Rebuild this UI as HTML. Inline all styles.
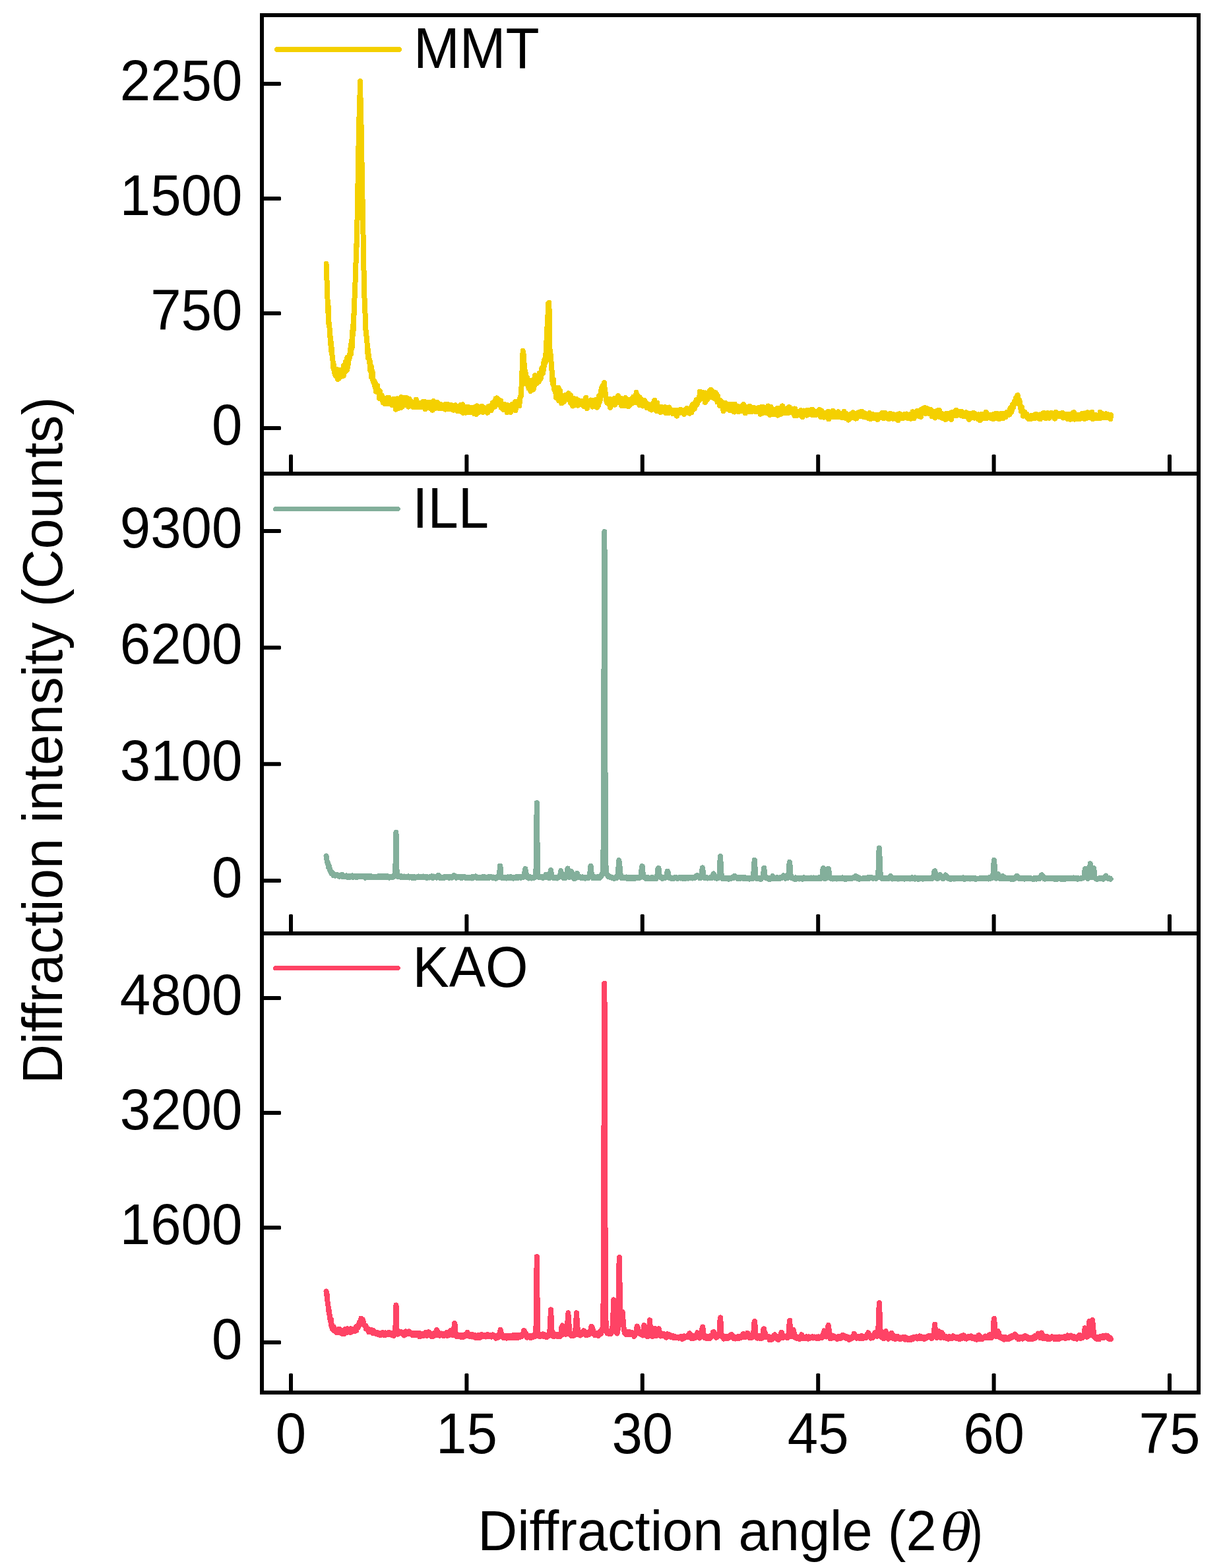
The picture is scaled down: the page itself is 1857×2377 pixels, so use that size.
<!DOCTYPE html>
<html lang="en">
<head>
<meta charset="utf-8">
<title>XRD patterns: MMT, ILL, KAO</title>
<style>
html,body{margin:0;padding:0;background:#fff;}
body{width:1857px;height:2377px;overflow:hidden;}
svg{display:block;}
text{font-family:"Liberation Sans",sans-serif;font-size:84px;fill:#000;}
.th{font-family:"Liberation Serif",serif;font-style:italic;}
.ax{stroke:#000;stroke-width:6;fill:none;stroke-linecap:butt;}
.tr{fill:#000;stroke:none;}
.d{fill:none;stroke-width:8;stroke-linejoin:round;stroke-linecap:round;}
</style>
</head>
<body>
<svg width="1857" height="2377" viewBox="0 0 1857 2377">
<rect x="0" y="0" width="1857" height="2377" fill="#fff"/>
<g id="curves" shape-rendering="crispEdges">
<polyline class="d" stroke="#F4D000" points="494.5,400 494.85,410.5 495.2,422.1 495.55,425.6 495.9,435.5 496.25,442 496.6,456.9 496.95,460.4 497.3,473.3 497.65,463.9 498,489.6 498.35,483.4 498.7,492.4 499.05,491.6 499.4,494.3 499.75,503.6 500.1,510.2 500.45,508.8 500.8,513.6 501.15,522.5 501.5,517.9 501.85,518.5 502.2,532.6 502.55,531 502.9,527.6 503.25,536 503.6,540.6 503.95,539.8 504.3,541.2 504.65,550.8 505,556.5 505.35,552.6 505.7,551.8 506.05,558.6 506.4,561.6 506.75,558.5 507.1,563.7 507.45,566.6 507.8,561.7 508.15,559.7 508.5,565.5 508.85,565.8 509.2,570.2 509.55,560.5 509.9,563.9 510.25,563.6 510.6,560.1 510.95,568.5 511.3,570.6 511.65,565.5 512,575 512.35,572.9 512.7,572.4 513.05,571.7 513.4,573.8 513.75,563.8 514.1,571.9 514.45,571.6 514.8,561.2 515.15,570.1 515.5,567.2 515.85,571.5 516.2,565.8 516.55,567.2 516.9,568.4 517.25,562.6 517.6,568.6 517.95,565.1 518.3,567.3 518.65,562.4 519,569.1 519.35,566.5 519.7,562.6 520.05,565.7 520.4,567.9 520.75,569.7 521.1,554 521.45,564.5 521.8,562 522.15,558.8 522.5,554 522.85,563.8 523.2,551.6 523.55,559.4 523.9,562.2 524.25,548 524.6,553.2 524.95,547.7 525.3,554.2 525.65,559.5 526,561.1 526.35,542.2 526.7,547.2 527.05,552.5 527.4,556 527.75,549.6 528.1,543 528.45,546.9 528.8,544.1 529.15,541.9 529.5,538 529.85,542.4 530.2,540.8 530.55,537.5 530.9,535.6 531.25,528.9 531.6,530.8 531.95,536.6 532.3,526.3 532.65,516.5 533,528.5 533.35,521.2 533.7,526.4 534.05,510.8 534.4,503.5 534.75,493.5 535.1,505.3 535.45,507.3 535.8,481.2 536.15,476.6 536.5,478.8 536.85,462.6 537.2,459.2 537.55,451.6 537.9,446.1 538.25,441.5 538.6,423 538.95,418.6 539.3,398.8 539.65,397.5 540,371.4 540.35,369.6 540.7,374.1 541.05,348.3 541.4,340.2 541.75,319.6 542.1,306.3 542.45,281.4 542.8,266.4 543.15,241.1 543.5,220.8 543.85,206.1 544.2,194.1 544.55,175.1 544.9,166.1 545.25,154.3 545.6,140.1 545.95,125.1 546,123 546.3,137.7 546.65,155.6 547,177.9 547.35,190.5 547.7,190.3 548.05,198.9 548.4,242.5 548.75,252.6 549.1,285.1 549.45,309.8 549.8,304.2 550.15,334.7 550.5,355.2 550.85,375.9 551.2,395.1 551.55,411.5 551.9,430.4 552.25,438 552.6,456.2 552.95,459.7 553.3,472.7 553.65,476.2 554,490.3 554.35,498.7 554.7,502 555.05,506.2 555.4,509.1 555.75,510.3 556.1,516.1 556.45,518.5 556.8,527.5 557.15,529.7 557.5,536.8 557.85,529.6 558.2,542.9 558.55,536.5 558.9,538.7 559.25,543.3 559.6,543.5 559.95,549.6 560.3,547.4 560.65,547.1 561,550.1 561.35,562.2 561.7,558.2 562.05,554.2 562.4,560.9 562.75,555.3 563.1,571.6 563.45,558.2 563.8,568.4 564.15,570 564.5,562.7 564.85,571.6 565.2,575.9 565.55,575 565.9,575.4 566.25,579.6 566.6,577.7 566.95,579.7 567.3,579.2 567.65,583.6 568,578.7 568.35,586.4 568.7,582.2 569.05,580.8 569.4,587.3 569.75,593.2 570.1,591.3 570.45,586.6 570.8,592.1 571.15,588.7 571.5,590.8 571.85,592.4 572.2,584.6 572.55,594.6 572.9,591.1 573.25,592.9 573.6,590.7 573.95,591.1 574.3,593.7 574.65,600.4 575,603.8 575.35,598.5 575.7,602.8 576.05,598.7 576.4,593.7 576.75,601.2 577.1,602.7 577.45,600.3 577.8,603.3 578.15,604.7 578.5,600.5 578.85,599 579.2,603.3 579.55,603.5 579.9,603.2 580.25,607.6 580.6,610.2 580.95,603.5 581.3,607.2 581.65,608.1 582,607.6 582.35,608.8 582.7,604.4 583.05,608.1 583.4,612.3 583.75,608.6 584.1,604.3 584.45,608.3 584.8,610.5 585.15,607.9 585.5,605.2 585.85,611.9 586.2,603.3 586.55,609 586.9,607.5 587.25,604 587.6,611.7 587.95,609.1 588.3,604.6 588.65,610.2 589,607.2 589.35,602.9 589.7,606.8 590.05,609.8 590.4,611 590.75,609.6 591.1,609.2 591.45,610.5 591.8,608.5 592.15,612.7 592.5,609.6 592.85,610.1 593.2,610.9 593.55,606.1 593.9,607.1 594.25,614 594.6,610.4 594.95,608.5 595.3,610.4 595.65,608 596,610.3 596.35,607.5 596.7,610.3 597.05,604.7 597.4,613.6 597.75,608 598.1,604.8 598.45,608.9 598.8,608.5 599.15,610.1 599.5,606.2 599.85,610.9 600.2,620.7 600.55,605.9 600.9,610.8 601.25,608.9 601.6,610.4 601.95,604.4 602.3,606.4 602.65,611.3 603,609.8 603.35,614.9 603.7,607.9 604.05,610.6 604.4,618.8 604.75,607.8 605.1,607.4 605.45,610 605.8,610 606.15,612.7 606.5,610.6 606.85,608 607.2,610.9 607.55,618.2 607.9,614.1 608.25,602 608.6,609.9 608.95,607.8 609.3,612.3 609.65,609.9 610,616.3 610.35,613.3 610.7,613.2 611.05,611.1 611.4,610.5 611.75,611.6 612.1,614.5 612.45,612.3 612.8,609.6 613.15,614.5 613.5,611.3 613.85,610.5 614.2,608.4 614.55,609.1 614.9,609 615.25,602.6 615.6,613.9 615.95,612.6 616.3,610.3 616.65,614.1 617,612.3 617.35,612.1 617.7,603.7 618.05,610.4 618.4,612.7 618.75,616 619.1,616.7 619.45,615.5 619.8,607.9 620.15,604.8 620.5,613.1 620.85,611.5 621.2,614.3 621.55,611.1 621.9,612.2 622.25,607.1 622.6,612.9 622.95,610.3 623.3,612.7 623.65,613.1 624,611.4 624.35,612.7 624.7,611.8 625.05,614.1 625.4,613.4 625.75,610.3 626.1,610.3 626.45,617.1 626.8,611.8 627.15,615 627.5,613.3 627.85,610.5 628.2,610 628.55,612.6 628.9,613 629.25,614.1 629.6,608.7 629.95,610.7 630.3,612.1 630.65,617.1 631,605.6 631.35,613.8 631.7,611 632.05,613.9 632.4,611.2 632.75,613.7 633.1,617.3 633.45,613.8 633.8,614.1 634.15,613.9 634.5,610.7 634.85,614.5 635.2,612.3 635.55,610.6 635.9,612.9 636.25,612.4 636.6,615.3 636.95,613 637.3,611.6 637.65,617.4 638,616.1 638.35,616.9 638.7,615.1 639.05,613 639.4,612.2 639.75,612.6 640.1,616.2 640.45,613.8 640.8,609.3 641.15,613.5 641.5,609.6 641.85,614.1 642.2,610.3 642.55,610.1 642.9,614.1 643.25,613.6 643.6,609.1 643.95,616 644.3,620.1 644.65,609.7 645,619.2 645.35,612.1 645.7,612.7 646.05,613.6 646.4,610 646.75,617.9 647.1,615.6 647.45,612.1 647.8,613.5 648.15,610 648.5,613.3 648.85,617 649.2,609.5 649.55,613.2 649.9,614.9 650.25,617.5 650.6,618.3 650.95,613.3 651.3,612.5 651.65,615.9 652,613.6 652.35,613.8 652.7,617.8 653.05,619.5 653.4,615.5 653.75,614.3 654.1,616.5 654.45,609.6 654.8,614.9 655.15,612 655.5,621.7 655.85,617 656.2,615.4 656.55,614.5 656.9,608 657.25,617.1 657.6,619.7 657.95,613.2 658.3,617.1 658.65,617.3 659,611 659.35,617.9 659.7,619.1 660.05,616 660.4,615.2 660.75,617.7 661.1,611.2 661.45,615.8 661.8,618.5 662.15,612.1 662.5,618.4 662.85,614.5 663.2,609.9 663.55,615.4 663.9,613.1 664.25,616.7 664.6,612.6 664.95,618.8 665.3,613.8 665.65,616.9 666,614.3 666.35,615.1 666.7,619.3 667.05,616.6 667.4,615 667.75,612.6 668.1,619.3 668.45,618.2 668.8,615.3 669.15,616.9 669.5,613.4 669.85,613.5 670.2,614.1 670.55,617.3 670.9,617.2 671.25,614.4 671.6,618.5 671.95,618.7 672.3,617 672.65,619.4 673,615.8 673.35,616.3 673.7,617.9 674.05,616.5 674.4,618.8 674.75,613.2 675.1,620.6 675.45,614.6 675.8,616.3 676.15,613 676.5,618.4 676.85,620.3 677.2,619.8 677.55,619.1 677.9,612.6 678.25,614.8 678.6,615.7 678.95,614.4 679.3,620 679.65,617.5 680,616.9 680.35,618.4 680.7,614.5 681.05,614.7 681.4,614.8 681.75,618.6 682.1,618.2 682.45,618.9 682.8,620.3 683.15,613.8 683.5,616 683.85,618 684.2,614 684.55,616.2 684.9,620.4 685.25,620.7 685.6,620.7 685.95,618 686.3,617.4 686.65,620.9 687,617 687.35,619 687.7,621.7 688.05,617.2 688.4,616.6 688.75,618.3 689.1,619.9 689.45,619.7 689.8,618.8 690.15,620 690.5,614.3 690.85,616.3 691.2,619.1 691.55,616.2 691.9,615.2 692.25,615.6 692.6,616.4 692.95,618.4 693.3,616.2 693.65,619.6 694,623.5 694.35,618.7 694.7,622.5 695.05,620 695.4,616.3 695.75,618.6 696.1,616.8 696.45,621.4 696.8,616.4 697.15,623 697.5,621.1 697.85,614.3 698.2,621.7 698.55,623.8 698.9,617.7 699.25,622.4 699.6,615.2 699.95,620.6 700.3,615.7 700.65,621.3 701,615.4 701.35,613.3 701.7,621.1 702.05,626.1 702.4,618.6 702.75,622.4 703.1,620.5 703.45,619.5 703.8,621.9 704.15,624.6 704.5,617.2 704.85,621.9 705.2,621.3 705.55,616.8 705.9,624.7 706.25,625.6 706.6,618.1 706.95,625.1 707.3,620.8 707.65,620.3 708,624.6 708.35,621.3 708.7,621.6 709.05,624.7 709.4,624.2 709.75,623.2 710.1,617.4 710.45,617 710.8,623.9 711.15,618.7 711.5,621.5 711.85,618.4 712.2,620.7 712.55,617.9 712.9,625.3 713.25,618.7 713.6,621 713.95,620.8 714.3,624.4 714.65,617.8 715,621.3 715.35,620.9 715.7,622.8 716.05,622.7 716.4,620.4 716.75,622.2 717.1,620.7 717.45,622.8 717.8,621.4 718.15,620.1 718.5,621.7 718.85,622.7 719.2,627.5 719.55,620.6 719.9,622.7 720.25,625.6 720.6,616.8 720.95,617.6 721.3,619 721.65,621.6 722,628 722.35,622.8 722.7,624.8 723.05,621.1 723.4,615.4 723.75,615.8 724.1,624.1 724.45,622 724.8,618.2 725.15,624.2 725.5,617.4 725.85,624.2 726.2,624.9 726.55,619.2 726.9,618.3 727.25,623.2 727.6,618.2 727.95,623.2 728.3,617.9 728.65,622.9 729,621.1 729.35,619.7 729.7,618.4 730.05,621.3 730.4,615.8 730.75,619.9 731.1,619.5 731.45,622.2 731.8,617.2 732.15,624.8 732.5,619.5 732.85,617.3 733.2,623.8 733.55,624.5 733.9,619.6 734.25,617.8 734.6,620.1 734.95,618.2 735.3,619.1 735.65,623.9 736,620.8 736.35,620.1 736.7,620.6 737.05,619.5 737.4,621.8 737.75,621.8 738.1,618.5 738.45,619.7 738.8,625.7 739.15,620.4 739.5,618.8 739.85,624.6 740.2,619.2 740.55,616.3 740.9,620.9 741.25,616.7 741.6,617.6 741.95,619.5 742.3,618 742.65,616 743,616.3 743.35,615.9 743.7,620.3 744.05,614.9 744.4,615 744.75,621.9 745.1,614.5 745.45,619.8 745.8,619.1 746.15,614.7 746.5,610.8 746.85,615.8 747.2,616.2 747.55,616.7 747.9,613.9 748.25,616.8 748.6,617.1 748.95,609.7 749.3,616.5 749.65,612.4 750,609.8 750.35,610.2 750.7,616.3 751.05,613.2 751.4,604.5 751.75,609.7 752.1,608.7 752.45,608.1 752.8,606.7 753.15,603.4 753.5,610.1 753.85,604.1 754.2,606.1 754.55,605.8 754.9,605.7 755.25,610.6 755.6,609.8 755.95,606.9 756.3,606.5 756.65,608.3 757,612.9 757.35,610.7 757.7,611.4 758.05,610.1 758.4,610.8 758.75,612.8 759.1,607.3 759.45,617.8 759.8,611.4 760.15,612.6 760.5,618.5 760.85,615.9 761.2,615.9 761.55,614.7 761.9,612.6 762.25,617.6 762.6,620.4 762.95,614.8 763.3,621.1 763.65,614.4 764,615.6 764.35,619.1 764.7,617.8 765.05,619.8 765.4,616 765.75,615.4 766.1,613.2 766.45,615.1 766.8,615.6 767.15,614.8 767.5,619.5 767.85,617 768.2,613.6 768.55,625.5 768.9,616.9 769.25,615.9 769.6,622.5 769.95,622.4 770.3,616.5 770.65,615.7 771,617.1 771.35,622.7 771.7,619.1 772.05,617.9 772.4,619.8 772.75,622.9 773.1,616 773.45,618.5 773.8,615.8 774.15,625 774.5,624 774.85,621.6 775.2,618.6 775.55,620.6 775.9,613.2 776.25,619.4 776.6,615 776.95,614.9 777.3,616.5 777.65,617.3 778,619.7 778.35,619.9 778.7,618.6 779.05,615.3 779.4,619.5 779.75,617.3 780.1,620.6 780.45,614.6 780.8,609.2 781.15,615.1 781.5,622 781.85,617.1 782.2,614.9 782.55,617.6 782.9,616.2 783.25,615.7 783.6,612.6 783.95,613.8 784.3,613.5 784.65,610.4 785,608.4 785.35,611.5 785.7,613.3 786.05,611.8 786.4,610.7 786.75,610.1 787.1,615.3 787.45,606.7 787.8,607.8 788.15,609.5 788.5,601.9 788.85,601.2 789.2,602 789.55,601.1 789.9,593.1 790.25,590.1 790.6,584.3 790.95,570.1 791.3,570.7 791.65,556.9 792,546 792.35,540.8 792.6,532 792.7,532.8 793.05,536 793.4,536.1 793.75,546.8 794.1,538.2 794.45,549.5 794.8,553.8 795.15,561 795.5,561.5 795.85,561.5 796.2,564 796.55,566.6 796.9,573.7 797.25,566.8 797.6,572.8 797.95,571.1 798.3,573.4 798.65,572.2 799,583.1 799.35,572.4 799.7,577.1 800.05,578.5 800.4,581.6 800.75,582.8 801.1,584.6 801.45,588.6 801.8,579.6 802.15,585.9 802.5,581.5 802.85,587.6 803.2,582.6 803.55,583.9 803.9,587.7 804.25,592.9 804.6,589.2 804.95,587.6 805.3,591.3 805.65,581.7 806,576.6 806.35,582.5 806.7,582.5 807.05,587.8 807.4,590.6 807.75,576.2 808.1,590.6 808.45,586.3 808.8,582.7 809.15,580 809.5,587.7 809.85,577.4 810.2,574.4 810.55,576.2 810.9,569.2 811.25,576.1 811.6,574 811.95,576.2 812.3,576.8 812.65,571.3 813,581.5 813.35,572.4 813.7,580.6 814.05,570.9 814.4,579.3 814.75,574.9 815.1,578.9 815.45,576.3 815.8,569.4 816.15,573.1 816.5,577.2 816.85,578.8 817.2,569.5 817.55,566.1 817.9,570.6 818.25,572.7 818.6,570.1 818.95,568.3 819.3,574.3 819.65,573.7 820,571.7 820.35,563.4 820.7,566.7 821.05,564.5 821.4,557.9 821.75,567.1 822.1,562.4 822.45,558.6 822.8,566.1 823.15,562 823.5,561.2 823.85,561.4 824.2,557.8 824.55,547 824.9,549.7 825.25,555 825.6,544.6 825.95,546.5 826.3,546.3 826.65,549.6 827,547 827.35,540.5 827.7,529.4 828.05,529.8 828.4,520.2 828.75,507.2 829.1,508.8 829.45,498 829.8,484.6 830.15,491.5 830.5,476.9 830.85,476.8 831.2,460.3 831.55,465.1 831.9,461.5 832.25,459.4 832.3,458.8 832.6,472.6 832.95,489.3 833.3,521.8 833.65,534.1 834,535.7 834.35,544.2 834.7,536.9 835.05,546.6 835.4,545.6 835.75,552.1 836.1,558.6 836.45,560.9 836.8,562.5 837.15,568.6 837.5,578.5 837.85,579.6 838.2,582 838.55,575 838.9,574.7 839.25,583.7 839.6,585.8 839.95,585.8 840.3,590.4 840.65,589.5 841,586.8 841.35,588.9 841.7,593.7 842.05,594.3 842.4,594.2 842.75,602.9 843.1,594.4 843.45,596.2 843.8,592.7 844.15,595.3 844.5,598.7 844.85,599.2 845.2,597.1 845.55,599.3 845.9,598.5 846.25,592.2 846.6,587.8 846.95,607.2 847.3,602.5 847.65,599.9 848,594.6 848.35,596.5 848.7,605.6 849.05,592.2 849.4,600.7 849.75,605 850.1,603 850.45,605.3 850.8,602.8 851.15,611.3 851.5,600.6 851.85,599.9 852.2,605.5 852.55,609.2 852.9,604.4 853.25,607.8 853.6,602.7 853.95,600.5 854.3,608.7 854.65,609.2 855,609 855.35,602.5 855.7,600.1 856.05,600 856.4,602.9 856.75,605.5 857.1,605.1 857.45,598.7 857.8,603.9 858.15,603.3 858.5,603.4 858.85,602.9 859.2,602.3 859.55,604.8 859.9,603.2 860.25,603.4 860.6,600.4 860.95,604.1 861.3,602.6 861.65,596.3 862,604.9 862.35,602.7 862.7,606.7 863.05,603.3 863.4,603.7 863.75,604.9 864.1,604.3 864.45,603.1 864.8,599 865.15,610.8 865.5,600 865.85,604.2 866.2,607.5 866.55,606.8 866.9,607.6 867.25,608.4 867.6,610.1 867.95,607.2 868.3,615.6 868.65,603.5 869,607.5 869.35,605.9 869.7,605.5 870.05,608.2 870.4,612 870.75,605.5 871.1,605.7 871.45,610.3 871.8,609.9 872.15,614.4 872.5,611.7 872.85,609.4 873.2,607.8 873.55,609.6 873.9,608.5 874.25,605 874.6,609.3 874.95,608.8 875.3,608.7 875.65,608.2 876,614.7 876.35,611.8 876.7,612.6 877.05,608 877.4,606.9 877.75,609.2 878.1,610.9 878.45,609.2 878.8,609.8 879.15,613.3 879.5,611.4 879.85,607.7 880.2,609.4 880.55,608.9 880.9,611.4 881.25,607.5 881.6,610.6 881.95,613.2 882.3,611.4 882.65,608.7 883,609.6 883.35,611.9 883.7,613.1 884.05,614.2 884.4,611.4 884.75,608.1 885.1,616.2 885.45,612.9 885.8,613.2 886.15,612.9 886.5,609 886.85,611.1 887.2,612.8 887.55,615 887.9,612.2 888.25,602.9 888.6,611.3 888.95,613 889.3,615.8 889.65,614.1 890,619.3 890.35,616.2 890.7,615.9 891.05,614.8 891.4,607.9 891.75,614.5 892.1,613.8 892.45,610.5 892.8,613.7 893.15,613.2 893.5,610.6 893.85,611.6 894.2,611.2 894.55,612.7 894.9,610.8 895.25,613.6 895.6,606.4 895.95,611.2 896.3,607.1 896.65,610.6 897,613.5 897.35,612.1 897.7,611.7 898.05,612.2 898.4,616.6 898.75,608.8 899.1,614.6 899.45,607.6 899.8,610.6 900.15,612.5 900.5,609.5 900.85,612.6 901.2,614.1 901.55,608.5 901.9,611.8 902.25,610.9 902.6,606.3 902.95,611.5 903.3,609.7 903.65,615.9 904,609.4 904.35,617 904.7,610.4 905.05,617.7 905.4,613.6 905.75,613.3 906.1,613.8 906.45,613.6 906.8,614.6 907.15,615.1 907.5,608.3 907.85,605 908.2,600.1 908.55,606.6 908.9,609.7 909.25,608 909.6,606.7 909.95,604 910.3,600.9 910.65,600 911,600.1 911.35,590.6 911.7,597.2 912.05,587.9 912.4,591.5 912.75,588.6 913.1,588.4 913.45,584.7 913.8,584 914.15,587.2 914.5,583.7 914.85,596.9 915,585.9 915.2,585.3 915.55,586.1 915.9,584.7 916.25,580 916.6,589.2 916.95,593.7 917.3,589.8 917.65,597.5 918,595.9 918.35,601.5 918.7,604.4 919.05,606.4 919.4,607.9 919.75,605 920.1,610.3 920.45,606.5 920.8,609.3 921.15,610.7 921.5,607.9 921.85,605.2 922.2,611.3 922.55,606.4 922.9,607.4 923.25,607.1 923.6,613.3 923.95,610.6 924.3,604.8 924.65,613.9 925,618.1 925.35,617.6 925.7,611 926.05,613.2 926.4,614.1 926.75,614.9 927.1,612.1 927.45,608.5 927.8,613.6 928.15,612.9 928.5,606.8 928.85,609.4 929.2,611 929.55,609.9 929.9,611.2 930.25,611.7 930.6,610.6 930.95,608.3 931.3,604.2 931.65,610 932,612.1 932.35,613.6 932.7,607 933.05,606.7 933.4,611.1 933.75,610.8 934.1,607 934.45,607.9 934.8,603.4 935.15,607.8 935.5,603.5 935.85,605.7 936.2,606 936.55,605 936.9,600 937.25,604.1 937.6,607.9 937.95,606.8 938.3,605.9 938.65,608.6 939,609.5 939.35,610.2 939.7,605.2 940.05,607.9 940.4,606.9 940.75,605.3 941.1,603.6 941.45,608 941.8,605.8 942.15,615.2 942.5,608.4 942.85,608.2 943.2,607.8 943.55,614.8 943.9,606.4 944.25,608.9 944.6,607.2 944.95,609.3 945.3,609.7 945.65,613.3 946,605.9 946.35,610.2 946.7,615.3 947.05,609 947.4,610.2 947.75,608.2 948.1,603.2 948.45,610.8 948.8,614.8 949.15,610 949.5,606.1 949.85,612.5 950.2,612.1 950.55,614.9 950.9,614.8 951.25,611.5 951.6,613.6 951.95,607.3 952.3,615.9 952.65,613.4 953,616 953.35,615.7 953.7,611.6 954.05,611.7 954.4,609.4 954.75,605.6 955.1,611.1 955.45,611.7 955.8,607.7 956.15,612.8 956.5,610.8 956.85,611.6 957.2,607.7 957.55,604.4 957.9,611.9 958.25,611.1 958.6,608.7 958.95,607.5 959.3,607.7 959.65,607.9 960,606.5 960.35,601.6 960.7,610 961.05,602.7 961.4,606.1 961.75,605.9 962.1,607.5 962.45,601.3 962.8,610 963.15,608 963.5,608.1 963.85,609.5 964.2,602.7 964.55,594.9 964.9,605.8 965.25,609 965.6,608.7 965.95,603.5 966.3,605.2 966.65,606.6 967,600.2 967.35,604 967.7,604.3 968.05,611.5 968.4,604.7 968.75,611.9 969.1,607.2 969.45,602.2 969.8,614.5 970.15,604.8 970.5,609.9 970.85,613.5 971.2,606.8 971.55,604.9 971.9,612.1 972.25,609.3 972.6,605.6 972.95,606.2 973.3,608.6 973.65,612.8 974,609.3 974.35,612.3 974.7,615.5 975.05,614.6 975.4,615.3 975.75,614.9 976.1,606.7 976.45,615.3 976.8,612.9 977.15,611.8 977.5,609.2 977.85,608 978.2,609.6 978.55,613 978.9,609.9 979.25,611.1 979.6,611.9 979.95,615.8 980.3,613.3 980.65,614 981,618.4 981.35,613.9 981.7,616.7 982.05,612.3 982.4,616.4 982.75,616.1 983.1,616.5 983.45,614.9 983.8,613.6 984.15,615.8 984.5,615.6 984.85,619.9 985.2,619.8 985.55,614.3 985.9,619.5 986.25,616.7 986.6,619.5 986.95,617.2 987.3,614.8 987.65,621.6 988,619.8 988.35,614.7 988.7,612.2 989.05,615.2 989.4,612.8 989.75,614.4 990.1,616.5 990.45,618.3 990.8,612.3 991.15,616.6 991.5,615.3 991.85,609.8 992.2,606.8 992.55,615.1 992.9,615.3 993.25,621 993.6,619.2 993.95,617.9 994.3,620.9 994.65,614 995,617.9 995.35,617.2 995.7,623.2 996.05,620.5 996.4,611 996.75,622.7 997.1,616.8 997.45,621.3 997.8,618.1 998.15,620 998.5,621.1 998.85,620 999.2,617.1 999.55,623.3 999.9,620.7 1000.25,619.7 1000.6,621.6 1000.95,618.5 1001.3,624.8 1001.65,620.6 1002,621 1002.35,621 1002.7,617.8 1003.05,617.2 1003.4,620.8 1003.75,621.2 1004.1,623.9 1004.45,621.6 1004.8,617.7 1005.15,621.9 1005.5,622.8 1005.85,623.3 1006.2,621.6 1006.55,617.7 1006.9,623.8 1007.25,619.1 1007.6,622.4 1007.95,617 1008.3,623.1 1008.65,619.2 1009,624 1009.35,625.8 1009.7,624.3 1010.05,618.5 1010.4,619.1 1010.75,619.3 1011.1,623.3 1011.45,622.5 1011.8,622.1 1012.15,622.6 1012.5,623.3 1012.85,623.6 1013.2,626.2 1013.55,621.9 1013.9,622.6 1014.25,617.5 1014.6,618.9 1014.95,620.6 1015.3,619.4 1015.65,623 1016,625.1 1016.35,621.5 1016.7,621.4 1017.05,621.4 1017.4,623.1 1017.75,621.4 1018.1,623.9 1018.45,623.7 1018.8,623.8 1019.15,624.9 1019.5,623.2 1019.85,623.5 1020.2,627.5 1020.55,623.2 1020.9,625.3 1021.25,623.5 1021.6,622.4 1021.95,622.4 1022.3,621.6 1022.65,623.7 1023,622.3 1023.35,622.8 1023.7,626.8 1024.05,623.6 1024.4,626.7 1024.75,624.7 1025.1,626.2 1025.45,622.7 1025.8,624.6 1026.15,630.6 1026.5,626.3 1026.85,626.8 1027.2,625 1027.55,626.6 1027.9,621.8 1028.25,622.6 1028.6,625.8 1028.95,626.7 1029.3,623.9 1029.65,624.5 1030,624.1 1030.35,624.5 1030.7,622.1 1031.05,621.5 1031.4,624.6 1031.75,620.6 1032.1,622.4 1032.45,623.1 1032.8,622.1 1033.15,625.2 1033.5,623.5 1033.85,624.3 1034.2,622 1034.55,622.6 1034.9,625.6 1035.25,625.2 1035.6,623.2 1035.95,625.1 1036.3,624.6 1036.65,624.5 1037,627.9 1037.35,623.1 1037.7,625 1038.05,625 1038.4,623.3 1038.75,621.1 1039.1,625.5 1039.45,624.4 1039.8,623.8 1040.15,623.7 1040.5,623.7 1040.85,621.4 1041.2,624.3 1041.55,619.1 1041.9,623.4 1042.25,619.8 1042.6,622.5 1042.95,625.1 1043.3,622.6 1043.65,622.1 1044,624.4 1044.35,622.5 1044.7,622.1 1045.05,622.1 1045.4,626.7 1045.75,624.6 1046.1,624.1 1046.45,619.9 1046.8,623.9 1047.15,618.7 1047.5,622.7 1047.85,618.1 1048.2,625.5 1048.55,615.7 1048.9,622.8 1049.25,621.3 1049.6,614 1049.95,617.6 1050.3,621.7 1050.65,620.4 1051,612.4 1051.35,615 1051.7,612.8 1052.05,612.7 1052.4,613.3 1052.75,619.8 1053.1,614.3 1053.45,612.7 1053.8,611.7 1054.15,614 1054.5,613.5 1054.85,608.1 1055.2,614.6 1055.55,606.3 1055.9,608.1 1056.25,609.7 1056.6,613 1056.95,606 1057.3,607.4 1057.65,610 1058,607.2 1058.35,608.2 1058.7,607.4 1059.05,604.2 1059.4,604.8 1059.75,605.2 1060.1,601.4 1060.45,606.2 1060.8,593.6 1061.15,597.2 1061.5,605.1 1061.85,601.7 1062.2,598.1 1062.55,601.6 1062.9,603.9 1063.25,598.4 1063.6,602.9 1063.95,599.9 1064.3,599.9 1064.65,600.1 1065,604 1065.35,596.5 1065.7,599.1 1066.05,602.5 1066.4,596.2 1066.75,595 1067.1,602.2 1067.45,600.3 1067.8,599.8 1068.15,600.8 1068.5,597 1068.85,610.1 1069.2,597 1069.55,598.8 1069.9,595.5 1070.25,598.9 1070.6,605.4 1070.95,600.4 1071.3,602.2 1071.65,598.4 1072,606 1072.35,600.3 1072.7,595.4 1073.05,602.1 1073.4,598.1 1073.75,601.2 1074.1,599.5 1074.45,599.8 1074.8,599.2 1075.15,595.5 1075.5,593.4 1075.85,601.7 1076.2,597.7 1076.55,599.1 1076.9,596.3 1077.25,590.8 1077.6,593.3 1077.95,602.3 1078.3,594.7 1078.65,595.9 1079,592 1079.35,595.1 1079.7,595.5 1080.05,595.9 1080.4,596.3 1080.75,594.2 1081.1,594.2 1081.45,596.3 1081.8,597.9 1082.15,596.7 1082.5,603.7 1082.85,598.8 1083.2,599.1 1083.55,596.8 1083.9,602.9 1084.25,596.4 1084.6,594.9 1084.95,597.5 1085.3,603.3 1085.65,597.8 1086,606.3 1086.35,602.4 1086.7,598 1087.05,602.7 1087.4,609.6 1087.75,601.5 1088.1,600.5 1088.45,606.8 1088.8,609.7 1089.15,609.2 1089.5,605.4 1089.85,607.5 1090.2,608.3 1090.55,611.3 1090.9,614.7 1091.25,608.1 1091.6,612.8 1091.95,608.2 1092.3,611.4 1092.65,607.3 1093,608.2 1093.35,612.1 1093.7,608.6 1094.05,614.3 1094.4,610.4 1094.75,612.7 1095.1,612.6 1095.45,612.3 1095.8,614 1096.15,617.1 1096.5,623.2 1096.85,611.5 1097.2,616.1 1097.55,615.1 1097.9,613.3 1098.25,616.7 1098.6,613.6 1098.95,615.8 1099.3,619.6 1099.65,610.7 1100,617 1100.35,617.6 1100.7,613.8 1101.05,617.9 1101.4,617.5 1101.75,615.7 1102.1,620 1102.45,613.2 1102.8,618.6 1103.15,616.3 1103.5,614.2 1103.85,616.6 1104.2,616.2 1104.55,619.5 1104.9,613.3 1105.25,616.9 1105.6,616.2 1105.95,621.8 1106.3,614.6 1106.65,620.5 1107,613 1107.35,618.8 1107.7,617.5 1108.05,619 1108.4,616.2 1108.75,612.9 1109.1,614.1 1109.45,621.8 1109.8,618.9 1110.15,616.1 1110.5,620.9 1110.85,616.6 1111.2,616.7 1111.55,615.5 1111.9,621.9 1112.25,624 1112.6,616.3 1112.95,619.6 1113.3,621.5 1113.65,624.5 1114,612.7 1114.35,619.4 1114.7,620.7 1115.05,615.2 1115.4,620.2 1115.75,619.6 1116.1,621.1 1116.45,617.7 1116.8,620.3 1117.15,617.7 1117.5,620.9 1117.85,619.7 1118.2,618.4 1118.55,615.7 1118.9,623.7 1119.25,622.3 1119.6,621.8 1119.95,617.8 1120.3,618.6 1120.65,623.9 1121,621.6 1121.35,617.4 1121.7,619.8 1122.05,620.1 1122.4,619.2 1122.75,617.4 1123.1,623.1 1123.45,621.4 1123.8,619.4 1124.15,615.9 1124.5,618.5 1124.85,620 1125.2,622.3 1125.55,619.1 1125.9,623 1126.25,620.5 1126.6,618.3 1126.95,613 1127.3,617.3 1127.65,616.5 1128,620 1128.35,621.2 1128.7,624 1129.05,620.4 1129.4,617.5 1129.75,626.5 1130.1,621.4 1130.45,619.9 1130.8,620 1131.15,617.2 1131.5,622.3 1131.85,621.7 1132.2,624.8 1132.55,623.6 1132.9,623 1133.25,624 1133.6,620.1 1133.95,619.7 1134.3,620.7 1134.65,617.7 1135,620.5 1135.35,620 1135.7,622.5 1136.05,620.8 1136.4,616 1136.75,620.9 1137.1,624.5 1137.45,616.2 1137.8,618.9 1138.15,620.9 1138.5,617.5 1138.85,619.5 1139.2,621 1139.55,617.5 1139.9,621.6 1140.25,621.9 1140.6,617.6 1140.95,620.9 1141.3,623.6 1141.65,620.4 1142,622 1142.35,622.5 1142.7,620.3 1143.05,623.4 1143.4,621.9 1143.75,618.4 1144.1,622.2 1144.45,623.1 1144.8,622.9 1145.15,619.3 1145.5,622.1 1145.85,624.4 1146.2,621.5 1146.55,623.9 1146.9,624.2 1147.25,620.8 1147.6,622.6 1147.95,620.2 1148.3,623.6 1148.65,620.7 1149,619.5 1149.35,620.9 1149.7,620.7 1150.05,621.9 1150.4,622.1 1150.75,618 1151.1,619.3 1151.45,621.9 1151.8,622.2 1152.15,621.2 1152.5,627.7 1152.85,623.8 1153.2,620.8 1153.55,622.9 1153.9,624.5 1154.25,622 1154.6,616.7 1154.95,621.4 1155.3,621.3 1155.65,626.6 1156,616.6 1156.35,625.2 1156.7,621 1157.05,623.7 1157.4,620.7 1157.75,621.9 1158.1,624.4 1158.45,621.7 1158.8,624.2 1159.15,621.4 1159.5,620.6 1159.85,621.1 1160.2,620.5 1160.55,621.5 1160.9,625.2 1161.25,618.9 1161.6,617.7 1161.95,621.9 1162.3,626.2 1162.65,624.6 1163,625.3 1163.35,625.2 1163.7,620.3 1164.05,622.4 1164.4,615.5 1164.75,620.7 1165.1,623.7 1165.45,618.4 1165.8,617.2 1166.15,619.1 1166.5,622.9 1166.85,625.3 1167.2,628.9 1167.55,626 1167.9,618.8 1168.25,616.8 1168.6,623 1168.95,625.3 1169.3,618.7 1169.65,621.4 1170,621.6 1170.35,622.9 1170.7,622.4 1171.05,624.1 1171.4,625.5 1171.75,623.1 1172.1,624.8 1172.45,627.9 1172.8,620.5 1173.15,620.5 1173.5,624.4 1173.85,627.7 1174.2,623.5 1174.55,625.8 1174.9,622.3 1175.25,625.3 1175.6,621.5 1175.95,624.7 1176.3,624 1176.65,624 1177,626.4 1177.35,625.6 1177.7,621.5 1178.05,625.2 1178.4,618.8 1178.75,625.4 1179.1,629.7 1179.45,624.3 1179.8,624.2 1180.15,623.1 1180.5,625 1180.85,621.8 1181.2,624.6 1181.55,622.2 1181.9,621.8 1182.25,623.2 1182.6,622.7 1182.95,618.5 1183.3,628 1183.65,623.2 1184,618.6 1184.35,625.5 1184.7,622.7 1185.05,623.3 1185.4,624.5 1185.75,620.5 1186.1,615.4 1186.45,622.4 1186.8,623.3 1187.15,625.1 1187.5,620.7 1187.85,621.9 1188.2,623.6 1188.55,621.8 1188.9,621.9 1189.25,623.2 1189.6,620 1189.95,626.5 1190.3,620.2 1190.65,622.6 1191,621.6 1191.35,620.7 1191.7,623.8 1192.05,624.9 1192.4,626 1192.75,623.8 1193.1,621.2 1193.45,624.5 1193.8,618.7 1194.15,622.4 1194.5,623.4 1194.85,623.4 1195.2,618.9 1195.55,617.9 1195.9,625.7 1196.25,620.1 1196.6,617 1196.95,617.9 1197.3,621 1197.65,623.8 1198,620.7 1198.35,623.6 1198.7,621 1199.05,621.5 1199.4,623.2 1199.75,620.1 1200.1,622.2 1200.45,620.9 1200.8,620.6 1201.15,624.2 1201.5,621 1201.85,623.6 1202.2,621.8 1202.55,623.9 1202.9,623.3 1203.25,627.5 1203.6,625.5 1203.95,625.9 1204.3,629.9 1204.65,619.5 1205,623.6 1205.35,619.8 1205.7,626.1 1206.05,627.1 1206.4,627.6 1206.75,626.7 1207.1,624.1 1207.45,630.2 1207.8,626.8 1208.15,625.5 1208.5,623.5 1208.85,627.1 1209.2,625 1209.55,625.1 1209.9,626.6 1210.25,626.6 1210.6,624.2 1210.95,629 1211.3,623.8 1211.65,623.5 1212,626.8 1212.35,626.4 1212.7,626.2 1213.05,625.1 1213.4,626.2 1213.75,624.8 1214.1,622.2 1214.45,627.8 1214.8,623.7 1215.15,625.5 1215.5,627.7 1215.85,626 1216.2,632.3 1216.55,622.7 1216.9,624.2 1217.25,626.1 1217.6,629 1217.95,625.3 1218.3,622.5 1218.65,628.5 1219,623.7 1219.35,625.3 1219.7,627.8 1220.05,624.2 1220.4,624.7 1220.75,626.9 1221.1,625.2 1221.45,626.4 1221.8,623.5 1222.15,625.4 1222.5,623.1 1222.85,622 1223.2,629.7 1223.55,626.6 1223.9,627.7 1224.25,623.3 1224.6,625.5 1224.95,625 1225.3,622.2 1225.65,626.7 1226,623.8 1226.35,625 1226.7,621.9 1227.05,627.7 1227.4,627.2 1227.75,626.3 1228.1,623.2 1228.45,624.1 1228.8,628.2 1229.15,624.6 1229.5,625.9 1229.85,625.6 1230.2,622.6 1230.55,628.8 1230.9,620.5 1231.25,625.7 1231.6,625 1231.95,621.4 1232.3,625.9 1232.65,626.3 1233,625.2 1233.35,623.1 1233.7,626.1 1234.05,627.7 1234.4,625.6 1234.75,629.1 1235.1,627.1 1235.45,626.9 1235.8,628.4 1236.15,623.6 1236.5,624 1236.85,626.5 1237.2,626.5 1237.55,628.9 1237.9,628.1 1238.25,625.9 1238.6,626 1238.95,624.9 1239.3,624.8 1239.65,624.6 1240,627.9 1240.35,624.7 1240.7,625 1241.05,626.3 1241.4,624.8 1241.75,625.5 1242.1,621 1242.45,627 1242.8,625.5 1243.15,626.7 1243.5,627.1 1243.85,622.1 1244.2,631.9 1244.55,626.8 1244.9,627 1245.25,622.5 1245.6,628.1 1245.95,627.7 1246.3,626 1246.65,627.5 1247,629.9 1247.35,626.3 1247.7,625.1 1248.05,630.2 1248.4,627.8 1248.75,626.9 1249.1,632.6 1249.45,627.8 1249.8,627.1 1250.15,628.1 1250.5,626.7 1250.85,628.1 1251.2,628 1251.55,626.3 1251.9,627.2 1252.25,628.5 1252.6,628.7 1252.95,629.2 1253.3,629.7 1253.65,628.6 1254,629.2 1254.35,627.3 1254.7,627.6 1255.05,630.5 1255.4,623.9 1255.75,629.1 1256.1,635.3 1256.45,624.3 1256.8,631.7 1257.15,624.5 1257.5,629.2 1257.85,632 1258.2,631.7 1258.55,626.5 1258.9,625.6 1259.25,625.4 1259.6,630.1 1259.95,627.7 1260.3,628.6 1260.65,629.2 1261,629.5 1261.35,629.8 1261.7,629 1262.05,625.2 1262.4,631.9 1262.75,622.8 1263.1,631.5 1263.45,627.6 1263.8,628.5 1264.15,627.8 1264.5,628.2 1264.85,628.9 1265.2,628.4 1265.55,626.7 1265.9,630.9 1266.25,627.9 1266.6,632 1266.95,628.9 1267.3,627.7 1267.65,630.2 1268,631.2 1268.35,627.3 1268.7,628.8 1269.05,632.4 1269.4,627.3 1269.75,627.7 1270.1,629.9 1270.45,626.9 1270.8,624.3 1271.15,626.1 1271.5,630.4 1271.85,631.1 1272.2,631 1272.55,630.6 1272.9,627.2 1273.25,631.2 1273.6,632.3 1273.95,628.4 1274.3,631.9 1274.65,629.2 1275,630.4 1275.35,630.8 1275.7,626.9 1276.05,633.2 1276.4,628.3 1276.75,629.9 1277.1,629 1277.45,631 1277.8,631 1278.15,630.1 1278.5,633.1 1278.85,630.7 1279.2,629.2 1279.55,624 1279.9,629.5 1280.25,629.5 1280.6,628.3 1280.95,628.3 1281.3,631.3 1281.65,632.3 1282,634.1 1282.35,632.5 1282.7,628.6 1283.05,630.6 1283.4,627.2 1283.75,631.6 1284.1,630.8 1284.45,628.8 1284.8,629.9 1285.15,629.6 1285.5,628.8 1285.85,632.9 1286.2,636.6 1286.55,631.8 1286.9,632.3 1287.25,630.4 1287.6,629.4 1287.95,634.7 1288.3,629.3 1288.65,630.9 1289,629.8 1289.35,631.3 1289.7,630 1290.05,631.3 1290.4,627.4 1290.75,629.9 1291.1,633 1291.45,627.9 1291.8,628.7 1292.15,633 1292.5,630.9 1292.85,632.3 1293.2,625.4 1293.55,630.4 1293.9,627.4 1294.25,627.2 1294.6,631 1294.95,632.6 1295.3,626.9 1295.65,627.8 1296,628.9 1296.35,629.8 1296.7,627.3 1297.05,634.7 1297.4,631.1 1297.75,628.9 1298.1,628.5 1298.45,634.4 1298.8,634.1 1299.15,628.1 1299.5,629.8 1299.85,631.7 1300.2,626.2 1300.55,627.4 1300.9,631.5 1301.25,626.9 1301.6,627.3 1301.95,625.2 1302.3,626.4 1302.65,629.4 1303,625.9 1303.35,624.7 1303.7,626.1 1304.05,631.4 1304.4,627.7 1304.75,625.9 1305.1,627.4 1305.45,628.3 1305.8,627.7 1306.15,623.6 1306.5,628.5 1306.85,627.5 1307.2,630 1307.55,625.3 1307.9,630.8 1308.25,627.6 1308.6,625.1 1308.95,631.9 1309.3,628.1 1309.65,630.1 1310,629.2 1310.35,632 1310.7,632.2 1311.05,632.4 1311.4,631.7 1311.75,627 1312.1,627.1 1312.45,631.1 1312.8,628.9 1313.15,632 1313.5,631.3 1313.85,628.1 1314.2,628.9 1314.55,628.7 1314.9,629.2 1315.25,630.6 1315.6,632.4 1315.95,633.8 1316.3,629 1316.65,629.8 1317,634.2 1317.35,632.8 1317.7,631.5 1318.05,626.2 1318.4,628.9 1318.75,631.3 1319.1,629.8 1319.45,635.1 1319.8,631.2 1320.15,631.6 1320.5,628.7 1320.85,628.8 1321.2,629.6 1321.55,629.7 1321.9,630.5 1322.25,631.8 1322.6,631.5 1322.95,633.1 1323.3,628.2 1323.65,631.4 1324,631.5 1324.35,634.3 1324.7,630.5 1325.05,631.7 1325.4,629.3 1325.75,631.9 1326.1,631.8 1326.45,629.7 1326.8,630.1 1327.15,630.9 1327.5,632.2 1327.85,628.6 1328.2,632.8 1328.55,630.3 1328.9,634.9 1329.25,634 1329.6,630.2 1329.95,629.7 1330.3,636.1 1330.65,632.3 1331,632.2 1331.35,630.1 1331.7,630.7 1332.05,632.7 1332.4,632.3 1332.75,629.3 1333.1,633.6 1333.45,631.6 1333.8,629 1334.15,633.1 1334.5,630.6 1334.85,632.6 1335.2,629.9 1335.55,631.7 1335.9,627.6 1336.25,631.8 1336.6,627.9 1336.95,631.3 1337.3,625.8 1337.65,630.9 1338,632.5 1338.35,632 1338.7,633.5 1339.05,628.8 1339.4,634.3 1339.75,634.4 1340.1,628.6 1340.45,629.5 1340.8,630 1341.15,631.1 1341.5,631.6 1341.85,626.1 1342.2,632.4 1342.55,630.7 1342.9,629.2 1343.25,633.2 1343.6,630.6 1343.95,633.6 1344.3,632.4 1344.65,630.7 1345,633.7 1345.35,633 1345.7,630.4 1346.05,628.1 1346.4,630.3 1346.75,632.7 1347.1,631 1347.45,635.1 1347.8,632 1348.15,631.9 1348.5,632.3 1348.85,629.7 1349.2,631.3 1349.55,630.2 1349.9,626.8 1350.25,628 1350.6,633.1 1350.95,630.7 1351.3,631.4 1351.65,628.7 1352,630.5 1352.35,633.3 1352.7,631.9 1353.05,630.7 1353.4,634.8 1353.75,631.7 1354.1,631.1 1354.45,634.1 1354.8,628.3 1355.15,633 1355.5,629.6 1355.85,630.3 1356.2,630.5 1356.55,632.2 1356.9,632.1 1357.25,632.6 1357.6,632.4 1357.95,634.8 1358.3,635.3 1358.65,633.4 1359,633.4 1359.35,631.1 1359.7,629.6 1360.05,633 1360.4,631.8 1360.75,633.5 1361.1,628 1361.45,637.1 1361.8,629.1 1362.15,631.7 1362.5,633.6 1362.85,628.7 1363.2,630.4 1363.55,627.4 1363.9,628.5 1364.25,627.5 1364.6,631.6 1364.95,632 1365.3,630.7 1365.65,633.9 1366,634.1 1366.35,631.2 1366.7,630.8 1367.05,630.6 1367.4,630.2 1367.75,633.8 1368.1,631.6 1368.45,630.4 1368.8,630.5 1369.15,632.1 1369.5,630.1 1369.85,631.6 1370.2,630.8 1370.55,633.7 1370.9,633.2 1371.25,627.9 1371.6,630.4 1371.95,632.2 1372.3,629.8 1372.65,632.4 1373,631.3 1373.35,631.8 1373.7,630.4 1374.05,631.2 1374.4,631.6 1374.75,627.4 1375.1,628.5 1375.45,628.3 1375.8,633.9 1376.15,631 1376.5,631.1 1376.85,630.7 1377.2,629.2 1377.55,628.7 1377.9,632 1378.25,629.4 1378.6,633.5 1378.95,630.5 1379.3,630.3 1379.65,629.6 1380,629.9 1380.35,630 1380.7,633.1 1381.05,634.8 1381.4,627.3 1381.75,630.3 1382.1,631.2 1382.45,627.7 1382.8,628.2 1383.15,628.5 1383.5,624.3 1383.85,630.8 1384.2,629.2 1384.55,629.1 1384.9,629.4 1385.25,629.7 1385.6,634.1 1385.95,629.4 1386.3,630.8 1386.65,627.8 1387,629.6 1387.35,628.1 1387.7,628.4 1388.05,626.7 1388.4,626.8 1388.75,629.6 1389.1,630.1 1389.45,629.5 1389.8,626.9 1390.15,629 1390.5,622.7 1390.85,630.3 1391.2,628.1 1391.55,628.7 1391.9,630.6 1392.25,627 1392.6,629.8 1392.95,626.5 1393.3,628.5 1393.65,626.2 1394,627.6 1394.35,630 1394.7,625 1395.05,624.9 1395.4,625.4 1395.75,626.6 1396.1,632.1 1396.45,624.2 1396.8,620.5 1397.15,623.6 1397.5,621.2 1397.85,623.4 1398.2,624.6 1398.55,622.1 1398.9,622.5 1399.25,619.4 1399.6,624.2 1399.95,621.7 1400.3,626 1400.65,625.8 1401,620.8 1401.35,621.9 1401.7,622.7 1402.05,624.3 1402.4,618 1402.75,622 1403.1,627 1403.45,622.3 1403.8,623.2 1404.15,622.9 1404.5,620.1 1404.85,625.5 1405.2,624 1405.55,623.9 1405.9,625.5 1406.25,625.8 1406.6,619.5 1406.95,625.4 1407.3,623 1407.65,625 1408,623 1408.35,622.9 1408.7,627.3 1409.05,625.2 1409.4,624.8 1409.75,624.9 1410.1,626 1410.45,625.9 1410.8,620.7 1411.15,624.3 1411.5,625.9 1411.85,628.4 1412.2,629.9 1412.55,624.9 1412.9,631.5 1413.25,627.4 1413.6,628.4 1413.95,626.1 1414.3,626 1414.65,630.7 1415,627 1415.35,627.3 1415.7,630.2 1416.05,631.6 1416.4,624.4 1416.75,627.4 1417.1,627.9 1417.45,632 1417.8,633.5 1418.15,628 1418.5,629 1418.85,630.1 1419.2,630.8 1419.55,627.6 1419.9,630.3 1420.25,626.9 1420.6,622.6 1420.95,625.5 1421.3,629.1 1421.65,630.4 1422,623.8 1422.35,624.9 1422.7,628.8 1423.05,621.6 1423.4,630.2 1423.75,631.3 1424.1,622.6 1424.45,630.8 1424.8,628.8 1425.15,632.3 1425.5,630 1425.85,628.9 1426.2,629.7 1426.55,631.5 1426.9,630 1427.25,629.7 1427.6,626.6 1427.95,630.8 1428.3,629.9 1428.65,633.8 1429,629.9 1429.35,629.8 1429.7,628.8 1430.05,631.7 1430.4,629.8 1430.75,628.8 1431.1,633.7 1431.45,634 1431.8,629.2 1432.15,627.9 1432.5,632.4 1432.85,628.1 1433.2,635.9 1433.55,629.5 1433.9,631.7 1434.25,626.8 1434.6,629.5 1434.95,631.8 1435.3,630.3 1435.65,628.2 1436,634.6 1436.35,630.8 1436.7,628.6 1437.05,627.7 1437.4,628.3 1437.75,631.8 1438.1,627.1 1438.45,628.8 1438.8,626.8 1439.15,631.3 1439.5,628.1 1439.85,630.3 1440.2,629.6 1440.55,627 1440.9,629.7 1441.25,630.2 1441.6,625.5 1441.95,629.5 1442.3,635.9 1442.65,627.1 1443,629.2 1443.35,624.7 1443.7,628.6 1444.05,626.2 1444.4,629.2 1444.75,627.2 1445.1,624.6 1445.45,629.7 1445.8,626.6 1446.15,624.7 1446.5,627.1 1446.85,624.7 1447.2,627.7 1447.55,626.6 1447.9,625.8 1448.25,628.2 1448.6,623.6 1448.95,628.7 1449.3,621.7 1449.65,630.1 1450,626.7 1450.35,625.5 1450.7,624.4 1451.05,627.3 1451.4,625.6 1451.75,625.4 1452.1,628.2 1452.45,624.7 1452.8,625.1 1453.15,626.6 1453.5,628 1453.85,625 1454.2,625.8 1454.55,625.7 1454.9,627.4 1455.25,629.3 1455.6,623.7 1455.95,625.7 1456.3,626 1456.65,627.6 1457,629.9 1457.35,626.4 1457.7,627.1 1458.05,629.3 1458.4,623.9 1458.75,625.2 1459.1,626 1459.45,627.2 1459.8,627.8 1460.15,626.2 1460.5,631.5 1460.85,626 1461.2,627.3 1461.55,630.3 1461.9,629.7 1462.25,628.1 1462.6,629 1462.95,630.1 1463.3,628.4 1463.65,630 1464,626.6 1464.35,628.9 1464.7,625.3 1465.05,627 1465.4,626.6 1465.75,632 1466.1,628.3 1466.45,630.1 1466.8,627.6 1467.15,629.2 1467.5,629.2 1467.85,628.1 1468.2,631.9 1468.55,626.6 1468.9,631.6 1469.25,636 1469.6,628.7 1469.95,630.7 1470.3,627.4 1470.65,630.8 1471,627.3 1471.35,632.3 1471.7,630.1 1472.05,627.4 1472.4,628.5 1472.75,627.9 1473.1,630.6 1473.45,633 1473.8,630.4 1474.15,628.7 1474.5,629.4 1474.85,631.4 1475.2,626.1 1475.55,632.4 1475.9,632 1476.25,626 1476.6,633.6 1476.95,627.7 1477.3,630.7 1477.65,633.6 1478,627.7 1478.35,627.3 1478.7,628.8 1479.05,628.8 1479.4,630.8 1479.75,630 1480.1,630.1 1480.45,630.1 1480.8,630.7 1481.15,629.3 1481.5,631.8 1481.85,631.1 1482.2,629 1482.55,634.9 1482.9,628.4 1483.25,632.6 1483.6,629.5 1483.95,631.8 1484.3,632.2 1484.65,632.9 1485,634.1 1485.35,629.3 1485.7,637.1 1486.05,632 1486.4,629.4 1486.75,628.3 1487.1,636 1487.45,634.6 1487.8,631.1 1488.15,632.7 1488.5,633.9 1488.85,631.3 1489.2,630.3 1489.55,631.1 1489.9,632.9 1490.25,631.2 1490.6,628.6 1490.95,632.7 1491.3,627.6 1491.65,629.6 1492,633.7 1492.35,631.7 1492.7,631.6 1493.05,631.4 1493.4,633.3 1493.75,631.1 1494.1,627.1 1494.45,631.7 1494.8,624.8 1495.15,626.9 1495.5,634.5 1495.85,633.3 1496.2,630.2 1496.55,631 1496.9,631.3 1497.25,633.2 1497.6,629.5 1497.95,629.3 1498.3,629.8 1498.65,631.4 1499,631.7 1499.35,630.3 1499.7,632.7 1500.05,629 1500.4,631 1500.75,629.7 1501.1,629 1501.45,633.7 1501.8,630.5 1502.15,629 1502.5,631.2 1502.85,629.1 1503.2,632.4 1503.55,632.9 1503.9,633.2 1504.25,628.9 1504.6,630.8 1504.95,634.9 1505.3,630.6 1505.65,633.7 1506,634.2 1506.35,628.1 1506.7,633.5 1507.05,632.5 1507.4,632.8 1507.75,634.5 1508.1,631.9 1508.45,631.1 1508.8,632.2 1509.15,630.1 1509.5,631.9 1509.85,626.6 1510.2,634.5 1510.55,629.7 1510.9,631.9 1511.25,631.4 1511.6,631 1511.95,631 1512.3,630.8 1512.65,627.2 1513,629.5 1513.35,633.2 1513.7,628.5 1514.05,628.4 1514.4,635.1 1514.75,633.1 1515.1,633.9 1515.45,630.5 1515.8,631.1 1516.15,632.1 1516.5,631.7 1516.85,630.3 1517.2,627.3 1517.55,628.9 1517.9,627.2 1518.25,633.7 1518.6,629.5 1518.95,630 1519.3,630.9 1519.65,630.4 1520,631.4 1520.35,628.9 1520.7,627 1521.05,634 1521.4,628.7 1521.75,629.2 1522.1,628.5 1522.45,629 1522.8,630.2 1523.15,631.7 1523.5,627.8 1523.85,630.5 1524.2,628.2 1524.55,632 1524.9,626.4 1525.25,629.1 1525.6,630.2 1525.95,625.3 1526.3,628.3 1526.65,628.1 1527,625.7 1527.35,626.8 1527.7,629.3 1528.05,627.3 1528.4,625.5 1528.75,625.7 1529.1,627 1529.45,628.7 1529.8,627.3 1530.15,626.9 1530.5,628.6 1530.85,620.9 1531.2,620.9 1531.55,618.5 1531.9,625.8 1532.25,617.9 1532.6,623.2 1532.95,624.8 1533.3,618.4 1533.65,619.3 1534,619.3 1534.35,621 1534.7,614 1535.05,618 1535.4,618.1 1535.75,615.6 1536.1,614.7 1536.45,616.9 1536.8,613 1537.15,611.3 1537.5,609.4 1537.85,611.4 1538.2,607.8 1538.55,610 1538.9,607.6 1539.25,610.2 1539.6,603.5 1539.95,605.6 1540.3,605.8 1540.65,605.4 1541,607.1 1541.35,604 1541.7,605.1 1542,608.1 1542.05,604.5 1542.4,599.1 1542.75,598.9 1543.1,606.6 1543.45,604.2 1543.8,607.3 1544.15,606.8 1544.5,612.3 1544.85,612.9 1545.2,606.8 1545.55,611.9 1545.9,611.2 1546.25,609.2 1546.6,615.8 1546.95,614.5 1547.3,617 1547.65,623.4 1548,621 1548.35,621.2 1548.7,618 1549.05,616.8 1549.4,624 1549.75,620.8 1550.1,622.6 1550.45,622.4 1550.8,624.4 1551.15,630.7 1551.5,625.1 1551.85,626 1552.2,627.6 1552.55,628.2 1552.9,625.2 1553.25,624.3 1553.6,627.2 1553.95,628.4 1554.3,627.4 1554.65,627.3 1555,627.8 1555.35,629.3 1555.7,630.2 1556.05,627.4 1556.4,630 1556.75,632.1 1557.1,631.5 1557.45,629.3 1557.8,631.7 1558.15,632.7 1558.5,634.5 1558.85,630.3 1559.2,635 1559.55,633.1 1559.9,634.2 1560.25,635 1560.6,631.9 1560.95,631.9 1561.3,633.1 1561.65,634.6 1562,632.1 1562.35,630.3 1562.7,631.6 1563.05,633.5 1563.4,634.9 1563.75,631.6 1564.1,631.8 1564.45,632 1564.8,631.9 1565.15,630.2 1565.5,631.1 1565.85,632.3 1566.2,632 1566.55,631.7 1566.9,629.5 1567.25,630.3 1567.6,629.9 1567.95,633.3 1568.3,634 1568.65,631.7 1569,634.1 1569.35,630.3 1569.7,630.3 1570.05,628.2 1570.4,631.3 1570.75,629.8 1571.1,630.9 1571.45,631.7 1571.8,630.2 1572.15,628.4 1572.5,630.5 1572.85,630.5 1573.2,630.6 1573.55,631.9 1573.9,630.1 1574.25,630 1574.6,634 1574.95,632.7 1575.3,630.2 1575.65,628.5 1576,629.5 1576.35,631.1 1576.7,632.1 1577.05,635.3 1577.4,629.8 1577.75,630.6 1578.1,629.5 1578.45,630.4 1578.8,629.4 1579.15,628 1579.5,632.3 1579.85,630.4 1580.2,632.8 1580.55,629 1580.9,630.6 1581.25,631.4 1581.6,626.1 1581.95,627.2 1582.3,631.5 1582.65,630.1 1583,626.1 1583.35,628.4 1583.7,627.7 1584.05,628.8 1584.4,633 1584.75,628.6 1585.1,634 1585.45,629.2 1585.8,628.2 1586.15,633 1586.5,631.7 1586.85,632.5 1587.2,633.7 1587.55,631.8 1587.9,632.1 1588.25,625.9 1588.6,627.8 1588.95,630.4 1589.3,629.9 1589.65,631 1590,628.4 1590.35,631.8 1590.7,633.7 1591.05,630.6 1591.4,631.1 1591.75,630.4 1592.1,631.3 1592.45,629.7 1592.8,628.2 1593.15,629.7 1593.5,629.4 1593.85,625.9 1594.2,629.7 1594.55,629.2 1594.9,629.6 1595.25,628 1595.6,630.2 1595.95,630.5 1596.3,627.7 1596.65,629.9 1597,630.9 1597.35,630.9 1597.7,627.4 1598.05,627.2 1598.4,629.5 1598.75,627.2 1599.1,634.7 1599.45,627.8 1599.8,627.8 1600.15,630.9 1600.5,628.6 1600.85,624.7 1601.2,629.3 1601.55,627.6 1601.9,628.6 1602.25,626.3 1602.6,627.8 1602.95,629.4 1603.3,629.6 1603.65,627.5 1604,628.3 1604.35,628.1 1604.7,630.1 1605.05,629.6 1605.4,627.3 1605.75,631.3 1606.1,628.5 1606.45,630.8 1606.8,628.1 1607.15,630.7 1607.5,629.8 1607.85,630.2 1608.2,631.2 1608.55,631.1 1608.9,630.5 1609.25,630.6 1609.6,627.7 1609.95,630.2 1610.3,625.9 1610.65,625.8 1611,629.8 1611.35,630 1611.7,633.5 1612.05,631.9 1612.4,632.8 1612.75,629.9 1613.1,631.5 1613.45,633 1613.8,631.8 1614.15,631.4 1614.5,631 1614.85,628.9 1615.2,629 1615.55,628 1615.9,631.7 1616.25,630.4 1616.6,629.6 1616.95,631.6 1617.3,629.8 1617.65,633 1618,634.8 1618.35,631.9 1618.7,629.6 1619.05,627.9 1619.4,635 1619.75,631.9 1620.1,628.6 1620.45,633.1 1620.8,627.6 1621.15,630.1 1621.5,630.5 1621.85,630.2 1622.2,628.7 1622.55,635.8 1622.9,630.2 1623.25,631.7 1623.6,631 1623.95,627.7 1624.3,629.8 1624.65,631.4 1625,632.8 1625.35,630.3 1625.7,631.7 1626.05,630.3 1626.4,632.2 1626.75,626 1627.1,632.2 1627.45,629.7 1627.8,629.8 1628.15,625.2 1628.5,628.8 1628.85,632.2 1629.2,635.7 1629.55,629.5 1629.9,629.6 1630.25,632 1630.6,631.6 1630.95,629.8 1631.3,630.6 1631.65,630.2 1632,632.2 1632.35,632.6 1632.7,634.6 1633.05,632.8 1633.4,632.3 1633.75,631.3 1634.1,632.9 1634.45,629 1634.8,635.4 1635.15,631.6 1635.5,633.9 1635.85,629.4 1636.2,633.1 1636.55,631.8 1636.9,630.6 1637.25,629.6 1637.6,629.2 1637.95,634.7 1638.3,633.5 1638.65,631.2 1639,631.4 1639.35,629.5 1639.7,627.3 1640.05,627.4 1640.4,629.8 1640.75,630.7 1641.1,628.6 1641.45,632.6 1641.8,632 1642.15,631.3 1642.5,627.4 1642.85,630.6 1643.2,630.9 1643.55,628.4 1643.9,626.5 1644.25,634.9 1644.6,632.3 1644.95,630.2 1645.3,634.3 1645.65,633.3 1646,631.9 1646.35,631.5 1646.7,632.6 1647.05,634 1647.4,631.1 1647.75,630.5 1648.1,632.2 1648.45,625.2 1648.8,631.2 1649.15,630.2 1649.5,631 1649.85,630.6 1650.2,631.7 1650.55,631.2 1650.9,631.1 1651.25,630.7 1651.6,631.9 1651.95,630 1652.3,633 1652.65,627.6 1653,631.4 1653.35,631.9 1653.7,628.4 1654.05,630.1 1654.4,633.7 1654.75,630.7 1655.1,629.2 1655.45,624.9 1655.8,631.7 1656.15,631.2 1656.5,632.2 1656.85,635.2 1657.2,631 1657.55,631.3 1657.9,629.6 1658.25,630.9 1658.6,630.9 1658.95,632.5 1659.3,632.1 1659.65,629.4 1660,630 1660.35,633.8 1660.7,629 1661.05,632.5 1661.4,634.3 1661.75,632.3 1662.1,631.5 1662.45,633.8 1662.8,631.7 1663.15,631 1663.5,630.6 1663.85,633.3 1664.2,632.4 1664.55,634.2 1664.9,630.3 1665.25,630.4 1665.6,630.1 1665.95,631.6 1666.3,629.6 1666.65,632.9 1667,631.7 1667.35,629 1667.7,624.9 1668.05,627.3 1668.4,633.9 1668.75,630.9 1669.1,631.3 1669.45,630.1 1669.8,631.8 1670.15,627.1 1670.5,626.9 1670.85,627.7 1671.2,631.1 1671.55,632.4 1671.9,632 1672.25,630.7 1672.6,628.4 1672.95,632.6 1673.3,630.4 1673.65,631 1674,630.8 1674.35,630 1674.7,629.5 1675.05,629.8 1675.4,628.4 1675.75,631.5 1676.1,630.6 1676.45,633.1 1676.8,627.3 1677.15,633.4 1677.5,630.8 1677.85,630.7 1678.2,629.3 1678.55,629.3 1678.9,627.9 1679.25,632.8 1679.6,630.6 1679.95,632.5 1680.3,632.7 1680.65,630 1681,630.5 1681.35,630.3 1681.7,633.1 1682.05,631.3 1682.4,631.3 1682.75,632.5 1683.1,630.8 1683.45,635.2 1683.8,629.1"/>
<polyline class="d" stroke="#83AF9B" points="494.5,1297.5 494.85,1299.7 495.2,1300.9 495.55,1304.3 495.9,1305.9 496.25,1308.1 496.6,1307 496.95,1310 497.3,1309.8 497.65,1311.8 498,1314.4 498.35,1313.6 498.7,1312.2 499.05,1313.9 499.4,1315 499.75,1318.2 500.1,1317.2 500.45,1317.3 500.8,1320.6 501.15,1320.6 501.5,1321.5 501.85,1321.6 502.2,1323.9 502.55,1322.8 502.9,1321.6 503.25,1322.5 503.6,1323 503.95,1323.8 504.3,1324.8 504.65,1323.9 505,1324.4 505.35,1326.8 505.7,1325.4 506.05,1325.2 506.4,1326 506.75,1325.2 507.1,1326.6 507.45,1327.2 507.8,1326.6 508.15,1327.7 508.5,1326.7 508.85,1327.1 509.2,1326.4 509.55,1326.4 509.9,1325.9 510.25,1327.1 510.6,1326.9 510.95,1327 511.3,1326.3 511.65,1326.3 512,1326.7 512.35,1327.5 512.7,1327.6 513.05,1326.8 513.4,1327.5 513.75,1328.5 514.1,1327.4 514.45,1328.7 514.8,1327.7 515.15,1328.3 515.5,1327.2 515.85,1328.4 516.2,1326.9 516.55,1327.8 516.9,1327.6 517.25,1326.5 517.6,1326.9 517.95,1328.5 518.3,1328.2 518.65,1328.7 519,1327.9 519.35,1326.1 519.7,1328.1 520.05,1327.6 520.4,1327.6 520.75,1327.8 521.1,1327.7 521.45,1327.5 521.8,1329 522.15,1328.4 522.5,1327.9 522.85,1328 523.2,1328.8 523.55,1328.5 523.9,1328.6 524.25,1327.9 524.6,1328.4 524.95,1327.9 525.3,1327.4 525.65,1329.2 526,1328.6 526.35,1328.4 526.7,1328.2 527.05,1329.3 527.4,1330.1 527.75,1329.2 528.1,1329.3 528.45,1328.1 528.8,1329 529.15,1329.1 529.5,1330 529.85,1329 530.2,1328.3 530.55,1328.8 530.9,1328.5 531.25,1329.7 531.6,1329.2 531.95,1329 532.3,1328.8 532.65,1329.1 533,1328.4 533.35,1328 533.7,1327.5 534.05,1329.6 534.4,1329.3 534.75,1329.4 535.1,1328.9 535.45,1329.9 535.8,1328.2 536.15,1329.6 536.5,1328.4 536.85,1328.7 537.2,1328.3 537.55,1329.1 537.9,1328.8 538.25,1329.3 538.6,1328.8 538.95,1328.4 539.3,1329.5 539.65,1329.9 540,1329.6 540.35,1329 540.7,1329.2 541.05,1328 541.4,1328.8 541.75,1329.6 542.1,1329.2 542.45,1328.4 542.8,1329.3 543.15,1328.7 543.5,1329.1 543.85,1327.8 544.2,1328.3 544.55,1328.7 544.9,1328.7 545.25,1329 545.6,1328.6 545.95,1328.5 546.3,1328.9 546.65,1329.2 547,1327.8 547.35,1328.5 547.7,1328.5 548.05,1328.8 548.4,1329.3 548.75,1328 549.1,1329 549.45,1327.7 549.8,1328.5 550.15,1328.7 550.5,1329 550.85,1328.7 551.2,1328.9 551.55,1328.8 551.9,1328.9 552.25,1327.9 552.6,1328.1 552.95,1328.7 553.3,1329.2 553.65,1329.5 554,1330.7 554.35,1329.2 554.7,1328.6 555.05,1329.1 555.4,1329.5 555.75,1329.2 556.1,1328.4 556.45,1328.9 556.8,1328.8 557.15,1328 557.5,1328.1 557.85,1329.5 558.2,1327.6 558.55,1329 558.9,1328.8 559.25,1329.7 559.6,1329.2 559.95,1328.3 560.3,1329.3 560.65,1328.3 561,1329.7 561.35,1329.6 561.7,1328.5 562.05,1328.9 562.4,1328.8 562.75,1328.2 563.1,1329.5 563.45,1329.2 563.8,1329.4 564.15,1329.6 564.5,1329.7 564.85,1329.6 565.2,1328.9 565.55,1329 565.9,1329.3 566.25,1329 566.6,1328.9 566.95,1330.2 567.3,1329.5 567.65,1330.3 568,1329 568.35,1329.4 568.7,1329 569.05,1329 569.4,1329.1 569.75,1329.2 570.1,1329.2 570.45,1330.4 570.8,1329.7 571.15,1328.8 571.5,1328.9 571.85,1329.7 572.2,1329.6 572.55,1329 572.9,1329.9 573.25,1328.6 573.6,1329.1 573.95,1330.3 574.3,1327.8 574.65,1329.1 575,1329.9 575.35,1329.3 575.7,1328.8 576.05,1328.7 576.4,1328 576.75,1328.3 577.1,1329.3 577.45,1329.1 577.8,1329.5 578.15,1329.3 578.5,1329.5 578.85,1328.3 579.2,1329 579.55,1328.9 579.9,1328.9 580.25,1328.6 580.6,1327.9 580.95,1329.5 581.3,1329.5 581.65,1330.4 582,1329.4 582.35,1329.9 582.7,1329.3 583.05,1328.8 583.4,1329.2 583.75,1328.1 584.1,1328.9 584.45,1328.9 584.8,1328.4 585.15,1329.8 585.5,1329.8 585.85,1329.5 586.2,1329.8 586.55,1330.3 586.9,1329.1 587.25,1328.5 587.6,1328.8 587.95,1329.7 588.3,1329.5 588.65,1328.6 589,1330.3 589.35,1329.7 589.7,1330.6 590.05,1330.2 590.4,1329.3 590.75,1329.6 591.1,1329.2 591.45,1329 591.8,1329.4 592.15,1329.8 592.5,1330.2 592.85,1328.8 593.2,1329.7 593.55,1329.4 593.9,1329.2 594.25,1329.9 594.6,1329.1 594.95,1329.9 595.3,1328.9 595.65,1328.4 596,1329.3 596.35,1328.1 596.7,1328.2 597.05,1328.7 597.4,1328.7 597.75,1328.5 598.1,1327.2 598.45,1327 598.8,1326.7 599.15,1322.3 599.5,1308.8 599.85,1287.8 600.2,1266.3 600.4,1262 600.55,1264.4 600.9,1284.9 601.25,1306.8 601.6,1321.9 601.95,1326.7 602.3,1327.1 602.65,1328.1 603,1328.6 603.35,1329.2 603.7,1327.9 604.05,1328.5 604.4,1329.3 604.75,1329.2 605.1,1328.2 605.45,1328.4 605.8,1329.1 606.15,1328.4 606.5,1329.1 606.85,1329.6 607.2,1329.2 607.55,1327.6 607.9,1329.8 608.25,1329.9 608.6,1330 608.95,1329.7 609.3,1328.5 609.65,1330.2 610,1329.6 610.35,1329.8 610.7,1329.2 611.05,1329.3 611.4,1329.4 611.75,1330.4 612.1,1329.8 612.45,1329.2 612.8,1328.7 613.15,1329.7 613.5,1329.4 613.85,1329.5 614.2,1329.9 614.55,1329.8 614.9,1329.5 615.25,1329.6 615.6,1329.4 615.95,1329.8 616.3,1329.9 616.65,1329.6 617,1329.2 617.35,1330.1 617.7,1330.2 618.05,1329 618.4,1329.8 618.75,1329.5 619.1,1328.5 619.45,1329.8 619.8,1330.2 620.15,1329.3 620.5,1329.4 620.85,1330.4 621.2,1329.2 621.55,1329.3 621.9,1329.8 622.25,1330.3 622.6,1330.2 622.95,1329.6 623.3,1329.7 623.65,1329.8 624,1329.6 624.35,1329.3 624.7,1329.2 625.05,1330.2 625.4,1329.7 625.75,1331.4 626.1,1330.2 626.45,1329.5 626.8,1329.9 627.15,1329.9 627.5,1329.9 627.85,1329.9 628.2,1329.9 628.55,1329.5 628.9,1330 629.25,1330.8 629.6,1329.4 629.95,1329.5 630.3,1329.9 630.65,1330.2 631,1330 631.35,1330.2 631.7,1329.5 632.05,1329.3 632.4,1329.8 632.75,1329.8 633.1,1330.4 633.45,1330.4 633.8,1328.7 634.15,1330.2 634.5,1329.3 634.85,1328.6 635.2,1330 635.55,1329.6 635.9,1329.4 636.25,1328.9 636.6,1329 636.95,1329.6 637.3,1328.9 637.65,1329.6 638,1329.8 638.35,1329.7 638.7,1330.1 639.05,1329.8 639.4,1329.2 639.75,1329.2 640.1,1329.7 640.45,1330.1 640.8,1329.7 641.15,1329.3 641.5,1329.6 641.85,1328.6 642.2,1329.1 642.55,1329.4 642.9,1329.6 643.25,1329.5 643.6,1329.5 643.95,1329.1 644.3,1329.4 644.65,1329.8 645,1328.6 645.35,1329.1 645.7,1329.5 646.05,1330.6 646.4,1330.3 646.75,1330.8 647.1,1330.7 647.45,1329.8 647.8,1329.9 648.15,1329.3 648.5,1330.5 648.85,1330.3 649.2,1330.1 649.55,1330.2 649.9,1330 650.25,1329.8 650.6,1329.7 650.95,1330.4 651.3,1329.2 651.65,1329 652,1329.6 652.35,1330.2 652.7,1329.7 653.05,1329.4 653.4,1329.9 653.75,1329.4 654.1,1328.4 654.45,1328.9 654.8,1328.4 655.15,1329.5 655.5,1329.5 655.85,1330.1 656.2,1331.2 656.55,1329.6 656.9,1330 657.25,1329.8 657.6,1328.5 657.95,1329.5 658.3,1329.6 658.65,1330.1 659,1329.4 659.35,1329.2 659.7,1330.3 660.05,1330 660.4,1329.5 660.75,1329.5 661.1,1329.7 661.45,1330.2 661.8,1330.5 662.15,1328.7 662.5,1329.8 662.85,1329.1 663.2,1329 663.55,1328.9 663.9,1327.3 664.25,1328.2 664.6,1326.7 664.95,1327.4 665.3,1327.6 665.65,1329.7 666,1330 666.35,1329.8 666.7,1330 667.05,1329.5 667.4,1330.9 667.75,1330.7 668.1,1330.5 668.45,1330 668.8,1330.1 669.15,1330.2 669.5,1331 669.85,1329.7 670.2,1330.3 670.55,1331.3 670.9,1330.8 671.25,1331.3 671.6,1330.4 671.95,1330.3 672.3,1330.7 672.65,1330.3 673,1330.1 673.35,1329.7 673.7,1329.1 674.05,1330.9 674.4,1329.8 674.75,1329.7 675.1,1330.4 675.45,1329.4 675.8,1328.9 676.15,1329.4 676.5,1329.5 676.85,1329.6 677.2,1329.6 677.55,1329.8 677.9,1329.5 678.25,1329.9 678.6,1329.6 678.95,1329.3 679.3,1329.9 679.65,1329.8 680,1330.6 680.35,1329.8 680.7,1329.2 681.05,1329.8 681.4,1329.4 681.75,1330.6 682.1,1328.9 682.45,1329.4 682.8,1329.4 683.15,1329.8 683.5,1329.8 683.85,1329.1 684.2,1328.7 684.55,1329.9 684.9,1330.6 685.25,1330.5 685.6,1329.5 685.95,1330 686.3,1329 686.65,1328.4 687,1329.6 687.35,1328.8 687.7,1327.8 688.05,1327.2 688.4,1327.8 688.75,1327.6 689.1,1327.6 689.45,1328.6 689.8,1328.8 690.15,1328.9 690.5,1329.1 690.85,1330 691.2,1329.3 691.55,1329.1 691.9,1330.6 692.25,1330.2 692.6,1330 692.95,1329.9 693.3,1329.9 693.65,1329.2 694,1329.9 694.35,1330.1 694.7,1329.9 695.05,1330.3 695.4,1329.6 695.75,1330 696.1,1329 696.45,1329.9 696.8,1329.7 697.15,1329.2 697.5,1329.7 697.85,1329.9 698.2,1329.7 698.55,1330.6 698.9,1329.5 699.25,1330.4 699.6,1330.3 699.95,1329.5 700.3,1330.7 700.65,1329.2 701,1330.2 701.35,1329.9 701.7,1330.3 702.05,1329.2 702.4,1329.5 702.75,1329.7 703.1,1330.1 703.45,1330.3 703.8,1330.3 704.15,1330.1 704.5,1329.8 704.85,1329.5 705.2,1330.1 705.55,1330.7 705.9,1330.8 706.25,1330.1 706.6,1330.9 706.95,1329.6 707.3,1330.8 707.65,1329.9 708,1330.6 708.35,1329.9 708.7,1329.8 709.05,1330.1 709.4,1331.2 709.75,1330.1 710.1,1330.8 710.45,1330.5 710.8,1330.7 711.15,1330.9 711.5,1331 711.85,1330 712.2,1330.8 712.55,1330.9 712.9,1330.2 713.25,1330.7 713.6,1330.1 713.95,1331.1 714.3,1330.4 714.65,1330.6 715,1331.2 715.35,1331.4 715.7,1330.4 716.05,1330.2 716.4,1331 716.75,1328.9 717.1,1330.9 717.45,1330.7 717.8,1329.5 718.15,1330.6 718.5,1330 718.85,1330.1 719.2,1328.8 719.55,1329.7 719.9,1329.8 720.25,1329.7 720.6,1329.7 720.95,1329.7 721.3,1328.4 721.65,1329.7 722,1329.5 722.35,1329.9 722.7,1329.7 723.05,1330.1 723.4,1330.3 723.75,1331.2 724.1,1329.8 724.45,1331.2 724.8,1330.3 725.15,1330.1 725.5,1329.8 725.85,1331 726.2,1329.7 726.55,1330.8 726.9,1330.6 727.25,1330 727.6,1330 727.95,1330.5 728.3,1330.4 728.65,1330.7 729,1330.4 729.35,1330.1 729.7,1330.5 730.05,1329.7 730.4,1330.8 730.75,1330.3 731.1,1329.6 731.45,1329.7 731.8,1330 732.15,1329.2 732.5,1331 732.85,1330.8 733.2,1329.7 733.55,1330.4 733.9,1331.3 734.25,1330.7 734.6,1329.9 734.95,1329.3 735.3,1329.4 735.65,1331 736,1330.7 736.35,1329.6 736.7,1330.7 737.05,1330.1 737.4,1330 737.75,1330.1 738.1,1330 738.45,1331.2 738.8,1329.7 739.15,1330 739.5,1330.9 739.85,1330.9 740.2,1329.6 740.55,1331.1 740.9,1330.6 741.25,1329.3 741.6,1331 741.95,1329.2 742.3,1330.2 742.65,1329.3 743,1329 743.35,1330.4 743.7,1330.2 744.05,1329.9 744.4,1330.2 744.75,1330.1 745.1,1330 745.45,1329.7 745.8,1330.4 746.15,1330.1 746.5,1329.9 746.85,1329.9 747.2,1330.2 747.55,1329.5 747.9,1330.2 748.25,1329.9 748.6,1331 748.95,1329.8 749.3,1330 749.65,1330.2 750,1330.6 750.35,1330.5 750.7,1330.3 751.05,1331.3 751.4,1330.2 751.75,1330.3 752.1,1331.7 752.45,1329.8 752.8,1330.8 753.15,1330.4 753.5,1329.4 753.85,1329.8 754.2,1330.3 754.55,1329.1 754.9,1329.8 755.25,1330.3 755.6,1329.7 755.95,1329.7 756.3,1328.7 756.65,1327.5 757,1324.9 757.35,1320.7 757.7,1316.6 758.05,1312.5 758.2,1314.1 758.4,1313.3 758.75,1317 759.1,1323.7 759.45,1325.7 759.8,1327.7 760.15,1329.5 760.5,1329.2 760.85,1330.3 761.2,1330.8 761.55,1330.5 761.9,1330 762.25,1330.2 762.6,1330.6 762.95,1330.8 763.3,1330 763.65,1329.9 764,1330.6 764.35,1330.3 764.7,1330.3 765.05,1330.5 765.4,1329.9 765.75,1330.2 766.1,1330.8 766.45,1330.1 766.8,1330.2 767.15,1330.5 767.5,1330.5 767.85,1331.5 768.2,1329.8 768.55,1330.3 768.9,1331.2 769.25,1330.2 769.6,1330.4 769.95,1329.5 770.3,1330.6 770.65,1330.5 771,1330.4 771.35,1329.8 771.7,1330.2 772.05,1330.1 772.4,1330.7 772.75,1330.3 773.1,1330.6 773.45,1329.5 773.8,1330.2 774.15,1328.9 774.5,1330.3 774.85,1330.7 775.2,1330.1 775.55,1331.4 775.9,1329.8 776.25,1330.2 776.6,1330.2 776.95,1330.4 777.3,1330.4 777.65,1329.9 778,1330.1 778.35,1331.7 778.7,1330.3 779.05,1330.9 779.4,1329.8 779.75,1330.3 780.1,1330.7 780.45,1330.2 780.8,1330.1 781.15,1330.3 781.5,1330.5 781.85,1331 782.2,1331.1 782.55,1329.6 782.9,1329 783.25,1329.9 783.6,1330.1 783.95,1330.5 784.3,1330.7 784.65,1329.7 785,1331.1 785.35,1330.2 785.7,1329.2 786.05,1330.5 786.4,1330.1 786.75,1330.1 787.1,1329.1 787.45,1329.7 787.8,1329.9 788.15,1329.6 788.5,1330.1 788.85,1330.5 789.2,1330.7 789.55,1330.6 789.9,1329.8 790.25,1330.7 790.6,1330 790.95,1330.2 791.3,1329.7 791.65,1329.1 792,1328.6 792.35,1329.8 792.7,1329.4 793.05,1329.6 793.4,1329.9 793.75,1328.5 794.1,1327.8 794.45,1327.9 794.8,1326.5 795.15,1324 795.5,1321.4 795.85,1317.9 796.2,1317.8 796.4,1317 796.55,1318.3 796.9,1320.2 797.25,1320.9 797.6,1324.3 797.95,1326.2 798.3,1328.2 798.65,1329.6 799,1329.7 799.35,1330.1 799.7,1330.1 800.05,1329.7 800.4,1330.1 800.75,1330.3 801.1,1330.8 801.45,1330.8 801.8,1331.3 802.15,1329.7 802.5,1330.2 802.85,1329.3 803.2,1329.9 803.55,1329.4 803.9,1330.8 804.25,1330.7 804.6,1329.9 804.95,1330.7 805.3,1330.9 805.65,1331.4 806,1331 806.35,1330.7 806.7,1330.5 807.05,1330.8 807.4,1330.7 807.75,1330.2 808.1,1330 808.45,1331 808.8,1330.1 809.15,1330.2 809.5,1330.7 809.85,1330.1 810.2,1330.6 810.55,1329.3 810.9,1329.9 811.25,1328.4 811.6,1327.7 811.95,1326.7 812.3,1324.1 812.65,1312.9 813,1286.5 813.35,1249 813.7,1218.8 813.8,1217 814.05,1228 814.4,1265.6 814.75,1301.5 815.1,1319.9 815.45,1325.9 815.8,1328.6 816.15,1328.5 816.5,1328.6 816.85,1329.6 817.2,1329.2 817.55,1330 817.9,1329.8 818.25,1329.6 818.6,1330.2 818.95,1330.3 819.3,1328.7 819.65,1330 820,1330.3 820.35,1330.4 820.7,1329.9 821.05,1329.6 821.4,1330.2 821.75,1330.5 822.1,1329.2 822.45,1329.6 822.8,1330 823.15,1328.9 823.5,1329.8 823.85,1330.7 824.2,1329.8 824.55,1330.4 824.9,1329.7 825.25,1330.2 825.6,1330 825.95,1329.9 826.3,1328.5 826.65,1328.1 827,1326.9 827.35,1325.8 827.5,1327.1 827.7,1325.6 828.05,1326.6 828.4,1328.8 828.75,1328.8 829.1,1328.7 829.45,1329.9 829.8,1329.7 830.15,1330.1 830.5,1329.5 830.85,1330.5 831.2,1329.5 831.55,1330.4 831.9,1330.3 832.25,1330.4 832.6,1331.2 832.95,1328.6 833.3,1327.9 833.65,1326.4 834,1324.4 834.35,1323 834.7,1320.2 834.9,1319.6 835.05,1319.2 835.4,1321.4 835.75,1324 836.1,1326.8 836.45,1327.7 836.8,1329.4 837.15,1330.2 837.5,1330.3 837.85,1329.5 838.2,1330.7 838.55,1330.8 838.9,1330.5 839.25,1329.7 839.6,1329.6 839.95,1330.5 840.3,1330.1 840.65,1329.9 841,1331 841.35,1331 841.7,1330.9 842.05,1331.3 842.4,1331 842.75,1329.9 843.1,1331.2 843.45,1330.7 843.8,1330.9 844.15,1331.4 844.5,1330.8 844.85,1331.4 845.2,1330.8 845.55,1330.7 845.9,1330.4 846.25,1330.5 846.6,1329.5 846.95,1330.3 847.3,1330.2 847.65,1329.9 848,1328.5 848.35,1328 848.7,1328.6 849.05,1326.2 849.4,1325.9 849.75,1322.3 850.1,1321.9 850.3,1320.1 850.45,1320.9 850.8,1322.3 851.15,1324.8 851.5,1327.4 851.85,1328.4 852.2,1328.2 852.55,1329.8 852.9,1330 853.25,1329.9 853.6,1330.5 853.95,1331.2 854.3,1330.2 854.65,1331 855,1331.1 855.35,1329.9 855.7,1331.4 856.05,1331.3 856.4,1330.5 856.75,1331.2 857.1,1330.4 857.45,1330.8 857.8,1330.4 858.15,1329.1 858.5,1328.8 858.85,1327 859.2,1324.7 859.55,1321.6 859.9,1319.5 860.25,1317.3 860.5,1319.3 860.6,1316.4 860.95,1319.5 861.3,1321.1 861.65,1323.1 862,1326.9 862.35,1327.6 862.7,1329.9 863.05,1329.5 863.4,1329.9 863.75,1329.2 864.1,1329 864.45,1328 864.8,1325.5 865.15,1323.8 865.5,1323.7 865.85,1320.8 866,1322.9 866.2,1321.1 866.55,1322.1 866.9,1323.1 867.25,1325.6 867.6,1326.6 867.95,1328.7 868.3,1330.1 868.65,1330.2 869,1330.2 869.35,1330.2 869.7,1330.5 870.05,1330.2 870.4,1330.4 870.75,1332 871.1,1331.3 871.45,1330.7 871.8,1331.3 872.15,1331.5 872.5,1330.2 872.85,1330 873.2,1328.6 873.55,1327.4 873.9,1328.3 874.25,1328.8 874.6,1324.9 874.95,1323.9 875,1326.2 875.3,1326 875.65,1326.2 876,1327.8 876.35,1327.6 876.7,1328.8 877.05,1329.7 877.4,1329.5 877.75,1330.1 878.1,1330 878.45,1330.4 878.8,1330.2 879.15,1329.2 879.5,1330.3 879.85,1329.6 880.2,1330 880.55,1329.7 880.9,1330.9 881.25,1330.4 881.6,1330.4 881.95,1331 882.3,1330.8 882.65,1330.3 883,1329.4 883.35,1330.9 883.7,1330.5 884.05,1330.5 884.4,1331.1 884.75,1330.4 885.1,1330.7 885.45,1331.1 885.8,1330.9 886.15,1330.3 886.5,1331.2 886.85,1331 887.2,1331.5 887.55,1330.4 887.9,1330.6 888.25,1331.1 888.6,1330.6 888.95,1330.4 889.3,1330.3 889.65,1330.1 890,1329.9 890.35,1330 890.7,1330.6 891.05,1330.1 891.4,1329.5 891.75,1330.3 892.1,1331.1 892.45,1330.8 892.8,1328.9 893.15,1329 893.5,1328.8 893.85,1326.8 894.2,1324.1 894.55,1320.6 894.9,1317.3 895.25,1313.7 895.5,1315.4 895.6,1313 895.95,1315.8 896.3,1320.7 896.65,1323.8 897,1326 897.35,1328.2 897.7,1329 898.05,1329.8 898.4,1330.2 898.75,1331.3 899.1,1330.4 899.45,1331 899.8,1331.1 900.15,1331 900.5,1330.7 900.85,1331.1 901.2,1330.8 901.55,1330.7 901.9,1330.4 902.25,1329.5 902.6,1331.1 902.95,1330.9 903.3,1330.3 903.65,1330.4 904,1330.7 904.35,1329.9 904.7,1330.8 905.05,1330.6 905.4,1330.7 905.75,1330.8 906.1,1329.3 906.45,1330.6 906.8,1330 907.15,1330.7 907.5,1330.5 907.85,1330.4 908.2,1329.7 908.55,1331.2 908.9,1329.4 909.25,1328.9 909.6,1329.7 909.95,1328.1 910.3,1329.8 910.65,1329 911,1328.8 911.35,1328.3 911.7,1327.4 912.05,1325.6 912.4,1325.3 912.75,1325.3 913.1,1323.7 913.45,1322.6 913.8,1318.6 914.15,1310.3 914.5,1289.7 914.85,1239.3 915.2,1141.6 915.55,1004.3 915.9,872.1 916.25,807.2 916.3,806 916.6,844.7 916.95,964 917.3,1107.8 917.65,1213.6 918,1279.4 918.35,1307.4 918.7,1316.7 919.05,1321.9 919.4,1322.6 919.75,1324.6 920.1,1326.2 920.45,1326.2 920.8,1326.5 921.15,1327.3 921.5,1327.9 921.85,1328.5 922.2,1327.2 922.55,1327.7 922.9,1329.2 923.25,1329.1 923.6,1329.3 923.95,1329.6 924.3,1329.4 924.65,1329.4 925,1329.8 925.35,1330.2 925.7,1330.1 926.05,1330.1 926.4,1329.6 926.75,1330.4 927.1,1329.6 927.45,1329.7 927.8,1330.2 928.15,1330.3 928.5,1330.8 928.85,1330.7 929.2,1330.7 929.55,1330.5 929.9,1330.7 930.25,1330.7 930.6,1331.7 930.95,1331.1 931.3,1330.5 931.65,1330.4 932,1331.6 932.35,1330.4 932.7,1331 933.05,1330.8 933.4,1331.2 933.75,1330.2 934.1,1330.8 934.45,1330.5 934.8,1330.7 935.15,1330.8 935.5,1329.7 935.85,1328.6 936.2,1328.1 936.55,1324.5 936.9,1322.6 937.25,1317.5 937.6,1312.6 937.95,1307.6 938.3,1304.2 938.6,1306.5 938.65,1306.6 939,1307.3 939.35,1312 939.7,1315.5 940.05,1319.6 940.4,1323 940.75,1327.2 941.1,1329 941.45,1330.2 941.8,1329.7 942.15,1330.2 942.5,1329.7 942.85,1331.1 943.2,1330.8 943.55,1330.8 943.9,1330.7 944.25,1330.7 944.6,1330.5 944.95,1331.2 945.3,1330.3 945.65,1330.9 946,1330.7 946.35,1330 946.7,1329.9 947.05,1330.3 947.4,1330.8 947.75,1330.2 948.1,1331 948.45,1331.3 948.8,1331 949.15,1330 949.5,1329.7 949.85,1331.3 950.2,1331.6 950.55,1330.6 950.9,1331.3 951.25,1330.9 951.6,1330.6 951.95,1331.5 952.3,1330.7 952.65,1331.5 953,1331.8 953.35,1330.9 953.7,1331.7 954.05,1330.2 954.4,1331.5 954.75,1331 955.1,1332.3 955.45,1331 955.8,1330.6 956.15,1331.7 956.5,1330.2 956.85,1331.2 957.2,1330.4 957.55,1331.5 957.9,1331 958.25,1331.4 958.6,1330.9 958.95,1330.3 959.3,1329.8 959.65,1331.8 960,1331.1 960.35,1330.5 960.7,1330.9 961.05,1331.5 961.4,1330.4 961.75,1332.2 962.1,1331 962.45,1330.8 962.8,1331.5 963.15,1331 963.5,1330.4 963.85,1331.3 964.2,1331 964.55,1331.3 964.9,1330.2 965.25,1330.1 965.6,1330.9 965.95,1330.4 966.3,1329.6 966.65,1330.3 967,1330.7 967.35,1330 967.7,1330.8 968.05,1330 968.4,1330.2 968.75,1329.6 969.1,1329.9 969.45,1330.2 969.8,1330.6 970.15,1330.2 970.5,1330.5 970.85,1328.3 971.2,1328.7 971.55,1327.1 971.9,1324 972.25,1321.4 972.6,1317.3 972.95,1315.4 973.3,1313.1 973.4,1313.9 973.65,1312.9 974,1317.5 974.35,1319.9 974.7,1324.5 975.05,1325.8 975.4,1327.7 975.75,1329.4 976.1,1329.7 976.45,1329.7 976.8,1330.5 977.15,1330.6 977.5,1330.3 977.85,1330.6 978.2,1330.3 978.55,1330.9 978.9,1330.2 979.25,1331.8 979.6,1331.1 979.95,1331.6 980.3,1330.5 980.65,1331.3 981,1331 981.35,1331.6 981.7,1331.6 982.05,1330.5 982.4,1331.8 982.75,1330.7 983.1,1332 983.45,1331.2 983.8,1330.7 984.15,1331.6 984.5,1331.4 984.85,1330.8 985.2,1331 985.55,1331.6 985.9,1330.7 986.25,1331.1 986.6,1332.4 986.95,1331.2 987.3,1331.7 987.65,1331.6 988,1331.7 988.35,1331.6 988.7,1330 989.05,1330.8 989.4,1331.7 989.75,1330.8 990.1,1332.1 990.45,1331.2 990.8,1330.6 991.15,1331.4 991.5,1332.1 991.85,1330.8 992.2,1331.3 992.55,1330.6 992.9,1330.7 993.25,1331 993.6,1331.2 993.95,1331.1 994.3,1331.1 994.65,1332.1 995,1330 995.35,1329.2 995.7,1330 996.05,1328.5 996.4,1325.6 996.75,1325.5 997.1,1320.3 997.45,1316.8 997.8,1316.7 998,1316.7 998.15,1318.6 998.5,1316.1 998.85,1319.1 999.2,1322.9 999.55,1325.4 999.9,1327.6 1000.25,1328.5 1000.6,1328.8 1000.95,1329.9 1001.3,1330.7 1001.65,1330.7 1002,1330.1 1002.35,1330.6 1002.7,1330.6 1003.05,1330.3 1003.4,1330.4 1003.75,1330.7 1004.1,1332 1004.45,1330.7 1004.8,1330.2 1005.15,1330.6 1005.5,1330.5 1005.85,1331.3 1006.2,1329.6 1006.55,1330 1006.9,1331 1007.25,1330.9 1007.6,1330.7 1007.95,1331.1 1008.3,1330 1008.65,1330.7 1009,1329.9 1009.35,1329.5 1009.7,1330.1 1010.05,1328.6 1010.4,1327.5 1010.75,1326.5 1011.1,1323.2 1011.45,1322.6 1011.8,1322.9 1012,1320.6 1012.15,1321.7 1012.5,1322.7 1012.85,1322.7 1013.2,1324.7 1013.55,1327.4 1013.9,1327.4 1014.25,1329.5 1014.6,1330.2 1014.95,1330.6 1015.3,1330.7 1015.65,1331.2 1016,1330.5 1016.35,1331.5 1016.7,1331.2 1017.05,1331.3 1017.4,1330.9 1017.75,1331.5 1018.1,1330.7 1018.45,1331.5 1018.8,1331.5 1019.15,1330.7 1019.5,1330.6 1019.85,1330.8 1020.2,1331.1 1020.55,1331.4 1020.9,1331.5 1021.25,1332 1021.6,1331.8 1021.95,1331.1 1022.3,1330.8 1022.65,1330.4 1023,1331.3 1023.35,1331.1 1023.7,1330.8 1024.05,1330.9 1024.4,1330.9 1024.75,1329.7 1025.1,1331 1025.45,1331.2 1025.8,1330.9 1026.15,1330.5 1026.5,1331 1026.85,1331.3 1027.2,1332.1 1027.55,1331.8 1027.9,1331.5 1028.25,1331.3 1028.6,1330.5 1028.95,1330.8 1029.3,1330.5 1029.65,1331 1030,1331.5 1030.35,1331.5 1030.7,1331.4 1031.05,1330.9 1031.4,1331.4 1031.75,1330.7 1032.1,1329.8 1032.45,1330.8 1032.8,1330.8 1033.15,1329.9 1033.5,1330.5 1033.85,1329.7 1034.2,1330.8 1034.55,1331.6 1034.9,1330.8 1035.25,1331.7 1035.6,1331.2 1035.95,1330.8 1036.3,1330.3 1036.65,1331.5 1037,1331.4 1037.35,1330.5 1037.7,1331 1038.05,1331.8 1038.4,1330.8 1038.75,1331.4 1039.1,1330.3 1039.45,1330.8 1039.8,1331.7 1040.15,1330.6 1040.5,1330.4 1040.85,1330.2 1041.2,1330.7 1041.55,1330.1 1041.9,1330.7 1042.25,1331 1042.6,1331.5 1042.95,1330.6 1043.3,1331.5 1043.65,1331 1044,1330.5 1044.35,1330.8 1044.7,1331.4 1045.05,1331.3 1045.4,1330.9 1045.75,1330.5 1046.1,1330.7 1046.45,1330.4 1046.8,1330.4 1047.15,1330.6 1047.5,1331.3 1047.85,1329.9 1048.2,1330.5 1048.55,1330.1 1048.9,1331 1049.25,1331.1 1049.6,1331.4 1049.95,1330.5 1050.3,1330.7 1050.65,1331.1 1051,1330.9 1051.35,1330.8 1051.7,1330.9 1052.05,1331 1052.4,1330.8 1052.75,1331 1053.1,1330.1 1053.45,1330.6 1053.8,1330.1 1054.15,1330.5 1054.5,1329.9 1054.85,1330.1 1055.2,1330 1055.55,1328 1055.9,1327.5 1056.25,1327.7 1056.6,1328 1056.95,1327.4 1057,1327.1 1057.3,1327 1057.65,1327.2 1058,1328.3 1058.35,1329.1 1058.7,1329.5 1059.05,1329.6 1059.4,1329.4 1059.75,1330.1 1060.1,1330.5 1060.45,1330.2 1060.8,1331 1061.15,1330.2 1061.5,1330.8 1061.85,1331 1062.2,1330.9 1062.55,1330.1 1062.9,1329.7 1063.25,1326.9 1063.6,1324.5 1063.95,1323.1 1064.3,1318.6 1064.65,1317.4 1064.9,1315.4 1065,1318.3 1065.35,1319.1 1065.7,1320.1 1066.05,1322.1 1066.4,1326.2 1066.75,1328.1 1067.1,1329.7 1067.45,1330.7 1067.8,1330.3 1068.15,1330.3 1068.5,1330.4 1068.85,1330.3 1069.2,1329.9 1069.55,1329.9 1069.9,1330.4 1070.25,1329.7 1070.6,1330 1070.95,1331.2 1071.3,1330.3 1071.65,1331 1072,1331.2 1072.35,1330.8 1072.7,1331.3 1073.05,1330.8 1073.4,1330.6 1073.75,1330.9 1074.1,1330.9 1074.45,1330.8 1074.8,1330.8 1075.15,1330.6 1075.5,1331.3 1075.85,1330.8 1076.2,1330.7 1076.55,1331.3 1076.9,1330.2 1077.25,1330.7 1077.6,1331.3 1077.95,1330.6 1078.3,1331.3 1078.65,1330.5 1079,1330.2 1079.35,1330.1 1079.7,1329.5 1080.05,1328.8 1080.4,1328 1080.75,1327.8 1081.1,1326.4 1081.45,1325.2 1081.8,1324.5 1082.15,1327.8 1082.5,1326.1 1082.85,1328.2 1083.2,1327.7 1083.55,1329 1083.9,1331 1084.25,1330.3 1084.6,1330.5 1084.95,1331.1 1085.3,1330.7 1085.65,1331 1086,1331.2 1086.35,1331.6 1086.7,1331.2 1087.05,1331.2 1087.4,1331.7 1087.75,1331.7 1088.1,1330.9 1088.45,1329.9 1088.8,1330.3 1089.15,1331.2 1089.5,1330 1089.85,1329 1090.2,1327.3 1090.55,1325.2 1090.9,1318.1 1091.25,1309.8 1091.6,1302.2 1091.95,1298 1092,1303.5 1092.3,1301.5 1092.65,1308.3 1093,1315.8 1093.35,1323.6 1093.7,1326.1 1094.05,1327.9 1094.4,1329.8 1094.75,1330.7 1095.1,1331.9 1095.45,1330.8 1095.8,1330.5 1096.15,1330.7 1096.5,1330.5 1096.85,1330.6 1097.2,1331.1 1097.55,1331.2 1097.9,1330.7 1098.25,1331.6 1098.6,1331.2 1098.95,1331.4 1099.3,1331 1099.65,1331.4 1100,1331.5 1100.35,1331.7 1100.7,1331 1101.05,1331.8 1101.4,1331.2 1101.75,1331.5 1102.1,1331.8 1102.45,1332.3 1102.8,1331.5 1103.15,1331.2 1103.5,1331.6 1103.85,1332.1 1104.2,1331.4 1104.55,1332.8 1104.9,1330.7 1105.25,1332.2 1105.6,1332 1105.95,1331.9 1106.3,1330.8 1106.65,1331.8 1107,1331.7 1107.35,1331.7 1107.7,1331.1 1108.05,1331.1 1108.4,1331.9 1108.75,1331.4 1109.1,1331 1109.45,1330.7 1109.8,1331.1 1110.15,1330.2 1110.5,1331 1110.85,1330.8 1111.2,1329.8 1111.55,1330.6 1111.9,1330.8 1112.25,1330.1 1112.6,1328.9 1112.95,1328.9 1113.3,1329.5 1113.65,1327.7 1114,1328.3 1114.3,1329.2 1114.35,1328.3 1114.7,1328.3 1115.05,1329.3 1115.4,1330.1 1115.75,1329.9 1116.1,1329.5 1116.45,1329.8 1116.8,1330.6 1117.15,1330 1117.5,1331 1117.85,1331.7 1118.2,1329.9 1118.55,1331.2 1118.9,1331.4 1119.25,1330.9 1119.6,1331.4 1119.95,1331.1 1120.3,1331.3 1120.65,1332.1 1121,1330.8 1121.35,1330.2 1121.7,1330.3 1122.05,1329.9 1122.4,1330.7 1122.75,1330.6 1123.1,1330.8 1123.45,1330.7 1123.8,1331.5 1124.15,1331.1 1124.5,1331.3 1124.85,1330.4 1125.2,1330.6 1125.55,1330.2 1125.9,1330.5 1126.25,1330.9 1126.6,1330.2 1126.95,1330.5 1127.3,1331.9 1127.65,1330.9 1128,1330.3 1128.35,1330.5 1128.7,1331.1 1129.05,1331.6 1129.4,1331.1 1129.75,1331.4 1130.1,1331.1 1130.45,1330.5 1130.8,1331.4 1131.15,1330.7 1131.5,1331.8 1131.85,1330.7 1132.2,1330.9 1132.55,1330.7 1132.9,1330.9 1133.25,1331.4 1133.6,1331 1133.95,1331.8 1134.3,1331.3 1134.65,1331.9 1135,1331.2 1135.35,1331.7 1135.7,1331.7 1136.05,1331.3 1136.4,1332.6 1136.75,1332.1 1137.1,1331.6 1137.45,1331.3 1137.8,1331.4 1138.15,1331.3 1138.5,1331.5 1138.85,1330.8 1139.2,1331.3 1139.55,1330.9 1139.9,1332 1140.25,1331.4 1140.6,1331.9 1140.95,1332 1141.3,1330.6 1141.65,1330.6 1142,1327.8 1142.35,1324.2 1142.7,1317.1 1143.05,1311.5 1143.4,1307.6 1143.7,1304.7 1143.75,1303.7 1144.1,1307.1 1144.45,1312.5 1144.8,1319.4 1145.15,1324 1145.5,1328.7 1145.85,1330.1 1146.2,1330.1 1146.55,1329.8 1146.9,1330.6 1147.25,1332 1147.6,1330.3 1147.95,1330.8 1148.3,1330.9 1148.65,1331.6 1149,1330.6 1149.35,1331.4 1149.7,1330.9 1150.05,1331.2 1150.4,1330.9 1150.75,1331.8 1151.1,1331.2 1151.45,1331.3 1151.8,1332.1 1152.15,1331.7 1152.5,1332.6 1152.85,1331.6 1153.2,1331.6 1153.55,1331.4 1153.9,1332.6 1154.25,1331.9 1154.6,1331 1154.95,1331.2 1155.3,1330.6 1155.65,1330.8 1156,1329.3 1156.35,1327.8 1156.7,1326.8 1157.05,1325.2 1157.4,1322.3 1157.75,1320 1158.1,1318.2 1158.2,1315.8 1158.45,1318.4 1158.8,1320 1159.15,1323 1159.5,1326.4 1159.85,1327.8 1160.2,1327.9 1160.55,1329.8 1160.9,1330.2 1161.25,1330.8 1161.6,1330.6 1161.95,1330 1162.3,1330.8 1162.65,1331.2 1163,1330.4 1163.35,1331.5 1163.7,1331.5 1164.05,1332.3 1164.4,1331.7 1164.75,1331.6 1165.1,1332 1165.45,1332 1165.8,1332.3 1166.15,1331.3 1166.5,1330.8 1166.85,1333.2 1167.2,1332.2 1167.55,1331.9 1167.9,1332.9 1168.25,1331.1 1168.6,1331.2 1168.95,1331.2 1169.3,1331.5 1169.65,1330.7 1170,1330.9 1170.35,1330 1170.7,1330.4 1171.05,1329.6 1171.4,1328.2 1171.75,1329.3 1172.1,1329 1172.45,1330.1 1172.8,1330.5 1173.15,1331.9 1173.5,1331 1173.85,1330.6 1174.2,1331.5 1174.55,1330.9 1174.9,1332.3 1175.25,1331.6 1175.6,1332.1 1175.95,1331.2 1176.3,1330.9 1176.65,1331.3 1177,1330.5 1177.35,1330.8 1177.7,1330.9 1178.05,1331.2 1178.4,1330.6 1178.75,1330.4 1179.1,1331.9 1179.45,1331 1179.8,1331 1180.15,1331.3 1180.5,1331.2 1180.85,1330.7 1181.2,1330.8 1181.55,1331.9 1181.9,1331.7 1182.25,1331.4 1182.6,1331.8 1182.95,1330.2 1183.3,1331.2 1183.65,1331 1184,1330.1 1184.35,1331.2 1184.7,1331.3 1185.05,1330.9 1185.4,1329.8 1185.75,1330.2 1186.1,1329.9 1186.45,1329 1186.8,1328.7 1187.15,1328.1 1187.5,1328.3 1187.85,1327.2 1188,1328.8 1188.2,1327.3 1188.55,1327.7 1188.9,1328.6 1189.25,1328.6 1189.6,1329.1 1189.95,1330.5 1190.3,1329 1190.65,1329.5 1191,1331.7 1191.35,1331.2 1191.7,1331.2 1192.05,1331 1192.4,1331.1 1192.75,1330.4 1193.1,1330.6 1193.45,1330.2 1193.8,1331.1 1194.15,1330.7 1194.5,1329.9 1194.85,1329 1195.2,1326.6 1195.55,1322.5 1195.9,1320.2 1196.25,1313.8 1196.6,1308.1 1196.95,1306.8 1197,1307.6 1197.3,1308.7 1197.65,1312.3 1198,1318.1 1198.35,1322.2 1198.7,1327.3 1199.05,1329.4 1199.4,1330.4 1199.75,1329.9 1200.1,1331.2 1200.45,1331.4 1200.8,1331.4 1201.15,1329.9 1201.5,1330.3 1201.85,1331.5 1202.2,1330.8 1202.55,1331.6 1202.9,1331.5 1203.25,1331.9 1203.6,1331.3 1203.95,1331.1 1204.3,1331.9 1204.65,1331.5 1205,1331 1205.35,1330.6 1205.7,1333.2 1206.05,1331.4 1206.4,1331.4 1206.75,1330.6 1207.1,1331.1 1207.45,1331.5 1207.8,1331.6 1208.15,1331.8 1208.5,1331.1 1208.85,1331.7 1209.2,1332 1209.55,1331.3 1209.9,1331.4 1210.25,1330.6 1210.6,1331.1 1210.95,1330.9 1211.3,1331.9 1211.65,1331.5 1212,1332.4 1212.35,1331.7 1212.7,1332.1 1213.05,1332 1213.4,1331.7 1213.75,1331.1 1214.1,1332.4 1214.45,1331.6 1214.8,1330.8 1215.15,1331.3 1215.5,1331 1215.85,1332.2 1216.2,1332.1 1216.55,1332.4 1216.9,1332.7 1217.25,1331.3 1217.6,1330.6 1217.95,1331.1 1218.3,1331.7 1218.65,1330.3 1219,1331.2 1219.35,1332 1219.7,1331.1 1220.05,1331.4 1220.4,1331 1220.75,1332.1 1221.1,1332.2 1221.45,1330.8 1221.8,1330.9 1222.15,1331.2 1222.5,1331.4 1222.85,1331.4 1223.2,1331.3 1223.55,1331.5 1223.9,1331.6 1224.25,1331.9 1224.6,1331.1 1224.95,1330.7 1225.3,1331 1225.65,1332 1226,1331.5 1226.35,1331.5 1226.7,1331.9 1227.05,1331.9 1227.4,1332.3 1227.75,1330.8 1228.1,1331.3 1228.45,1331.5 1228.8,1331.7 1229.15,1331.1 1229.5,1330.6 1229.85,1331.1 1230.2,1331 1230.55,1331.2 1230.9,1331.8 1231.25,1331.7 1231.6,1330.8 1231.95,1331 1232.3,1331.4 1232.65,1332 1233,1331.3 1233.35,1331.4 1233.7,1330.6 1234.05,1331.1 1234.4,1331 1234.75,1331.6 1235.1,1331.4 1235.45,1331.1 1235.8,1331 1236.15,1331.6 1236.5,1331.1 1236.85,1332 1237.2,1331.6 1237.55,1331.3 1237.9,1331.8 1238.25,1330.7 1238.6,1331.7 1238.95,1330.9 1239.3,1331.7 1239.65,1331.2 1240,1331 1240.35,1330.6 1240.7,1331.4 1241.05,1331.6 1241.4,1330.8 1241.75,1332.2 1242.1,1331.4 1242.45,1330.8 1242.8,1332.4 1243.15,1331 1243.5,1331.8 1243.85,1329.6 1244.2,1332.1 1244.55,1331.2 1244.9,1331 1245.25,1330.9 1245.6,1329.6 1245.95,1330 1246.3,1328.5 1246.65,1326.2 1247,1322.4 1247.35,1318.3 1247.7,1317.2 1248,1316.9 1248.05,1316 1248.4,1317.1 1248.75,1319.7 1249.1,1324.3 1249.45,1327.8 1249.8,1328.8 1250.15,1329.6 1250.5,1331.9 1250.85,1330.1 1251.2,1331 1251.55,1331 1251.9,1331.8 1252.25,1331 1252.6,1330.2 1252.95,1330.3 1253.3,1330.5 1253.65,1329.6 1254,1327.9 1254.35,1325.9 1254.7,1322.3 1255.05,1319.5 1255.4,1317.9 1255.75,1316.7 1255.8,1317.2 1256.1,1316.8 1256.45,1321.7 1256.8,1321.6 1257.15,1326.6 1257.5,1328.6 1257.85,1330.6 1258.2,1331.4 1258.55,1330.5 1258.9,1331.6 1259.25,1331.8 1259.6,1331.9 1259.95,1331.6 1260.3,1331.3 1260.65,1332.2 1261,1331.5 1261.35,1331.3 1261.7,1331.6 1262.05,1331.3 1262.4,1331.1 1262.75,1331.4 1263.1,1332.5 1263.45,1331.5 1263.8,1331.4 1264.15,1331 1264.5,1331.5 1264.85,1330.7 1265.2,1331.6 1265.55,1331.4 1265.9,1331.4 1266.25,1331.7 1266.6,1331.4 1266.95,1331.8 1267.3,1331.8 1267.65,1331.8 1268,1331.6 1268.35,1332 1268.7,1331.5 1269.05,1332.4 1269.4,1331.6 1269.75,1332.2 1270.1,1331.7 1270.45,1331.6 1270.8,1331.1 1271.15,1331.6 1271.5,1331.5 1271.85,1331.5 1272.2,1331.7 1272.55,1331.5 1272.9,1330.9 1273.25,1330.9 1273.6,1331.7 1273.95,1331.5 1274.3,1332.1 1274.65,1332.3 1275,1331.9 1275.35,1331.7 1275.7,1331.8 1276.05,1331.5 1276.4,1331.3 1276.75,1330.4 1277.1,1332 1277.45,1332.1 1277.8,1331.7 1278.15,1331.7 1278.5,1332.1 1278.85,1332 1279.2,1331.7 1279.55,1331.5 1279.9,1331.9 1280.25,1331.9 1280.6,1332.6 1280.95,1331.2 1281.3,1331.9 1281.65,1331.2 1282,1331.4 1282.35,1332.8 1282.7,1331.5 1283.05,1331.6 1283.4,1331.2 1283.75,1331.9 1284.1,1331.3 1284.45,1330.7 1284.8,1331.5 1285.15,1331.9 1285.5,1331.5 1285.85,1331.6 1286.2,1331.2 1286.55,1331 1286.9,1331.5 1287.25,1331 1287.6,1331.2 1287.95,1331.1 1288.3,1331.5 1288.65,1331.9 1289,1331.5 1289.35,1332.1 1289.7,1331.9 1290.05,1331.5 1290.4,1331.2 1290.75,1331.6 1291.1,1330.9 1291.45,1331.8 1291.8,1330.8 1292.15,1330.7 1292.5,1331 1292.85,1330.6 1293.2,1331.4 1293.55,1330.8 1293.9,1331 1294.25,1331.3 1294.6,1329.8 1294.95,1330.7 1295.3,1330.7 1295.65,1330.6 1296,1329.6 1296.35,1328.7 1296.7,1329.1 1297.05,1328.9 1297.4,1329.4 1297.7,1329.4 1297.75,1328 1298.1,1329.2 1298.45,1328.8 1298.8,1328.7 1299.15,1330.1 1299.5,1330.9 1299.85,1329.4 1300.2,1331.8 1300.55,1330.9 1300.9,1332.2 1301.25,1331.7 1301.6,1331.9 1301.95,1332.6 1302.3,1331.9 1302.65,1332.9 1303,1331.4 1303.35,1331.7 1303.7,1331.5 1304.05,1332.2 1304.4,1331.9 1304.75,1332.4 1305.1,1332.5 1305.45,1332.3 1305.8,1332.5 1306.15,1332.4 1306.5,1331.9 1306.85,1331.6 1307.2,1331.5 1307.55,1332.2 1307.9,1331.6 1308.25,1331.3 1308.6,1331.3 1308.95,1331.6 1309.3,1331.8 1309.65,1331.6 1310,1331.2 1310.35,1332 1310.7,1330.7 1311.05,1331.5 1311.4,1332.1 1311.75,1331.8 1312.1,1332.1 1312.45,1331.5 1312.8,1331.8 1313.15,1331.5 1313.5,1331.3 1313.85,1331.6 1314.2,1331.9 1314.55,1330.6 1314.9,1331.1 1315.25,1330.4 1315.6,1330.9 1315.95,1330.5 1316.3,1330.8 1316.65,1330.8 1317,1331.4 1317.35,1331.6 1317.7,1330.6 1318.05,1330.8 1318.4,1331.4 1318.75,1331 1319.1,1331 1319.45,1330.2 1319.8,1331.2 1320.15,1330.9 1320.5,1330.3 1320.85,1330.3 1321.2,1330.4 1321.55,1331.2 1321.9,1330.8 1322.25,1330.6 1322.6,1331 1322.95,1331.6 1323.3,1331.8 1323.65,1331.8 1324,1331.3 1324.35,1331.3 1324.7,1331.4 1325.05,1331.4 1325.4,1331.4 1325.75,1330.7 1326.1,1330.8 1326.45,1331 1326.8,1331.5 1327.15,1330.9 1327.5,1330.8 1327.85,1331.7 1328.2,1331.7 1328.55,1330.5 1328.9,1330.8 1329.25,1331.2 1329.6,1330.3 1329.95,1330.7 1330.3,1328.8 1330.65,1328.3 1331,1326.4 1331.35,1322.5 1331.7,1314.4 1332.05,1301 1332.4,1290.8 1332.75,1285.4 1332.9,1287.5 1333.1,1288.6 1333.45,1296.2 1333.8,1305.9 1334.15,1314.5 1334.5,1322.2 1334.85,1326.3 1335.2,1329.7 1335.55,1329.7 1335.9,1330.8 1336.25,1331.1 1336.6,1331.8 1336.95,1330.8 1337.3,1331.4 1337.65,1330.8 1338,1331.8 1338.35,1331 1338.7,1331.2 1339.05,1331 1339.4,1331.2 1339.75,1331.1 1340.1,1331.2 1340.45,1332.1 1340.8,1331.1 1341.15,1331.6 1341.5,1332 1341.85,1331 1342.2,1330.7 1342.55,1331.8 1342.9,1330.8 1343.25,1331.1 1343.6,1331.5 1343.95,1331.7 1344.3,1331.4 1344.65,1331.2 1345,1331.8 1345.35,1331.4 1345.7,1332 1346.05,1330.7 1346.4,1330.9 1346.75,1330.9 1347.1,1331.2 1347.45,1331.2 1347.8,1331 1348.15,1331.7 1348.5,1330.4 1348.85,1330.4 1349.2,1329.8 1349.55,1329 1349.9,1329.5 1350,1328 1350.25,1329.9 1350.6,1328.7 1350.95,1329.8 1351.3,1330.4 1351.65,1330.6 1352,1330.8 1352.35,1331.8 1352.7,1332.4 1353.05,1331.8 1353.4,1331.4 1353.75,1330.9 1354.1,1330.9 1354.45,1331.8 1354.8,1331.8 1355.15,1332.1 1355.5,1332.1 1355.85,1332.3 1356.2,1331.4 1356.55,1331.2 1356.9,1331.1 1357.25,1331.8 1357.6,1331.7 1357.95,1331.9 1358.3,1331.5 1358.65,1332.1 1359,1332.3 1359.35,1332.1 1359.7,1330.8 1360.05,1332 1360.4,1331.8 1360.75,1332.3 1361.1,1331.8 1361.45,1332.2 1361.8,1331.7 1362.15,1332 1362.5,1332.4 1362.85,1331.8 1363.2,1332 1363.55,1331.8 1363.9,1332 1364.25,1331.6 1364.6,1331.7 1364.95,1330.7 1365.3,1331.4 1365.65,1331.8 1366,1331.7 1366.35,1331 1366.7,1331.1 1367.05,1331.7 1367.4,1331.7 1367.75,1331.7 1368.1,1331.5 1368.45,1331.6 1368.8,1331.9 1369.15,1331.1 1369.5,1330.9 1369.85,1332 1370.2,1331.2 1370.55,1331.9 1370.9,1331.5 1371.25,1331.3 1371.6,1332.6 1371.95,1331.8 1372.3,1331.1 1372.65,1331.7 1373,1331.8 1373.35,1331.7 1373.7,1331.8 1374.05,1331.2 1374.4,1331.6 1374.75,1331.8 1375.1,1331.9 1375.45,1331.7 1375.8,1331.3 1376.15,1330.7 1376.5,1332.2 1376.85,1331.1 1377.2,1331.2 1377.55,1331.3 1377.9,1331.4 1378.25,1331.3 1378.6,1331.1 1378.95,1331.4 1379.3,1332.1 1379.65,1332.4 1380,1331.4 1380.35,1331.7 1380.7,1330.7 1381.05,1331.6 1381.4,1331.9 1381.75,1331.4 1382.1,1332.3 1382.45,1331.9 1382.8,1331.8 1383.15,1330.4 1383.5,1331.3 1383.85,1331.9 1384.2,1331.4 1384.55,1330.8 1384.9,1331.3 1385.25,1332.4 1385.6,1332.1 1385.95,1332.2 1386.3,1331.9 1386.65,1332.5 1387,1330.4 1387.35,1331.2 1387.7,1332.5 1388.05,1332.1 1388.4,1331.8 1388.75,1331.5 1389.1,1330.9 1389.45,1331.6 1389.8,1331.8 1390.15,1331.4 1390.5,1332.5 1390.85,1332.3 1391.2,1331.5 1391.55,1332 1391.9,1331.5 1392.25,1331.7 1392.6,1331.4 1392.95,1332.8 1393.3,1331.1 1393.65,1331.6 1394,1332.3 1394.35,1332.2 1394.7,1331.1 1395.05,1331.4 1395.4,1331.7 1395.75,1331.4 1396.1,1331.5 1396.45,1331.6 1396.8,1331.6 1397.15,1332.2 1397.5,1331.1 1397.85,1332.2 1398.2,1331.6 1398.55,1331.9 1398.9,1331.4 1399.25,1332.6 1399.6,1330.7 1399.95,1332 1400.3,1331.2 1400.65,1331.4 1401,1332.1 1401.35,1331.4 1401.7,1331.8 1402.05,1332.1 1402.4,1331.1 1402.75,1332.4 1403.1,1332.2 1403.45,1331.4 1403.8,1331.6 1404.15,1331.4 1404.5,1331.7 1404.85,1331.9 1405.2,1331.9 1405.55,1331.6 1405.9,1331.3 1406.25,1331.3 1406.6,1331.1 1406.95,1331.4 1407.3,1331.9 1407.65,1331.4 1408,1331.3 1408.35,1331.1 1408.7,1331.9 1409.05,1331.5 1409.4,1330.8 1409.75,1332 1410.1,1331.9 1410.45,1331.3 1410.8,1331.3 1411.15,1331.5 1411.5,1331 1411.85,1331.8 1412.2,1332 1412.55,1331.6 1412.9,1331.2 1413.25,1331 1413.6,1330.9 1413.95,1331.5 1414.3,1330.2 1414.65,1330.1 1415,1328.8 1415.35,1327.1 1415.7,1326.1 1416.05,1324.5 1416.4,1320.7 1416.75,1321 1417,1320.4 1417.1,1320.3 1417.45,1322.1 1417.8,1322.3 1418.15,1326.4 1418.5,1327.3 1418.85,1329.6 1419.2,1329.6 1419.55,1331.5 1419.9,1331.2 1420.25,1331 1420.6,1330.9 1420.95,1331.6 1421.3,1332.1 1421.65,1331.8 1422,1331.3 1422.35,1330.9 1422.7,1330.6 1423.05,1330.5 1423.4,1329.4 1423.75,1329.5 1424.1,1329.5 1424.45,1327.8 1424.8,1326.8 1425.15,1325.8 1425.4,1326.6 1425.5,1326.6 1425.85,1327.4 1426.2,1326.8 1426.55,1327.4 1426.9,1328.8 1427.25,1329.4 1427.6,1330.6 1427.95,1330.8 1428.3,1330.8 1428.65,1331.4 1429,1332.1 1429.35,1331.9 1429.7,1331.2 1430.05,1331.5 1430.4,1331.5 1430.75,1331.6 1431.1,1330.9 1431.45,1330 1431.8,1330.3 1432.15,1328.9 1432.5,1328.3 1432.85,1327.6 1433.2,1327.8 1433.55,1326.5 1433.6,1327 1433.9,1326.9 1434.25,1327.3 1434.6,1328.9 1434.95,1329 1435.3,1330.3 1435.65,1330.8 1436,1330.2 1436.35,1330.5 1436.7,1330 1437.05,1331.6 1437.4,1331.8 1437.75,1331.5 1438.1,1331.7 1438.45,1331.9 1438.8,1331.8 1439.15,1332 1439.5,1331.9 1439.85,1331.4 1440.2,1332.5 1440.55,1332.3 1440.9,1331.7 1441.25,1332.9 1441.6,1332.9 1441.95,1332.3 1442.3,1332.2 1442.65,1331.5 1443,1331.6 1443.35,1331.1 1443.7,1331.7 1444.05,1332.2 1444.4,1331.4 1444.75,1330.9 1445.1,1332.3 1445.45,1332.5 1445.8,1332.3 1446.15,1331 1446.5,1332 1446.85,1331.1 1447.2,1331.5 1447.55,1331.9 1447.9,1332.4 1448.25,1331.5 1448.6,1331.7 1448.95,1331.2 1449.3,1331.8 1449.65,1331.2 1450,1331.4 1450.35,1332 1450.7,1331.5 1451.05,1331.5 1451.4,1331.7 1451.75,1331.8 1452.1,1332.1 1452.45,1330.9 1452.8,1330.7 1453.15,1331.7 1453.5,1331.6 1453.85,1331.7 1454.2,1331.4 1454.55,1331.7 1454.9,1331.2 1455.25,1330.8 1455.6,1331.6 1455.95,1330.8 1456.3,1330.8 1456.65,1331.3 1457,1331.2 1457.35,1331.7 1457.7,1331.1 1458.05,1332.1 1458.4,1330.8 1458.75,1331.7 1459.1,1331.3 1459.45,1332.2 1459.8,1331.5 1460.15,1332.1 1460.5,1330.4 1460.85,1331.6 1461.2,1332.5 1461.55,1331.9 1461.9,1331.8 1462.25,1332.3 1462.6,1333 1462.95,1331.4 1463.3,1331.8 1463.65,1331.7 1464,1332.1 1464.35,1331.4 1464.7,1331.1 1465.05,1331 1465.4,1331.8 1465.75,1331.5 1466.1,1331.8 1466.45,1330.6 1466.8,1331 1467.15,1331.1 1467.5,1331.8 1467.85,1331.6 1468.2,1331.3 1468.55,1330.8 1468.9,1331.4 1469.25,1331.2 1469.6,1331.8 1469.95,1332.1 1470.3,1331.5 1470.65,1331 1471,1332.5 1471.35,1331.8 1471.7,1331.8 1472.05,1331.6 1472.4,1331.7 1472.75,1331.7 1473.1,1331.6 1473.45,1330.7 1473.8,1331.1 1474.15,1331.4 1474.5,1331.6 1474.85,1331.6 1475.2,1331.6 1475.55,1330.7 1475.9,1331.1 1476.25,1331.2 1476.6,1331.6 1476.95,1331.5 1477.3,1332.5 1477.65,1331.5 1478,1331.6 1478.35,1331.1 1478.7,1332.6 1479.05,1331.8 1479.4,1331.9 1479.75,1331.7 1480.1,1332 1480.45,1331.8 1480.8,1332.5 1481.15,1331.7 1481.5,1331.9 1481.85,1331.9 1482.2,1332.3 1482.55,1332.3 1482.9,1332.5 1483.25,1332.2 1483.6,1332.3 1483.95,1331.9 1484.3,1332.3 1484.65,1332.2 1485,1332.1 1485.35,1331.2 1485.7,1331.6 1486.05,1331.6 1486.4,1331.2 1486.75,1332.5 1487.1,1332.5 1487.45,1332.3 1487.8,1332 1488.15,1332.3 1488.5,1331 1488.85,1332.3 1489.2,1330.9 1489.55,1331.9 1489.9,1331.9 1490.25,1332.1 1490.6,1332.2 1490.95,1332.1 1491.3,1331.4 1491.65,1331.4 1492,1331.3 1492.35,1331.6 1492.7,1331.3 1493.05,1330.7 1493.4,1331.9 1493.75,1331 1494.1,1331.4 1494.45,1331.2 1494.8,1331.2 1495.15,1331.6 1495.5,1331.1 1495.85,1330.8 1496.2,1331.1 1496.55,1331 1496.9,1330.8 1497.25,1332 1497.6,1332.1 1497.95,1331 1498.3,1332.2 1498.65,1332.4 1499,1330.9 1499.35,1331.8 1499.7,1331.4 1500.05,1331.8 1500.4,1330 1500.75,1331.6 1501.1,1331 1501.45,1331.4 1501.8,1331.5 1502.15,1330 1502.5,1331.1 1502.85,1331.1 1503.2,1331.2 1503.55,1331.3 1503.9,1331 1504.25,1330.1 1504.6,1330.2 1504.95,1328 1505.3,1326.6 1505.65,1321.9 1506,1316.6 1506.35,1311.2 1506.7,1304.6 1507,1304.8 1507.05,1303.8 1507.4,1308.9 1507.75,1314.2 1508.1,1317.2 1508.45,1321.7 1508.8,1327 1509.15,1328.6 1509.5,1329.5 1509.85,1331.6 1510.2,1330.4 1510.55,1330.1 1510.9,1330.3 1511.25,1330.2 1511.6,1330 1511.95,1328.2 1512.3,1326.1 1512.65,1325.7 1513,1327.2 1513.35,1325 1513.7,1327 1514.05,1328.9 1514.4,1329.5 1514.75,1330 1515.1,1330.4 1515.45,1331.4 1515.8,1331.7 1516.15,1331.7 1516.5,1332.1 1516.85,1331.7 1517.2,1332.3 1517.55,1331.7 1517.9,1332 1518.25,1331.3 1518.6,1332.1 1518.95,1331.6 1519.3,1330.9 1519.65,1329.6 1520,1329.9 1520.35,1328 1520.7,1329.3 1521.05,1329.8 1521.4,1329.4 1521.75,1330.2 1522.1,1330.7 1522.45,1331.6 1522.8,1331 1523.15,1330.5 1523.5,1330.1 1523.85,1331.4 1524.2,1331.9 1524.55,1332.1 1524.9,1331.5 1525.25,1331.2 1525.6,1331.2 1525.95,1331.4 1526.3,1331.5 1526.65,1331.8 1527,1331.5 1527.35,1332.3 1527.7,1331.4 1528.05,1331.6 1528.4,1331.8 1528.75,1331.7 1529.1,1331 1529.45,1330.6 1529.8,1330.8 1530.15,1331.4 1530.5,1331.6 1530.85,1331.4 1531.2,1331.6 1531.55,1331.9 1531.9,1331.1 1532.25,1332.7 1532.6,1332.9 1532.95,1331.9 1533.3,1331.6 1533.65,1331.9 1534,1331.2 1534.35,1331.9 1534.7,1331.6 1535.05,1332 1535.4,1331.8 1535.75,1332.8 1536.1,1331.6 1536.45,1332.1 1536.8,1331.7 1537.15,1332.5 1537.5,1332.3 1537.85,1331 1538.2,1331.1 1538.55,1331.4 1538.9,1330.7 1539.25,1331.1 1539.6,1330.5 1539.95,1329.2 1540.3,1329 1540.65,1328.9 1541,1328 1541.35,1327.9 1541.4,1328.2 1541.7,1328 1542.05,1329.3 1542.4,1328.2 1542.75,1329.8 1543.1,1329.9 1543.45,1330.9 1543.8,1331.6 1544.15,1331.8 1544.5,1332 1544.85,1332 1545.2,1331.9 1545.55,1331.5 1545.9,1331.9 1546.25,1332 1546.6,1331.8 1546.95,1331.7 1547.3,1331.7 1547.65,1330.7 1548,1331.2 1548.35,1331.5 1548.7,1332 1549.05,1332.2 1549.4,1331.7 1549.75,1331.1 1550.1,1331.7 1550.45,1331.8 1550.8,1331.7 1551.15,1331.1 1551.5,1331 1551.85,1331 1552.2,1331 1552.55,1332 1552.9,1331.9 1553.25,1332.6 1553.6,1332.4 1553.95,1332.1 1554.3,1331.4 1554.65,1332 1555,1331.9 1555.35,1331 1555.7,1331.1 1556.05,1331.2 1556.4,1332.1 1556.75,1331.5 1557.1,1331.1 1557.45,1331.6 1557.8,1331.8 1558.15,1331 1558.5,1332.4 1558.85,1331.3 1559.2,1332.1 1559.55,1331.9 1559.9,1331.2 1560.25,1331.5 1560.6,1331.6 1560.95,1331.5 1561.3,1331.9 1561.65,1331.8 1562,1331 1562.35,1332 1562.7,1331.5 1563.05,1331.9 1563.4,1332 1563.75,1332 1564.1,1332.4 1564.45,1332 1564.8,1331.9 1565.15,1332.7 1565.5,1332.3 1565.85,1332 1566.2,1332.1 1566.55,1332 1566.9,1332.1 1567.25,1331.7 1567.6,1333 1567.95,1332.6 1568.3,1331.1 1568.65,1331.6 1569,1331.9 1569.35,1331.6 1569.7,1331 1570.05,1332.2 1570.4,1331.3 1570.75,1332.2 1571.1,1332.1 1571.45,1332.5 1571.8,1331.3 1572.15,1332.4 1572.5,1331.1 1572.85,1332.2 1573.2,1332 1573.55,1331.6 1573.9,1330.9 1574.25,1332.2 1574.6,1331.9 1574.95,1330.8 1575.3,1330.4 1575.65,1331.2 1576,1331.3 1576.35,1331.9 1576.7,1331.5 1577.05,1331.2 1577.4,1330.4 1577.75,1330.7 1578.1,1329.3 1578.45,1328 1578.8,1326.5 1579.15,1328 1579.5,1326.9 1579.6,1326.3 1579.85,1326.9 1580.2,1327.6 1580.55,1328.8 1580.9,1327.7 1581.25,1329.4 1581.6,1330.5 1581.95,1330.8 1582.3,1331.4 1582.65,1332.1 1583,1331.1 1583.35,1331.3 1583.7,1332.1 1584.05,1332.5 1584.4,1332 1584.75,1331.9 1585.1,1331.5 1585.45,1332.3 1585.8,1332.1 1586.15,1331.4 1586.5,1331.6 1586.85,1331.4 1587.2,1332.1 1587.55,1331.8 1587.9,1332.4 1588.25,1332.4 1588.6,1331.8 1588.95,1332.1 1589.3,1332 1589.65,1332.1 1590,1331.2 1590.35,1331.5 1590.7,1332 1591.05,1331.3 1591.4,1330.9 1591.75,1331.2 1592.1,1332 1592.45,1330.9 1592.8,1330.9 1593.15,1331.6 1593.5,1331 1593.85,1330.5 1594.2,1330.5 1594.55,1331.1 1594.9,1330.9 1595.25,1332 1595.6,1331.2 1595.95,1330.9 1596.3,1331.2 1596.65,1331 1597,1332.1 1597.35,1331.3 1597.7,1332.3 1598.05,1332 1598.4,1332.7 1598.75,1331.8 1599.1,1332.3 1599.45,1331 1599.8,1331.7 1600.15,1331.7 1600.5,1332.6 1600.85,1332 1601.2,1332.4 1601.55,1331.6 1601.9,1331.3 1602.25,1331.8 1602.6,1332.3 1602.95,1331.8 1603.3,1332.5 1603.65,1331.6 1604,1331.6 1604.35,1331.5 1604.7,1331.6 1605.05,1331.4 1605.4,1331.7 1605.75,1331.3 1606.1,1331.1 1606.45,1332.1 1606.8,1331.9 1607.15,1331.4 1607.5,1331.3 1607.85,1330.9 1608.2,1331.8 1608.55,1331.3 1608.9,1332.6 1609.25,1331 1609.6,1332 1609.95,1332.4 1610.3,1331.8 1610.65,1333.1 1611,1332.6 1611.35,1332.6 1611.7,1331.6 1612.05,1332.5 1612.4,1332.5 1612.75,1332.1 1613.1,1332.9 1613.45,1332.1 1613.8,1331.1 1614.15,1332.3 1614.5,1332.9 1614.85,1331.8 1615.2,1332.3 1615.55,1331.7 1615.9,1331.9 1616.25,1330.6 1616.6,1331 1616.95,1331.5 1617.3,1331.4 1617.65,1330.7 1618,1332 1618.35,1331.7 1618.7,1331.3 1619.05,1330.8 1619.4,1332 1619.75,1331.7 1620.1,1332.1 1620.45,1332.3 1620.8,1331.7 1621.15,1331.7 1621.5,1332.2 1621.85,1331.7 1622.2,1331 1622.55,1332.2 1622.9,1332 1623.25,1331.5 1623.6,1331.9 1623.95,1331.5 1624.3,1331.8 1624.65,1332.2 1625,1331.3 1625.35,1331.2 1625.7,1331.7 1626.05,1331 1626.4,1332 1626.75,1331.2 1627.1,1330.7 1627.45,1331.4 1627.8,1330.5 1628.15,1332 1628.5,1331.4 1628.85,1331.8 1629.2,1331.8 1629.55,1331.8 1629.9,1331.4 1630.25,1332.3 1630.6,1331.5 1630.95,1331.4 1631.3,1330.9 1631.65,1332.4 1632,1331.8 1632.35,1331.8 1632.7,1331.1 1633.05,1332.5 1633.4,1332 1633.75,1332.5 1634.1,1332.1 1634.45,1331.9 1634.8,1332.4 1635.15,1331.3 1635.5,1331.3 1635.85,1331.8 1636.2,1332.2 1636.55,1332.3 1636.9,1331.8 1637.25,1331.8 1637.6,1331.7 1637.95,1331.5 1638.3,1331.3 1638.65,1331.6 1639,1331 1639.35,1331.1 1639.7,1331.7 1640.05,1331.1 1640.4,1330.7 1640.75,1331.2 1641.1,1330.9 1641.45,1331.3 1641.8,1330.7 1642.15,1330.6 1642.5,1329.8 1642.85,1330.5 1643.2,1329.6 1643.55,1327.6 1643.9,1324.4 1644.25,1321.1 1644.6,1318 1644.95,1317.6 1645,1316.8 1645.3,1316.7 1645.65,1321.2 1646,1324.3 1646.35,1326.9 1646.7,1328.8 1647.05,1329.9 1647.4,1330.9 1647.75,1331.2 1648.1,1330.5 1648.45,1330.9 1648.8,1330.8 1649.15,1331.9 1649.5,1330.5 1649.85,1330.2 1650.2,1329.8 1650.55,1329.3 1650.9,1326.7 1651.25,1325.6 1651.6,1320.8 1651.95,1313 1652.3,1312.3 1652.6,1311.3 1652.65,1309.2 1653,1312.4 1653.35,1316.6 1653.7,1320.5 1654.05,1325 1654.4,1328 1654.75,1328.9 1655.1,1329.8 1655.45,1329.2 1655.8,1329.6 1656.15,1327.3 1656.5,1326.1 1656.85,1323.9 1657.2,1320.5 1657.55,1316 1657.8,1316.3 1657.9,1315.7 1658.25,1318.2 1658.6,1320.2 1658.95,1323.8 1659.3,1327.4 1659.65,1329 1660,1331.3 1660.35,1331.6 1660.7,1331.6 1661.05,1331.6 1661.4,1331.8 1661.75,1332.3 1662.1,1332 1662.45,1332.1 1662.8,1332.8 1663.15,1332 1663.5,1331.8 1663.85,1331.8 1664.2,1332.5 1664.55,1331.8 1664.9,1331.8 1665.25,1332.4 1665.6,1332.4 1665.95,1332.3 1666.3,1331.3 1666.65,1332 1667,1331.4 1667.35,1331.7 1667.7,1330.9 1668.05,1331.6 1668.4,1332.3 1668.75,1331.8 1669.1,1330.8 1669.45,1332.4 1669.8,1332.2 1670.15,1331.9 1670.5,1332 1670.85,1331.7 1671.2,1332.4 1671.55,1331.9 1671.9,1331.2 1672.25,1331.7 1672.6,1332.7 1672.95,1332.2 1673.3,1332.1 1673.65,1331.1 1674,1331.3 1674.35,1330.8 1674.7,1329.7 1675.05,1329.5 1675.4,1329.2 1675.75,1328.7 1676,1328.3 1676.1,1328.3 1676.45,1327.5 1676.8,1328.5 1677.15,1329.7 1677.5,1330.7 1677.85,1330.3 1678.2,1331.1 1678.55,1331 1678.9,1330.8 1679.25,1331.5 1679.6,1331.8 1679.95,1331.2 1680.3,1331.3 1680.65,1331.8 1681,1331.6 1681.35,1332.1 1681.7,1331.3 1682.05,1332.3 1682.4,1331.8 1682.75,1332.3 1683.1,1331.6 1683.45,1332.7 1683.8,1332.5"/>
<polyline class="d" stroke="#FE4365" points="494.5,1957.5 494.85,1960.4 495.2,1962.3 495.55,1965.4 495.9,1968.4 496.25,1963.9 496.6,1975.8 496.95,1976.6 497.3,1978.7 497.65,1980.6 498,1981.9 498.35,1987.8 498.7,1987.2 499.05,1991.8 499.4,1988.2 499.75,1998.3 500.1,1997 500.45,1999.9 500.8,1999.7 501.15,2001.7 501.5,2004.9 501.85,2000 502.2,2008.8 502.55,2006.7 502.9,2007.9 503.25,2010.7 503.6,2014.6 503.95,2013 504.3,2015.1 504.65,2012.3 505,2013.5 505.35,2015.9 505.7,2013.5 506.05,2011.6 506.4,2014.7 506.75,2015.5 507.1,2016.3 507.45,2017.9 507.8,2018.2 508.15,2016.8 508.5,2018.6 508.85,2017.7 509.2,2018.5 509.55,2016.7 509.9,2019.1 510.25,2017.6 510.6,2019.9 510.95,2016.4 511.3,2020.1 511.65,2016.5 512,2018.4 512.35,2016.3 512.7,2016.6 513.05,2018.5 513.4,2014.9 513.75,2018.6 514.1,2019.9 514.45,2018.2 514.8,2015.1 515.15,2018.1 515.5,2017.1 515.85,2017.8 516.2,2017.5 516.55,2019.3 516.9,2020.4 517.25,2018.4 517.6,2019.8 517.95,2017.4 518.3,2021.7 518.65,2017.9 519,2017.6 519.35,2018.8 519.7,2020.5 520.05,2020.4 520.4,2017.3 520.75,2019.5 521.1,2019.6 521.45,2022.2 521.8,2017.6 522.15,2015.7 522.5,2015.2 522.85,2017.1 523.2,2017.8 523.55,2017.7 523.9,2017.4 524.25,2016.7 524.6,2017.4 524.95,2016.9 525.3,2020.4 525.65,2016.9 526,2015.5 526.35,2016.7 526.7,2016.7 527.05,2014.3 527.4,2017.1 527.75,2017.4 528.1,2017.5 528.45,2015.7 528.8,2017.4 529.15,2018.1 529.5,2019 529.85,2018 530.2,2015.6 530.55,2018.1 530.9,2019.6 531.25,2017.3 531.6,2014.2 531.95,2019.3 532.3,2019.5 532.65,2017.8 533,2017 533.35,2018.9 533.7,2018.4 534.05,2017 534.4,2016.9 534.75,2017.3 535.1,2018.1 535.45,2017 535.8,2015.2 536.15,2015.6 536.5,2016.6 536.85,2017.1 537.2,2015.4 537.55,2017.4 537.9,2015 538.25,2016.9 538.6,2017.9 538.95,2016.5 539.3,2015.1 539.65,2015.6 540,2011.2 540.35,2017 540.7,2013.1 541.05,2012.8 541.4,2013.4 541.75,2011.6 542.1,2012.3 542.45,2011.6 542.8,2011 543.15,2012.5 543.5,2010.5 543.85,2007.8 544.2,2008 544.55,2006 544.9,2008.5 545.25,2003.9 545.6,2004.7 545.95,2007.5 546.3,2003.3 546.65,2003.2 547,2003.1 547.35,1998.6 547.7,2001.5 548.05,2003 548.2,2001.9 548.4,2002.7 548.75,2000.4 549.1,2002 549.45,2001.4 549.8,2002.5 550.15,2000.5 550.5,2002.6 550.85,2005 551.2,2003.6 551.55,2006.5 551.9,2009 552.25,2008 552.6,2008.5 552.95,2010.1 553.3,2008.8 553.65,2009.8 554,2009.4 554.35,2009.7 554.7,2014.1 555.05,2010.9 555.4,2013.1 555.75,2013.2 556.1,2013.4 556.45,2013.9 556.8,2014.2 557.15,2015.6 557.5,2015.3 557.85,2016.6 558.2,2016.3 558.55,2016.1 558.9,2016.5 559.25,2019.4 559.6,2015.1 559.95,2016.8 560.3,2017.8 560.65,2017.9 561,2016 561.35,2015.9 561.7,2017 562.05,2018.5 562.4,2018.2 562.75,2017.3 563.1,2017.4 563.45,2017.8 563.8,2017.8 564.15,2016.4 564.5,2016.5 564.85,2018.6 565.2,2021 565.55,2018.9 565.9,2016.9 566.25,2018.3 566.6,2020.1 566.95,2018.9 567.3,2020.4 567.65,2019.5 568,2019.6 568.35,2019.1 568.7,2021.4 569.05,2021.2 569.4,2021.3 569.75,2021.4 570.1,2020.6 570.45,2022.2 570.8,2019.6 571.15,2021.2 571.5,2020.2 571.85,2020.6 572.2,2020.3 572.55,2021.6 572.9,2021.5 573.25,2023.2 573.6,2020.9 573.95,2022 574.3,2020.9 574.65,2022.6 575,2023.4 575.35,2020.8 575.7,2023.7 576.05,2021 576.4,2024 576.75,2022.2 577.1,2022.5 577.45,2021 577.8,2023.8 578.15,2021.5 578.5,2021 578.85,2022.9 579.2,2020.4 579.55,2021.1 579.9,2021 580.25,2020.4 580.6,2022.3 580.95,2023.5 581.3,2020.5 581.65,2023.3 582,2022.7 582.35,2021.1 582.7,2022 583.05,2024 583.4,2020.9 583.75,2020.8 584.1,2020.5 584.45,2024 584.8,2022.9 585.15,2020.5 585.5,2021.7 585.85,2022.3 586.2,2021.2 586.55,2022.9 586.9,2021.9 587.25,2023 587.6,2022 587.95,2022.1 588.3,2020.9 588.65,2021.9 589,2022.6 589.35,2019.8 589.7,2022.5 590.05,2023.3 590.4,2022.7 590.75,2022.1 591.1,2021.3 591.45,2020.5 591.8,2020.8 592.15,2021.7 592.5,2020.7 592.85,2022.5 593.2,2021.5 593.55,2021.7 593.9,2023.8 594.25,2022.7 594.6,2023.4 594.95,2020.7 595.3,2023.3 595.65,2021.7 596,2024.3 596.35,2020.8 596.7,2021.6 597.05,2023.6 597.4,2024.8 597.75,2020.4 598.1,2021.6 598.45,2020.4 598.8,2022.4 599.15,2019.7 599.5,2009.6 599.85,1995.7 600.2,1981.1 600.4,1978.5 600.55,1980.1 600.9,1992.4 601.25,2008.3 601.6,2015.8 601.95,2021.2 602.3,2020.5 602.65,2021.1 603,2022.1 603.35,2021.2 603.7,2022.6 604.05,2019.9 604.4,2019.3 604.75,2020.9 605.1,2020.4 605.45,2019.4 605.8,2018.6 606.15,2019.5 606.5,2020.1 606.85,2020 607.2,2018.9 607.55,2018.9 607.9,2020.9 608.25,2021.5 608.6,2021.5 608.95,2019.6 609.3,2019.8 609.65,2021.4 610,2020.6 610.35,2022 610.7,2022 611.05,2020.9 611.4,2021.7 611.75,2020 612.1,2020 612.45,2022.6 612.8,2024.5 613.15,2019.7 613.5,2020 613.85,2021.3 614.2,2022.7 614.55,2019.5 614.9,2021.8 615.25,2022.8 615.6,2018.3 615.95,2019.7 616.3,2021.6 616.65,2021.9 617,2019.7 617.35,2021.7 617.7,2021.9 618.05,2019 618.4,2020.6 618.75,2019.7 619.1,2019.5 619.45,2020.5 619.8,2019.3 620.15,2018.5 620.5,2018.8 620.85,2019 621.2,2020.4 621.55,2022 621.9,2020.5 622.25,2020.2 622.6,2020.8 622.95,2022.4 623.3,2021.5 623.65,2021.8 624,2020.8 624.35,2021.3 624.7,2021.4 625.05,2024 625.4,2022.7 625.75,2024 626.1,2023 626.45,2023.1 626.8,2020.7 627.15,2022.9 627.5,2022.2 627.85,2024.3 628.2,2023.5 628.55,2023.3 628.9,2022.7 629.25,2024.3 629.6,2020.7 629.95,2023.5 630.3,2021.9 630.65,2021.9 631,2022.3 631.35,2022.3 631.7,2023 632.05,2023.8 632.4,2021.9 632.75,2021.4 633.1,2023.8 633.45,2023.5 633.8,2021 634.15,2020.9 634.5,2022.2 634.85,2021.9 635.2,2023.1 635.55,2021.6 635.9,2021.9 636.25,2026.5 636.6,2024.4 636.95,2024.6 637.3,2022.6 637.65,2021.6 638,2024 638.35,2024.4 638.7,2022.5 639.05,2022.9 639.4,2023.9 639.75,2023.5 640.1,2021.6 640.45,2024.3 640.8,2024.2 641.15,2021.6 641.5,2025.5 641.85,2022 642.2,2021.6 642.55,2022 642.9,2022.9 643.25,2022.9 643.6,2021.3 643.95,2023.4 644.3,2023.5 644.65,2022.3 645,2020.1 645.35,2020.9 645.7,2021.3 646.05,2022.5 646.4,2021.2 646.75,2022.2 647.1,2025.2 647.45,2021.3 647.8,2021 648.15,2022.4 648.5,2022.9 648.85,2022.7 649.2,2021.7 649.55,2020.1 649.9,2019.2 650.25,2020.5 650.6,2021.1 650.95,2020.3 651.3,2020.2 651.65,2022 652,2022.1 652.35,2022 652.7,2024.7 653.05,2024.2 653.4,2021.5 653.75,2024.1 654.1,2022.9 654.45,2022.3 654.8,2022.7 655.15,2026.5 655.5,2023.3 655.85,2022.5 656.2,2023.6 656.55,2024.3 656.9,2023.6 657.25,2023.2 657.6,2022.3 657.95,2022.6 658.3,2021.3 658.65,2023.3 659,2024.2 659.35,2023.4 659.7,2022.8 660.05,2024.5 660.4,2022.5 660.75,2021.9 661.1,2018.4 661.45,2017.8 661.8,2016.1 662.15,2017.6 662.3,2015.9 662.5,2016.6 662.85,2017.4 663.2,2021 663.55,2019.7 663.9,2020 664.25,2022.2 664.6,2022.1 664.95,2023.9 665.3,2023.9 665.65,2023 666,2022.8 666.35,2023.2 666.7,2024.8 667.05,2023.9 667.4,2024.3 667.75,2021.4 668.1,2022.8 668.45,2023.6 668.8,2024.4 669.15,2024.4 669.5,2023.9 669.85,2021.5 670.2,2023.8 670.55,2022.9 670.9,2021.8 671.25,2023.4 671.6,2024.1 671.95,2025 672.3,2025.3 672.65,2025 673,2024.2 673.35,2023.5 673.7,2024 674.05,2022.5 674.4,2024.1 674.75,2023.1 675.1,2024.1 675.45,2023.5 675.8,2022.4 676.15,2022.8 676.5,2023.1 676.85,2023.3 677.2,2020 677.55,2021.6 677.9,2025 678.25,2022.7 678.6,2024.2 678.95,2021.6 679.3,2020.6 679.65,2021.8 680,2021.8 680.35,2021.4 680.7,2023.8 681.05,2024 681.4,2020.6 681.75,2022.9 682.1,2020.9 682.45,2017.8 682.8,2020 683,2018.8 683.15,2018.3 683.5,2016.8 683.85,2019.7 684.2,2018.8 684.55,2023 684.9,2020.7 685.25,2021 685.6,2023.7 685.95,2021.7 686.3,2024.3 686.65,2021.4 687,2023 687.35,2020.4 687.7,2019.3 688.05,2016.9 688.4,2011.5 688.75,2010 689.1,2005.9 689.2,2009.4 689.45,2008.9 689.8,2008.2 690.15,2018.1 690.5,2019.5 690.85,2020.5 691.2,2023.5 691.55,2024.1 691.9,2025.1 692.25,2025.7 692.6,2026.2 692.95,2023.6 693.3,2025.1 693.65,2024.4 694,2023.6 694.35,2024.4 694.7,2024.2 695.05,2025.8 695.4,2025 695.75,2025.9 696.1,2025.3 696.45,2025.6 696.8,2025.7 697.15,2024.3 697.5,2024.7 697.85,2024.8 698.2,2024.9 698.55,2024 698.9,2025.7 699.25,2025.7 699.6,2027 699.95,2025 700.3,2025.3 700.65,2023.8 701,2024.8 701.35,2025.6 701.7,2026.6 702.05,2025.1 702.4,2026.3 702.75,2026.1 703.1,2026.6 703.45,2025.5 703.8,2024.3 704.15,2025.2 704.5,2025.9 704.85,2024.3 705.2,2024.4 705.55,2023.7 705.9,2023.6 706.25,2022.4 706.6,2025 706.95,2022.3 707.3,2022.6 707.65,2022.8 708,2021.2 708.35,2019.8 708.6,2020.4 708.7,2020.3 709.05,2022.3 709.4,2021.7 709.75,2024.2 710.1,2022.8 710.45,2024.2 710.8,2023.1 711.15,2022.5 711.5,2024.7 711.85,2026.3 712.2,2026.5 712.55,2026.3 712.9,2024.9 713.25,2024.7 713.6,2025 713.95,2024.8 714.3,2025.7 714.65,2026.3 715,2026.3 715.35,2024.1 715.7,2026.5 716.05,2023.1 716.4,2025.1 716.75,2025.2 717.1,2025.8 717.45,2025.3 717.8,2026.3 718.15,2024.5 718.5,2026.2 718.85,2024.5 719.2,2025.8 719.55,2026.6 719.9,2027.3 720.25,2024.9 720.6,2023.9 720.95,2028 721.3,2025.2 721.65,2025.8 722,2025.8 722.35,2027.6 722.7,2026.3 723.05,2027 723.4,2027.3 723.75,2026.7 724.1,2026.3 724.45,2027.7 724.8,2027.1 725.15,2026.2 725.5,2023.8 725.85,2024.9 726.2,2026.2 726.55,2025 726.9,2026.4 727.25,2027.8 727.6,2025.3 727.95,2025.9 728.3,2026.2 728.65,2027 729,2023.5 729.35,2025 729.7,2026.6 730.05,2025.2 730.4,2023 730.75,2025.3 731.1,2023.8 731.45,2026.3 731.8,2026.3 732.15,2025 732.5,2024.2 732.85,2026.4 733.2,2025.4 733.55,2025.3 733.9,2024.7 734.25,2024.6 734.6,2024.4 734.95,2026.2 735.3,2026.3 735.65,2024.4 736,2023.9 736.35,2025.7 736.7,2026.4 737.05,2025.6 737.4,2026.1 737.75,2025.9 738.1,2025.1 738.45,2024.9 738.8,2024.4 739.15,2024.8 739.5,2023.2 739.85,2026.2 740.2,2023.9 740.55,2025.2 740.9,2025.4 741.25,2025 741.6,2025.3 741.95,2024.3 742.3,2024.9 742.65,2026.3 743,2026 743.35,2024 743.7,2025.4 744.05,2023.7 744.4,2025.5 744.75,2025.3 745.1,2023.9 745.45,2026.6 745.8,2023.7 746.15,2026.2 746.5,2023.8 746.85,2026.1 747.2,2023.4 747.55,2024.8 747.9,2024 748.25,2025.9 748.6,2024.7 748.95,2025.2 749.3,2026.1 749.65,2024.9 750,2025.4 750.35,2026.5 750.7,2025.5 751.05,2027.3 751.4,2025 751.75,2028.7 752.1,2027.6 752.45,2025.5 752.8,2025.8 753.15,2026.1 753.5,2027.1 753.85,2027.2 754.2,2027.5 754.55,2027.6 754.9,2025.4 755.25,2026.7 755.6,2026.3 755.95,2027.2 756.3,2025.6 756.65,2023.2 757,2023.6 757.35,2025.4 757.7,2020.3 758.05,2019.9 758.4,2016.8 758.7,2015.8 758.75,2016.3 759.1,2017.2 759.45,2020 759.8,2020.8 760.15,2021 760.5,2025.3 760.85,2025.5 761.2,2024.8 761.55,2025.4 761.9,2026.3 762.25,2026 762.6,2024.9 762.95,2027 763.3,2028 763.65,2026.1 764,2025 764.35,2027.1 764.7,2027.6 765.05,2025.4 765.4,2025 765.75,2025.6 766.1,2026.4 766.45,2026 766.8,2026.5 767.15,2026.3 767.5,2025.3 767.85,2027.2 768.2,2028.6 768.55,2025.4 768.9,2026.7 769.25,2026.5 769.6,2026 769.95,2026.6 770.3,2025.5 770.65,2027.3 771,2026 771.35,2025 771.7,2026.3 772.05,2025.9 772.4,2026.9 772.75,2025.8 773.1,2025.3 773.45,2028.1 773.8,2026.4 774.15,2026.6 774.5,2027 774.85,2025.2 775.2,2025.7 775.55,2025.2 775.9,2028.1 776.25,2025 776.6,2024.5 776.95,2024.3 777.3,2027.3 777.65,2026.7 778,2025.2 778.35,2025 778.7,2028.2 779.05,2025.1 779.4,2025.8 779.75,2024.9 780.1,2028.1 780.45,2025 780.8,2024.4 781.15,2025.8 781.5,2026.2 781.85,2025.8 782.2,2025.3 782.55,2024.2 782.9,2025.5 783.25,2028.1 783.6,2024.7 783.95,2027.4 784.3,2028 784.65,2027.1 785,2026.7 785.35,2027.9 785.7,2027.8 786.05,2024.8 786.4,2026.8 786.75,2024.8 787.1,2023.7 787.45,2026.9 787.8,2025.2 788.15,2025.9 788.5,2024.4 788.85,2026.8 789.2,2026 789.55,2025.4 789.9,2025.1 790.25,2025.4 790.6,2026.2 790.95,2025.3 791.3,2024.3 791.65,2025.4 792,2024.7 792.35,2025 792.7,2024 793.05,2020.9 793.4,2021.5 793.75,2019.2 794.1,2017 794.45,2018.7 794.8,2017.4 795,2018.4 795.15,2018 795.5,2020 795.85,2019.1 796.2,2020.6 796.55,2022.6 796.9,2024.5 797.25,2022.6 797.6,2021.9 797.95,2023.1 798.3,2026.5 798.65,2027.5 799,2026.7 799.35,2027.5 799.7,2025.5 800.05,2025.4 800.4,2027.2 800.75,2027.2 801.1,2027.2 801.45,2027.1 801.8,2026.3 802.15,2024.8 802.5,2027.5 802.85,2026.8 803.2,2025.7 803.55,2026.3 803.9,2027.5 804.25,2025.6 804.6,2025.3 804.95,2026.9 805.3,2027.6 805.65,2027.5 806,2027.6 806.35,2027.1 806.7,2026.6 807.05,2024.6 807.4,2026 807.75,2025.5 808.1,2027.4 808.45,2024.6 808.8,2025.6 809.15,2025.7 809.5,2023.9 809.85,2023.7 810.2,2026 810.55,2026.2 810.9,2023.1 811.25,2024.3 811.6,2025 811.95,2020.9 812.3,2017.4 812.65,2004.8 813,1975.9 813.35,1935.3 813.7,1906.6 813.8,1905 814.05,1915.5 814.4,1953.9 814.75,1993.6 815.1,2015.3 815.45,2021.5 815.8,2022.6 816.15,2022.4 816.5,2023.8 816.85,2025.3 817.2,2024.1 817.55,2024.5 817.9,2025.7 818.25,2024.1 818.6,2024.6 818.95,2026.3 819.3,2025.2 819.65,2024.9 820,2024.2 820.35,2022.6 820.7,2025.2 821.05,2023.2 821.4,2024.1 821.75,2024.6 822.1,2024.5 822.45,2022.8 822.8,2024.4 823.15,2022.4 823.5,2024.4 823.85,2023.9 824.2,2026 824.55,2023.7 824.9,2024 825.25,2024.8 825.6,2023.2 825.95,2025.4 826.3,2025.8 826.65,2025.4 827,2025.9 827.35,2026.5 827.7,2026.5 828.05,2026.7 828.4,2027.2 828.75,2026.8 829.1,2025.1 829.45,2025.8 829.8,2025.2 830.15,2024.3 830.5,2024.5 830.85,2023.7 831.2,2025.1 831.55,2025.2 831.9,2023.4 832.25,2023.2 832.6,2021.9 832.95,2020 833.3,2017.5 833.65,2014.1 834,2003.7 834.35,1999.9 834.7,1990.7 835,1986.5 835.05,1985.4 835.4,1992.6 835.75,1998.9 836.1,2012.3 836.45,2015.5 836.8,2020.4 837.15,2020.9 837.5,2024.4 837.85,2024 838.2,2024.1 838.55,2025.8 838.9,2023.1 839.25,2022.1 839.6,2022 839.95,2023.2 840.3,2023.8 840.65,2023.6 841,2024.8 841.35,2025.5 841.7,2023.7 842.05,2025.5 842.4,2023.4 842.75,2022.8 843.1,2024.6 843.45,2025.1 843.8,2024.6 844.15,2023 844.5,2025.6 844.85,2024.5 845.2,2023.3 845.55,2024.2 845.9,2024.3 846.25,2023.9 846.6,2023.6 846.95,2026.3 847.3,2024.1 847.65,2024.9 848,2024.2 848.35,2024.5 848.7,2022.3 849.05,2026.1 849.4,2024.8 849.75,2021.7 850.1,2022.4 850.45,2019.2 850.8,2018.3 851.15,2015.1 851.5,2011.2 851.85,2010.9 852,2010.6 852.2,2010.4 852.55,2009.4 852.9,2013.8 853.25,2016.5 853.6,2018.3 853.95,2018.7 854.3,2022.7 854.65,2020.9 855,2022 855.35,2021.6 855.7,2021.3 856.05,2022.1 856.4,2021.1 856.75,2020.8 857.1,2019.6 857.45,2021.8 857.8,2022.8 858.15,2021.7 858.5,2021.2 858.85,2020.7 859.2,2021 859.55,2017.2 859.9,2013.6 860.25,2008.4 860.6,2000.4 860.95,1995.2 861.3,1992.3 861.4,1990.3 861.65,1996.2 862,1995.9 862.35,2004.3 862.7,2011.3 863.05,2015.8 863.4,2017.5 863.75,2021 864.1,2021.4 864.45,2022.7 864.8,2023.5 865.15,2023.6 865.5,2022.7 865.85,2022.1 866.2,2025.2 866.55,2023.1 866.9,2025.3 867.25,2022.9 867.6,2023.6 867.95,2025 868.3,2022.1 868.65,2021.7 869,2023.9 869.35,2024.8 869.7,2024 870.05,2023.3 870.4,2022.2 870.75,2023.4 871.1,2023.9 871.45,2021.5 871.8,2018.9 872.15,2020.4 872.5,2013 872.85,2006.2 873.2,2000.7 873.55,1997.8 873.9,1990.3 874,1992.9 874.25,1997.9 874.6,1998.9 874.95,2004.4 875.3,2010 875.65,2014 876,2020.9 876.35,2019 876.7,2021.7 877.05,2023.3 877.4,2021.9 877.75,2022.2 878.1,2023.5 878.45,2022.4 878.8,2024 879.15,2024.1 879.5,2024.4 879.85,2021 880.2,2022.5 880.55,2022 880.9,2021.8 881.25,2020.1 881.6,2021.3 881.95,2023.2 882.3,2023 882.65,2020.9 883,2021.4 883.35,2021.1 883.7,2022.1 884.05,2019.8 884.4,2019.2 884.75,2017.3 885.1,2019.5 885.45,2020.8 885.5,2018.7 885.8,2019.3 886.15,2020.1 886.5,2018.4 886.85,2021.3 887.2,2023 887.55,2023.2 887.9,2021.9 888.25,2021.6 888.6,2021.8 888.95,2024.2 889.3,2021.9 889.65,2022.7 890,2022.7 890.35,2022 890.7,2021.3 891.05,2022.8 891.4,2021 891.75,2021.4 892.1,2023.5 892.45,2023.4 892.8,2020 893.15,2021 893.5,2022.8 893.85,2020.2 894.2,2021.9 894.55,2021.3 894.9,2020.4 895.25,2019.2 895.6,2013.7 895.95,2012.6 896.3,2011.7 896.65,2010.8 897,2012.7 897.35,2012.1 897.7,2011.8 898.05,2013.4 898.4,2013.5 898.75,2016.2 899.1,2016.5 899.45,2021.9 899.8,2021.4 900.15,2020.7 900.5,2020.9 900.85,2022 901.2,2021.4 901.55,2023.2 901.9,2021.8 902.25,2024.4 902.6,2022.7 902.95,2020.8 903.3,2020.8 903.65,2021.5 904,2023.7 904.35,2021.8 904.7,2023.3 905.05,2020.6 905.4,2022.8 905.75,2021.1 906.1,2021.9 906.45,2022.3 906.8,2020.6 907.15,2025.1 907.5,2021.1 907.85,2022.2 908.2,2024.1 908.55,2023.3 908.9,2019.2 909.25,2022.1 909.6,2023.1 909.95,2020.4 910.3,2021 910.65,2019.5 911,2019.2 911.35,2021.7 911.7,2019.9 912.05,2016.6 912.4,2015.4 912.75,2017.2 913.1,2015.3 913.45,2013.2 913.8,2010.6 914.15,1999.4 914.5,1978.1 914.85,1925.4 915.2,1834.3 915.55,1693.1 915.9,1557.8 916.25,1491.8 916.3,1490.7 916.6,1530.4 916.95,1650.6 917.3,1792.9 917.65,1907 918,1967.8 918.35,1996.8 918.7,2007.1 919.05,2008.5 919.4,2014.6 919.75,2014.9 920.1,2017.4 920.45,2021.2 920.8,2016.8 921.15,2018.7 921.5,2017.7 921.85,2017.9 922.2,2017.7 922.55,2018.7 922.9,2019.5 923.25,2022.2 923.6,2020.7 923.95,2019.6 924.3,2021.8 924.65,2019.3 925,2021.4 925.35,2020.8 925.7,2020.1 926.05,2021.3 926.4,2021.6 926.75,2020.8 927.1,2017.9 927.45,2017.3 927.8,2018.7 928.15,2016 928.5,2010.4 928.85,2007.3 929.2,1997.7 929.55,1988.8 929.9,1977.3 930.25,1976.7 930.3,1970.4 930.6,1973.9 930.95,1984.3 931.3,1994.3 931.65,2000.7 932,2009.7 932.35,2016.3 932.7,2018.1 933.05,2018.1 933.4,2019.4 933.75,2019.8 934.1,2019.4 934.45,2020.1 934.8,2020.2 935.15,2018 935.5,2021.5 935.85,2018.2 936.2,2016.6 936.55,2017.2 936.9,2009.3 937.25,1996.5 937.6,1977.3 937.95,1952.5 938.3,1925.2 938.65,1907.8 938.8,1906 939,1909.2 939.35,1930.7 939.7,1957.8 940.05,1979.9 940.4,2000.3 940.75,2006.2 941.1,2005.7 941.45,2007.9 941.8,2007.6 942.15,2001.1 942.5,1995.2 942.85,1993.1 943.2,1988.8 943.5,1990.5 943.55,1989.8 943.9,1989.8 944.25,1995.9 944.6,2002 944.95,2004.6 945.3,2010.3 945.65,2013.4 946,2015.2 946.35,2017.2 946.7,2020.5 947.05,2020.3 947.4,2021.4 947.75,2018.2 948.1,2021.3 948.45,2018.6 948.8,2022.9 949.15,2020.6 949.5,2021.5 949.85,2019.4 950.2,2020.2 950.55,2018.7 950.9,2019.5 951.25,2020.9 951.6,2020.7 951.95,2020.8 952.3,2021.1 952.65,2022.9 953,2022.5 953.35,2023 953.7,2020.4 954.05,2020.4 954.4,2021.6 954.75,2022 955.1,2019.3 955.45,2022.3 955.8,2021.1 956.15,2022.2 956.5,2022.1 956.85,2021.9 957.2,2021.2 957.55,2021.8 957.9,2023.1 958.25,2019.9 958.6,2022.2 958.95,2022 959.3,2022.2 959.65,2022.9 960,2023.3 960.35,2022.7 960.7,2024 961.05,2022.7 961.4,2025.8 961.75,2021 962.1,2025.1 962.45,2022.9 962.8,2021.9 963.15,2021.8 963.5,2021.7 963.85,2021.6 964.2,2019.6 964.55,2019.6 964.9,2015 965.25,2012.8 965.6,2010.5 965.9,2011.7 965.95,2010.5 966.3,2013.7 966.65,2012.2 967,2014.6 967.35,2016.4 967.7,2018.1 968.05,2019.8 968.4,2020.1 968.75,2019 969.1,2019.8 969.45,2020.4 969.8,2018.8 970.15,2021.1 970.5,2022.5 970.85,2022 971.2,2019.6 971.55,2020.1 971.9,2020.8 972.25,2021.1 972.6,2022.6 972.95,2022.4 973.3,2022.3 973.65,2022.1 974,2023 974.35,2022.2 974.7,2024.6 975.05,2021.5 975.4,2018.4 975.75,2015.3 976.1,2011.7 976.45,2008.9 976.8,2009.8 977,2010.2 977.15,2011.8 977.5,2011 977.85,2014.2 978.2,2015.7 978.55,2017.3 978.9,2020.1 979.25,2022 979.6,2021.7 979.95,2022.5 980.3,2023 980.65,2021 981,2023.3 981.35,2021.7 981.7,2026.2 982.05,2023.6 982.4,2023.3 982.75,2021.7 983.1,2016.8 983.45,2018.8 983.8,2012.1 984.15,2012 984.5,2010.4 984.85,2008.5 984.9,2001.3 985.2,2004.8 985.55,2008.6 985.9,2010.8 986.25,2016.5 986.6,2021.5 986.95,2023.4 987.3,2023 987.65,2022.8 988,2025.5 988.35,2025.2 988.7,2024.3 989.05,2023.6 989.4,2026.1 989.75,2025.6 990.1,2023.9 990.45,2021.7 990.8,2018.7 991.15,2017.9 991.5,2014.5 991.85,2017.7 992,2013.5 992.2,2013.8 992.55,2015.4 992.9,2017.3 993.25,2020.7 993.6,2021.3 993.95,2020.5 994.3,2022.8 994.65,2023.2 995,2024.9 995.35,2021.2 995.7,2022.3 996.05,2021.5 996.4,2022.7 996.75,2023.4 997.1,2021 997.45,2023 997.8,2016.7 998.15,2017 998.5,2015.2 998.6,2014.2 998.85,2015.3 999.2,2016.9 999.55,2017.7 999.9,2019.3 1000.25,2021.3 1000.6,2021.7 1000.95,2024.1 1001.3,2024.3 1001.65,2024.1 1002,2025.5 1002.35,2021.8 1002.7,2022.9 1003.05,2025.3 1003.4,2022.7 1003.75,2025.3 1004.1,2024.7 1004.45,2024.3 1004.8,2023.9 1005.15,2023 1005.5,2022.6 1005.85,2022.1 1006.2,2024.4 1006.55,2023.9 1006.9,2024.2 1007.25,2023.1 1007.6,2024.1 1007.95,2025.5 1008.3,2023.5 1008.65,2023.8 1009,2023.9 1009.35,2026.9 1009.7,2026.2 1010.05,2027 1010.4,2027.6 1010.75,2024.5 1011.1,2025 1011.45,2022.3 1011.8,2024.9 1012.15,2024.1 1012.5,2024.8 1012.85,2025.1 1013.2,2022.6 1013.55,2025.2 1013.9,2025 1014.25,2024.2 1014.6,2024.6 1014.95,2025.9 1015.3,2024.2 1015.65,2026.2 1016,2025.4 1016.35,2024.9 1016.7,2024.2 1017.05,2024.7 1017.4,2027.3 1017.75,2026.3 1018.1,2027 1018.45,2027.3 1018.8,2027.3 1019.15,2027.1 1019.5,2026.3 1019.85,2026.8 1020.2,2026.3 1020.55,2026.7 1020.9,2025.1 1021.25,2026.4 1021.6,2028.1 1021.95,2025.6 1022.3,2026.1 1022.65,2027.1 1023,2025.7 1023.35,2027.1 1023.7,2026.9 1024.05,2027.6 1024.4,2026.9 1024.75,2027.1 1025.1,2026.8 1025.45,2027.8 1025.8,2027.9 1026.15,2027.7 1026.5,2027.8 1026.85,2027.7 1027.2,2028 1027.55,2027.7 1027.9,2027.7 1028.25,2027.3 1028.6,2028.5 1028.95,2028.7 1029.3,2027.6 1029.65,2028.2 1030,2027.6 1030.35,2027.5 1030.7,2026.6 1031.05,2027.4 1031.4,2028.5 1031.75,2028.4 1032.1,2028.7 1032.45,2027.4 1032.8,2026.2 1033.15,2028.8 1033.5,2028 1033.85,2028.6 1034.2,2029.8 1034.55,2029 1034.9,2026.1 1035.25,2027.5 1035.6,2027.4 1035.95,2029.1 1036.3,2026.9 1036.65,2026.9 1037,2028.5 1037.35,2025.4 1037.7,2026.5 1038.05,2025.7 1038.4,2026.2 1038.75,2027.9 1039.1,2027.1 1039.45,2027 1039.8,2026.8 1040.15,2026.3 1040.5,2026.2 1040.85,2026.9 1041.2,2025.5 1041.55,2026.6 1041.9,2025.7 1042.25,2026.9 1042.6,2027.1 1042.95,2026.6 1043.3,2026.2 1043.65,2024.3 1044,2023.9 1044.35,2024.1 1044.7,2022.8 1045.05,2022.9 1045.4,2022.2 1045.5,2021.3 1045.75,2021.6 1046.1,2023.7 1046.45,2026.8 1046.8,2024.7 1047.15,2023.3 1047.5,2025.6 1047.85,2025.3 1048.2,2025.2 1048.55,2029.4 1048.9,2029.4 1049.25,2027.3 1049.6,2027.5 1049.95,2027.2 1050.3,2027.7 1050.65,2027.9 1051,2029 1051.35,2026.8 1051.7,2027.4 1052.05,2028.4 1052.4,2027.6 1052.75,2025.7 1053.1,2027 1053.45,2027.9 1053.8,2024.6 1054.15,2028.1 1054.5,2025.8 1054.85,2026.6 1055.2,2025.6 1055.55,2024.4 1055.9,2022.9 1056.25,2022 1056.6,2021 1056.95,2022.2 1057,2022.2 1057.3,2020.2 1057.65,2021.7 1058,2020.6 1058.35,2022.8 1058.7,2024.5 1059.05,2026.6 1059.4,2026.6 1059.75,2027.4 1060.1,2027.1 1060.45,2026.8 1060.8,2028.5 1061.15,2028.1 1061.5,2025.8 1061.85,2026.7 1062.2,2026.6 1062.55,2024.2 1062.9,2022.4 1063.25,2021.9 1063.6,2019.2 1063.95,2018 1064.3,2013.9 1064.65,2013.5 1064.9,2012.7 1065,2014.8 1065.35,2011.5 1065.7,2014.5 1066.05,2015.8 1066.4,2020 1066.75,2022.7 1067.1,2025.1 1067.45,2024.2 1067.8,2025.9 1068.15,2026.2 1068.5,2027.9 1068.85,2026.8 1069.2,2026.7 1069.55,2027.6 1069.9,2027 1070.25,2026.7 1070.6,2025.8 1070.95,2028.3 1071.3,2029.2 1071.65,2028.2 1072,2029 1072.35,2027 1072.7,2028.2 1073.05,2028.3 1073.4,2027.1 1073.75,2026.7 1074.1,2027.7 1074.45,2028.1 1074.8,2028.8 1075.15,2026.1 1075.5,2029.2 1075.85,2028.6 1076.2,2027.4 1076.55,2026.2 1076.9,2026.8 1077.25,2027.5 1077.6,2027.2 1077.95,2027 1078.3,2024.6 1078.65,2025.1 1079,2025.3 1079.35,2024.4 1079.7,2023.5 1080.05,2023.3 1080.4,2023.6 1080.75,2019.5 1081.1,2022.2 1081.45,2019.2 1081.8,2019 1082.15,2018.7 1082.5,2021.3 1082.85,2022 1083.2,2023 1083.55,2021.6 1083.9,2021.9 1084.25,2026 1084.6,2025.1 1084.95,2023 1085.3,2024.7 1085.65,2026.2 1086,2027.7 1086.35,2027.6 1086.7,2024.7 1087.05,2026.5 1087.4,2025.4 1087.75,2024.7 1088.1,2024.5 1088.45,2024.2 1088.8,2024.4 1089.15,2024.8 1089.5,2025.5 1089.85,2023 1090.2,2024.3 1090.55,2018.9 1090.9,2015.2 1091.25,2006.1 1091.6,2000 1091.95,2001.8 1092,2000.6 1092.3,1997.4 1092.65,2007.3 1093,2010.2 1093.35,2019 1093.7,2023.8 1094.05,2025.3 1094.4,2025.8 1094.75,2026.5 1095.1,2027 1095.45,2026.5 1095.8,2027.9 1096.15,2027 1096.5,2026 1096.85,2028.1 1097.2,2029.7 1097.55,2028.6 1097.9,2027 1098.25,2026.6 1098.6,2027.5 1098.95,2029.4 1099.3,2029 1099.65,2027.6 1100,2028.4 1100.35,2029.4 1100.7,2028.3 1101.05,2028 1101.4,2027.3 1101.75,2026 1102.1,2028.2 1102.45,2028.4 1102.8,2028.1 1103.15,2028.7 1103.5,2027.4 1103.85,2027.5 1104.2,2028.6 1104.55,2026.6 1104.9,2025.8 1105.25,2027 1105.6,2026.9 1105.95,2026.1 1106.3,2027 1106.65,2027.5 1107,2025.4 1107.35,2023.6 1107.7,2023.5 1108.05,2023.9 1108.4,2024.5 1108.75,2024.2 1109,2025.1 1109.1,2026.9 1109.45,2023.3 1109.8,2026 1110.15,2024.8 1110.5,2025.7 1110.85,2025 1111.2,2027.6 1111.55,2027.4 1111.9,2028.6 1112.25,2029.2 1112.6,2025.9 1112.95,2027.2 1113.3,2028.7 1113.65,2028.5 1114,2028 1114.35,2026.9 1114.7,2029.6 1115.05,2026.8 1115.4,2028.4 1115.75,2027.1 1116.1,2027.1 1116.45,2028.2 1116.8,2027.1 1117.15,2028.9 1117.5,2027.8 1117.85,2026.8 1118.2,2027.5 1118.55,2028 1118.9,2028.2 1119.25,2028.8 1119.6,2025.8 1119.95,2026.6 1120.3,2026.5 1120.65,2025.9 1121,2028.8 1121.35,2026.6 1121.7,2026.9 1122.05,2027.1 1122.4,2026.4 1122.75,2028.1 1123.1,2026.9 1123.45,2026.1 1123.8,2025.9 1124.15,2026.4 1124.5,2025.7 1124.85,2025.7 1125.2,2025.9 1125.55,2023.6 1125.9,2022.7 1126.25,2022.7 1126.6,2023.4 1126.95,2022.4 1127,2023.8 1127.3,2021.9 1127.65,2023.6 1128,2024.2 1128.35,2023.6 1128.7,2025.7 1129.05,2027.4 1129.4,2022.8 1129.75,2025.4 1130.1,2026.1 1130.45,2027 1130.8,2024.8 1131.15,2025.5 1131.5,2026 1131.85,2023.8 1132.2,2021.9 1132.55,2021.1 1132.8,2021.8 1132.9,2021.5 1133.25,2022.1 1133.6,2022.7 1133.95,2021.1 1134.3,2023.5 1134.65,2025.2 1135,2025.7 1135.35,2026.6 1135.7,2025.9 1136.05,2027.3 1136.4,2028.4 1136.75,2027.2 1137.1,2027.5 1137.45,2026.2 1137.8,2026 1138.15,2027.4 1138.5,2027.3 1138.85,2028.2 1139.2,2027.1 1139.55,2026.1 1139.9,2025.7 1140.25,2026.7 1140.6,2024.6 1140.95,2027 1141.3,2025.3 1141.65,2024.7 1142,2022.6 1142.35,2021.6 1142.7,2012.1 1143.05,2009.8 1143.4,2004.6 1143.7,2004.7 1143.75,2003.9 1144.1,2003 1144.45,2007.5 1144.8,2012.2 1145.15,2019.4 1145.5,2023.5 1145.85,2025.3 1146.2,2025.7 1146.55,2027.2 1146.9,2025.5 1147.25,2027.9 1147.6,2028.2 1147.95,2027.7 1148.3,2027.2 1148.65,2028.6 1149,2025.7 1149.35,2025.8 1149.7,2027 1150.05,2027 1150.4,2026.4 1150.75,2027.1 1151.1,2026.8 1151.45,2028.8 1151.8,2027.2 1152.15,2024.7 1152.5,2026.4 1152.85,2025.7 1153.2,2025.2 1153.55,2027.6 1153.9,2026.3 1154.25,2025.5 1154.6,2026.8 1154.95,2028.8 1155.3,2027 1155.65,2028.5 1156,2026.7 1156.35,2026.7 1156.7,2024 1157.05,2022 1157.4,2015.1 1157.75,2015.4 1158.1,2014.5 1158.2,2015.9 1158.45,2018.4 1158.8,2019.4 1159.15,2020.8 1159.5,2019.6 1159.85,2022.1 1160.2,2024.1 1160.55,2025.5 1160.9,2025.5 1161.25,2024.9 1161.6,2025 1161.95,2027.4 1162.3,2025.9 1162.65,2026.5 1163,2026.7 1163.35,2027.2 1163.7,2026.3 1164.05,2025.8 1164.4,2026.7 1164.75,2026 1165.1,2027.7 1165.45,2027 1165.8,2028 1166.15,2027.4 1166.5,2030.9 1166.85,2026.9 1167.2,2028.1 1167.55,2028.1 1167.9,2028 1168.25,2027.2 1168.6,2027.7 1168.95,2028.8 1169.3,2030.8 1169.65,2030.3 1170,2030.4 1170.35,2028.5 1170.7,2029.1 1171.05,2029.9 1171.4,2028.7 1171.75,2027.6 1172.1,2027.1 1172.45,2027.4 1172.8,2025.3 1173.15,2025.7 1173.5,2024.3 1173.85,2025.6 1174,2024.9 1174.2,2024.4 1174.55,2023.3 1174.9,2024.9 1175.25,2027.3 1175.6,2025.9 1175.95,2027.4 1176.3,2025.7 1176.65,2026.5 1177,2027.6 1177.35,2028.8 1177.7,2029.1 1178.05,2027.9 1178.4,2030.2 1178.75,2026 1179.1,2027.6 1179.45,2029.8 1179.8,2030.3 1180.15,2030.9 1180.5,2028.2 1180.85,2027.5 1181.2,2027.4 1181.55,2027.6 1181.9,2028.5 1182.25,2027.3 1182.6,2026.7 1182.95,2026.8 1183.3,2024.9 1183.65,2023.6 1184,2023.7 1184.35,2020.3 1184.6,2021 1184.7,2020 1185.05,2022.2 1185.4,2020.9 1185.75,2022.3 1186.1,2025.3 1186.45,2023.5 1186.8,2028.2 1187.15,2027.2 1187.5,2026.3 1187.85,2026.3 1188.2,2026.9 1188.55,2027 1188.9,2025.7 1189.25,2026.8 1189.6,2025.7 1189.95,2026.4 1190.3,2027 1190.65,2027 1191,2026.7 1191.35,2026.9 1191.7,2026.3 1192.05,2026.3 1192.4,2027.7 1192.75,2027.8 1193.1,2025.5 1193.45,2024.6 1193.8,2027.6 1194.15,2028.4 1194.5,2026 1194.85,2025.3 1195.2,2023.3 1195.55,2020.6 1195.9,2015.3 1196.25,2010.9 1196.6,2005.6 1196.95,2003.4 1197,2003.9 1197.3,2001.7 1197.65,2010.4 1198,2013.9 1198.35,2018.9 1198.7,2021.2 1199.05,2022.1 1199.4,2024.7 1199.75,2025 1200.1,2022.9 1200.45,2026.4 1200.8,2026.3 1201.15,2023.7 1201.5,2023.7 1201.85,2023.6 1202.2,2021.3 1202.55,2015.8 1202.9,2021 1203,2017.1 1203.25,2019.7 1203.6,2022.8 1203.95,2020.8 1204.3,2021.6 1204.65,2024.2 1205,2024.6 1205.35,2024 1205.7,2027.9 1206.05,2027 1206.4,2027.5 1206.75,2027.7 1207.1,2027.7 1207.45,2028.8 1207.8,2027.7 1208.15,2027.7 1208.5,2029 1208.85,2028.6 1209.2,2028.7 1209.55,2027.2 1209.9,2028.6 1210.25,2028.8 1210.6,2026.9 1210.95,2028.4 1211.3,2028.2 1211.65,2029.6 1212,2030.1 1212.35,2028.8 1212.7,2027.1 1213.05,2027.8 1213.4,2027.1 1213.75,2026.5 1214.1,2027.5 1214.45,2025.9 1214.8,2024.6 1215.15,2023.3 1215.4,2025 1215.5,2026.5 1215.85,2026.3 1216.2,2026.3 1216.55,2027 1216.9,2028.7 1217.25,2028.3 1217.6,2027.8 1217.95,2026.3 1218.3,2028.8 1218.65,2028.1 1219,2028.3 1219.35,2029 1219.7,2027.3 1220.05,2028.6 1220.4,2028.3 1220.75,2026.6 1221.1,2027.9 1221.45,2028.3 1221.8,2028.6 1222.15,2028 1222.5,2027.6 1222.85,2028.6 1223.2,2026.2 1223.55,2028.1 1223.9,2027.5 1224.25,2028.1 1224.6,2029.5 1224.95,2028.9 1225.3,2029.5 1225.65,2028.8 1226,2029.3 1226.35,2026.4 1226.7,2028.3 1227.05,2027.1 1227.4,2027.1 1227.75,2028.1 1228.1,2028.7 1228.45,2027.2 1228.8,2028.1 1229.15,2026.8 1229.5,2026.8 1229.85,2026.7 1230.2,2026.9 1230.55,2028.2 1230.9,2028 1231.25,2026.5 1231.6,2026.3 1231.95,2026.9 1232.3,2027.9 1232.65,2028.4 1233,2028 1233.35,2026.6 1233.7,2028 1234.05,2027.3 1234.4,2026.6 1234.75,2027.5 1235.1,2027.3 1235.45,2028.3 1235.8,2028.4 1236.15,2027.8 1236.5,2028.1 1236.85,2027.9 1237.2,2027.7 1237.55,2027 1237.9,2028.7 1238.25,2028.6 1238.6,2028.8 1238.95,2026.5 1239.3,2026.6 1239.65,2027.8 1240,2028.7 1240.35,2028 1240.7,2029.2 1241.05,2027.7 1241.4,2029 1241.75,2026.4 1242.1,2027 1242.45,2026.8 1242.8,2028.2 1243.15,2026.6 1243.5,2027.1 1243.85,2028 1244.2,2026.6 1244.55,2028 1244.9,2026.2 1245.25,2028.5 1245.6,2026.6 1245.95,2026.3 1246.3,2027.1 1246.65,2027.5 1247,2024 1247.35,2026 1247.7,2025.5 1248.05,2024 1248.4,2020.8 1248.75,2020.1 1249.1,2021.2 1249.45,2017.4 1249.7,2021.2 1249.8,2021.8 1250.15,2018.2 1250.5,2019.1 1250.85,2022.2 1251.2,2022.1 1251.55,2024.5 1251.9,2024.2 1252.25,2024.7 1252.6,2025.5 1252.95,2026.4 1253.3,2026.2 1253.65,2025.1 1254,2025.3 1254.35,2023.3 1254.7,2019.1 1255.05,2012.1 1255.4,2009.6 1255.75,2008.8 1255.8,2010.2 1256.1,2012.7 1256.45,2012.8 1256.8,2019.7 1257.15,2020.4 1257.5,2025.1 1257.85,2026.2 1258.2,2027.3 1258.55,2029.2 1258.9,2027.8 1259.25,2028.2 1259.6,2029.4 1259.95,2027.7 1260.3,2025.8 1260.65,2026.2 1261,2026.3 1261.35,2026.6 1261.7,2026.2 1262.05,2024.5 1262.4,2025.3 1262.75,2025.1 1263.1,2026.4 1263.45,2026.3 1263.8,2025.7 1264.15,2026.2 1264.5,2025.8 1264.85,2026.3 1265.2,2028.2 1265.55,2027.5 1265.9,2026.4 1266.25,2026.8 1266.6,2028.5 1266.95,2027.4 1267.3,2026.8 1267.65,2028 1268,2026.8 1268.35,2028.1 1268.7,2027.2 1269.05,2028.1 1269.4,2030 1269.75,2028 1270.1,2027 1270.45,2026.5 1270.8,2028 1271.15,2027.3 1271.5,2025.8 1271.85,2026.6 1272.2,2027 1272.55,2026.1 1272.9,2027.1 1273.25,2027.7 1273.6,2026.8 1273.95,2028.7 1274.3,2026.8 1274.65,2026.8 1275,2028.6 1275.35,2027.2 1275.7,2026.4 1276.05,2026.4 1276.4,2027.2 1276.75,2026 1277.1,2026.1 1277.45,2024.1 1277.8,2024.2 1278.15,2024.9 1278.5,2024 1278.7,2024.8 1278.85,2026.4 1279.2,2025.3 1279.55,2026.4 1279.9,2024.6 1280.25,2026.6 1280.6,2025.8 1280.95,2027.6 1281.3,2025.8 1281.65,2027.5 1282,2028.6 1282.35,2028 1282.7,2027.8 1283.05,2027.3 1283.4,2025.8 1283.75,2027.2 1284.1,2027.6 1284.45,2028.7 1284.8,2028.2 1285.15,2027.2 1285.5,2029.1 1285.85,2029 1286.2,2027.1 1286.55,2030.1 1286.9,2029.3 1287.25,2031.2 1287.6,2030.2 1287.95,2028 1288.3,2030.6 1288.65,2029.8 1289,2029 1289.35,2029.7 1289.7,2029.4 1290.05,2028.7 1290.4,2027.9 1290.75,2029.1 1291.1,2028.5 1291.45,2026.9 1291.8,2028.7 1292.15,2026.7 1292.5,2028.5 1292.85,2027.5 1293.2,2025.4 1293.55,2026.3 1293.9,2024.1 1294.25,2024.9 1294.6,2021.7 1294.95,2022.2 1295.3,2023.5 1295.4,2023.9 1295.65,2024.5 1296,2025.1 1296.35,2025.1 1296.7,2024.6 1297.05,2025.4 1297.4,2025.2 1297.75,2026.6 1298.1,2025.5 1298.45,2026.8 1298.8,2028.9 1299.15,2028 1299.5,2026.8 1299.85,2027.7 1300.2,2027.5 1300.55,2027.5 1300.9,2027.6 1301.25,2027.2 1301.6,2027.8 1301.95,2028.1 1302.3,2027.5 1302.65,2028.9 1303,2027.3 1303.35,2027.7 1303.7,2028.7 1304.05,2028.3 1304.4,2025.5 1304.75,2027 1305.1,2026.1 1305.45,2026.5 1305.8,2028.6 1306.15,2029 1306.5,2028 1306.85,2025.3 1307.2,2026.8 1307.55,2026.6 1307.9,2026.9 1308.25,2029 1308.6,2028 1308.95,2028.2 1309.3,2027.6 1309.65,2028.2 1310,2027.3 1310.35,2026.3 1310.7,2027.3 1311.05,2027 1311.4,2026.3 1311.75,2025.7 1312.1,2026.4 1312.45,2026.8 1312.8,2028.2 1313.15,2025.7 1313.5,2025 1313.85,2025.3 1314.2,2025.8 1314.55,2023.3 1314.9,2024 1315.25,2024.9 1315.6,2024.7 1315.95,2021.7 1316.3,2020.3 1316.5,2022 1316.65,2022.1 1317,2023.8 1317.35,2023.9 1317.7,2023.8 1318.05,2023.3 1318.4,2024.9 1318.75,2024.3 1319.1,2024.6 1319.45,2025.6 1319.8,2028.1 1320.15,2028.6 1320.5,2028.4 1320.85,2025.3 1321.2,2027.6 1321.55,2026.5 1321.9,2027.9 1322.25,2028.3 1322.6,2027.9 1322.95,2026.2 1323.3,2025.4 1323.65,2026.7 1324,2026.4 1324.35,2023.8 1324.7,2022.9 1325.05,2023 1325.4,2022 1325.75,2023.9 1326,2023.4 1326.1,2022.1 1326.45,2020.4 1326.8,2021 1327.15,2022.2 1327.5,2023.4 1327.85,2024.6 1328.2,2024.6 1328.55,2024.1 1328.9,2025.5 1329.25,2025.8 1329.6,2025 1329.95,2024.2 1330.3,2024.9 1330.65,2024 1331,2020.8 1331.35,2013.2 1331.7,2006.9 1332.05,1995.2 1332.4,1983.8 1332.75,1977.2 1332.9,1975.2 1333.1,1976.5 1333.45,1986.8 1333.8,1997.3 1334.15,2008.6 1334.5,2014.8 1334.85,2021.8 1335.2,2025.6 1335.55,2024.3 1335.9,2025.8 1336.25,2026.1 1336.6,2026.9 1336.95,2027.6 1337.3,2026.5 1337.65,2027.7 1338,2028 1338.35,2027.5 1338.7,2028.1 1339.05,2028.8 1339.4,2029 1339.75,2027.8 1340.1,2029 1340.45,2027.8 1340.8,2026.6 1341.15,2028.6 1341.5,2025.5 1341.85,2023.2 1342.2,2020 1342.55,2019.6 1342.9,2018 1343.25,2021.7 1343.6,2019.8 1343.95,2022.9 1344.3,2025.9 1344.65,2026 1345,2028.4 1345.35,2028.6 1345.7,2029 1346.05,2028.6 1346.4,2026.6 1346.75,2029.7 1347.1,2029.2 1347.45,2028.9 1347.8,2028.8 1348.15,2027.7 1348.5,2028.4 1348.85,2027.1 1349.2,2027.2 1349.55,2026.4 1349.9,2026.5 1350.25,2027 1350.6,2024.9 1350.95,2022.2 1351.3,2021.3 1351.65,2023.2 1351.7,2020.9 1352,2023 1352.35,2024.9 1352.7,2025.3 1353.05,2024.2 1353.4,2024.1 1353.75,2028.7 1354.1,2026.3 1354.45,2026.4 1354.8,2027.1 1355.15,2027.5 1355.5,2028.3 1355.85,2026.8 1356.2,2026.6 1356.55,2028.1 1356.9,2026.5 1357.25,2030 1357.6,2026.5 1357.95,2027.8 1358.3,2028.8 1358.65,2027.4 1359,2025.7 1359.35,2026.9 1359.7,2028.3 1360.05,2027 1360.4,2026 1360.75,2027.8 1361.1,2026.1 1361.45,2028.4 1361.8,2028.9 1362.15,2028.6 1362.5,2027.4 1362.85,2029.6 1363.2,2029.7 1363.55,2029.5 1363.9,2028 1364.25,2028.7 1364.6,2027.7 1364.95,2029.9 1365.3,2028.1 1365.65,2027.7 1366,2028.6 1366.35,2029.2 1366.7,2028.6 1367.05,2028.7 1367.4,2028 1367.75,2029.1 1368.1,2028.5 1368.45,2028.5 1368.8,2028.3 1369.15,2028.1 1369.5,2027.5 1369.85,2029.5 1370.2,2026.7 1370.55,2028.4 1370.9,2028.8 1371.25,2026.6 1371.6,2027 1371.95,2029 1372.3,2030.6 1372.65,2029 1373,2028.1 1373.35,2028.2 1373.7,2028.4 1374.05,2027.7 1374.4,2028.6 1374.75,2030.5 1375.1,2030.1 1375.45,2030.3 1375.8,2030.9 1376.15,2029.7 1376.5,2030.2 1376.85,2030.8 1377.2,2030.2 1377.55,2030.4 1377.9,2031 1378.25,2030.8 1378.6,2029.1 1378.95,2031.4 1379.3,2031.1 1379.65,2031.2 1380,2030 1380.35,2030.8 1380.7,2030.9 1381.05,2029.9 1381.4,2029.2 1381.75,2030 1382.1,2028.2 1382.45,2030 1382.8,2029.3 1383.15,2030.5 1383.5,2027.6 1383.85,2028.6 1384.2,2028.8 1384.55,2028.6 1384.9,2027.8 1385.25,2029 1385.6,2027.1 1385.95,2027.7 1386.3,2027.2 1386.65,2027.5 1387,2026.6 1387.35,2026.6 1387.7,2026.9 1388.05,2027.5 1388.4,2026.8 1388.75,2026.5 1389.1,2027.8 1389.45,2027.5 1389.8,2028.2 1390.15,2027.9 1390.5,2029.5 1390.85,2028.7 1391.2,2028.4 1391.55,2028.2 1391.9,2028.9 1392.25,2028.7 1392.6,2029.2 1392.95,2027.9 1393.3,2029.5 1393.65,2028 1394,2025.4 1394.35,2029.2 1394.7,2028.2 1395.05,2028.3 1395.4,2029 1395.75,2025.8 1396.1,2026.4 1396.45,2027.9 1396.8,2026.7 1397.15,2028.4 1397.5,2028.5 1397.85,2028 1398.2,2029.4 1398.55,2026.9 1398.9,2028.3 1399.25,2029.4 1399.6,2029.6 1399.95,2028.9 1400.3,2029.3 1400.65,2028 1401,2027.3 1401.35,2028 1401.7,2029.8 1402.05,2029.5 1402.4,2028.3 1402.75,2028.3 1403.1,2028.6 1403.45,2026.8 1403.8,2027.7 1404.15,2027.5 1404.5,2026.8 1404.85,2027.2 1405.2,2026.3 1405.55,2026.9 1405.9,2027.6 1406.25,2026.8 1406.6,2027.4 1406.95,2026.7 1407.3,2026.5 1407.65,2027.1 1408,2025.1 1408.35,2025.8 1408.7,2026.2 1409.05,2026.1 1409.4,2027 1409.75,2025.8 1410.1,2027.1 1410.45,2027.2 1410.8,2026.7 1411.15,2025.5 1411.5,2025 1411.85,2026.8 1412.2,2026.6 1412.55,2028.9 1412.9,2027.2 1413.25,2027.2 1413.6,2025.3 1413.95,2026.1 1414.3,2025.7 1414.65,2023.6 1415,2024.9 1415.35,2022.4 1415.7,2019.4 1416.05,2016.6 1416.4,2014 1416.75,2010.6 1417,2011.2 1417.1,2007.7 1417.45,2012.4 1417.8,2013.5 1418.15,2018.3 1418.5,2023.8 1418.85,2025.3 1419.2,2026.9 1419.55,2027.1 1419.9,2027.3 1420.25,2028.2 1420.6,2027.6 1420.95,2026.2 1421.3,2026.5 1421.65,2024.1 1422,2022.9 1422.35,2021.4 1422.7,2021.7 1423,2020.2 1423.05,2019.3 1423.4,2018.2 1423.75,2019.4 1424.1,2022.9 1424.45,2023 1424.8,2026.1 1425.15,2026 1425.5,2026.5 1425.85,2026.4 1426.2,2028.1 1426.55,2026 1426.9,2024.5 1427.25,2023.8 1427.6,2020.1 1427.95,2022.1 1428,2024 1428.3,2023.8 1428.65,2022.4 1429,2022.2 1429.35,2023.8 1429.7,2026.4 1430.05,2025.9 1430.4,2027.6 1430.75,2026.6 1431.1,2026.9 1431.45,2027.4 1431.8,2026.7 1432.15,2026.7 1432.5,2026.8 1432.85,2027.4 1433.2,2027.9 1433.55,2028.2 1433.9,2027.1 1434.25,2026.7 1434.6,2026.4 1434.95,2026.8 1435.3,2027.7 1435.65,2028 1436,2029.4 1436.35,2028.2 1436.7,2027.9 1437.05,2029.5 1437.4,2029.4 1437.75,2029.5 1438.1,2027.9 1438.45,2028.8 1438.8,2028.5 1439.15,2028.1 1439.5,2025.9 1439.85,2028.2 1440.2,2028.3 1440.55,2029.1 1440.9,2028.1 1441.25,2028.1 1441.6,2027.9 1441.95,2026.7 1442.3,2027.9 1442.65,2029 1443,2026.4 1443.35,2028.4 1443.7,2028.5 1444.05,2025.9 1444.4,2025.4 1444.75,2026.1 1445.1,2026.4 1445.45,2026.8 1445.8,2026.5 1446.15,2027.2 1446.5,2027.7 1446.85,2028.2 1447.2,2027.4 1447.55,2026.6 1447.9,2027.7 1448.25,2027.8 1448.6,2026.8 1448.95,2028 1449.3,2026.8 1449.65,2027.2 1450,2028 1450.35,2028 1450.7,2029.3 1451.05,2027.8 1451.4,2028.3 1451.75,2029.1 1452.1,2026.8 1452.45,2028.5 1452.8,2028.8 1453.15,2028 1453.5,2029.1 1453.85,2027.4 1454.2,2028.1 1454.55,2027.9 1454.9,2030.2 1455.25,2027.8 1455.6,2028.7 1455.95,2026.5 1456.3,2028.3 1456.65,2026.1 1457,2026.7 1457.35,2025.5 1457.7,2026.1 1458.05,2028 1458.4,2025.6 1458.75,2028.3 1459.1,2028.6 1459.45,2026.3 1459.8,2025.1 1460.15,2026.1 1460.5,2026.5 1460.85,2024.3 1461.2,2025.9 1461.55,2026.6 1461.9,2026.8 1462.25,2025.4 1462.6,2027.5 1462.95,2028.1 1463.3,2029.1 1463.65,2028 1464,2028.6 1464.35,2028.1 1464.7,2026.7 1465.05,2029.7 1465.4,2028.3 1465.75,2027.6 1466.1,2027.4 1466.45,2028.7 1466.8,2027.3 1467.15,2027.8 1467.5,2027.2 1467.85,2027.1 1468.2,2026.1 1468.55,2026.5 1468.9,2028.4 1469.25,2026.7 1469.6,2025.9 1469.95,2025.8 1470.3,2026.2 1470.65,2026.6 1471,2026.7 1471.35,2028.3 1471.7,2027.1 1472.05,2028.4 1472.4,2025.4 1472.75,2027.2 1473.1,2025.7 1473.45,2025.8 1473.8,2028.1 1474.15,2026.3 1474.5,2028.1 1474.85,2027.4 1475.2,2029.5 1475.55,2029.4 1475.9,2026.9 1476.25,2028.9 1476.6,2028.1 1476.95,2028.9 1477.3,2028.5 1477.65,2030.1 1478,2030.2 1478.35,2029.2 1478.7,2027.9 1479.05,2026.9 1479.4,2029.9 1479.75,2028.9 1480.1,2027.4 1480.45,2028 1480.8,2030.8 1481.15,2027.3 1481.5,2028.3 1481.85,2029.3 1482.2,2029.9 1482.55,2027.6 1482.9,2027.3 1483.25,2024.4 1483.6,2025.9 1483.95,2025.5 1484,2024 1484.3,2024.5 1484.65,2027.3 1485,2027.6 1485.35,2029.4 1485.7,2027.2 1486.05,2025.9 1486.4,2030.3 1486.75,2029.3 1487.1,2030.3 1487.45,2028 1487.8,2028.2 1488.15,2030 1488.5,2027.7 1488.85,2028.6 1489.2,2029.2 1489.55,2029.7 1489.9,2029.4 1490.25,2027.8 1490.6,2028.8 1490.95,2027.6 1491.3,2027.4 1491.65,2027.9 1492,2028.2 1492.35,2027 1492.7,2027 1493.05,2026.2 1493.4,2025.6 1493.75,2025.8 1494.1,2027.1 1494.45,2027.3 1494.8,2027.6 1495.15,2026.1 1495.5,2026.6 1495.85,2026.9 1496.2,2027.6 1496.55,2027.2 1496.9,2026.6 1497.25,2026 1497.6,2025.4 1497.95,2025.9 1498.3,2027.3 1498.65,2025.8 1499,2025.3 1499.35,2025.7 1499.7,2028.1 1500,2025.1 1500.05,2024.5 1500.4,2023.3 1500.75,2023.5 1501.1,2026.2 1501.45,2026.8 1501.8,2026.5 1502.15,2027.7 1502.5,2028 1502.85,2026.6 1503.2,2027.6 1503.55,2027.8 1503.9,2025.4 1504.25,2026.7 1504.6,2025.9 1504.95,2022.3 1505.3,2024.8 1505.65,2019.4 1506,2015.2 1506.35,2003.5 1506.7,2001.9 1507,2002.2 1507.05,1998.8 1507.4,2005.9 1507.75,2004.9 1508.1,2013.1 1508.45,2017.8 1508.8,2020.1 1509.15,2023.9 1509.5,2025.2 1509.85,2024.8 1510.2,2025.2 1510.55,2026.3 1510.9,2026.1 1511.25,2024.9 1511.6,2023.9 1511.95,2022.9 1512.3,2019.8 1512.65,2017.8 1513,2019.1 1513.35,2019.6 1513.7,2019.4 1514.05,2022.2 1514.4,2023.9 1514.75,2025.9 1515.1,2024.6 1515.45,2027.2 1515.8,2025.8 1516.15,2024.8 1516.5,2027.1 1516.85,2027.4 1517.2,2026.9 1517.55,2026.1 1517.9,2028.1 1518.25,2026.9 1518.6,2027.1 1518.95,2028.5 1519.3,2029 1519.65,2028.4 1520,2029 1520.35,2027.9 1520.7,2029 1521.05,2027.4 1521.4,2028.7 1521.75,2030.7 1522.1,2028.4 1522.45,2027.1 1522.8,2026.8 1523.15,2026.9 1523.5,2026.9 1523.85,2028.1 1524.2,2029.1 1524.55,2028.2 1524.9,2028 1525.25,2028.5 1525.6,2027.5 1525.95,2028.2 1526.3,2029.2 1526.65,2029.6 1527,2028.3 1527.35,2028.6 1527.7,2028.1 1528.05,2028.6 1528.4,2029.8 1528.75,2028.4 1529.1,2027.4 1529.45,2029.3 1529.8,2029.6 1530.15,2029.7 1530.5,2029.3 1530.85,2027.6 1531.2,2027 1531.55,2028.4 1531.9,2027.5 1532.25,2027.7 1532.6,2028.5 1532.95,2025.4 1533.3,2025.6 1533.65,2026.1 1534,2026.3 1534.35,2026.8 1534.7,2026.7 1535.05,2025.3 1535.4,2027.1 1535.75,2025.5 1536.1,2026.4 1536.45,2026.5 1536.8,2025.6 1537.15,2024.2 1537.5,2024.1 1537.85,2024.7 1538.2,2024.9 1538.55,2022.5 1538.9,2022.7 1539,2023.7 1539.25,2025.6 1539.6,2024.6 1539.95,2024.8 1540.3,2023.9 1540.65,2024.6 1541,2027 1541.35,2025.9 1541.7,2028.4 1542.05,2026.6 1542.4,2028.2 1542.75,2028.9 1543.1,2028.5 1543.45,2028.2 1543.8,2030.1 1544.15,2027.9 1544.5,2028.3 1544.85,2027.7 1545.2,2029 1545.55,2029.3 1545.9,2029.5 1546.25,2028.6 1546.6,2029.2 1546.95,2027.7 1547.3,2028.2 1547.65,2029.2 1548,2026.7 1548.35,2027.2 1548.7,2029.3 1549.05,2029 1549.4,2028.7 1549.75,2028.5 1550.1,2029.7 1550.45,2028.9 1550.8,2028 1551.15,2026.6 1551.5,2028 1551.85,2026.4 1552.2,2026.9 1552.55,2026.3 1552.9,2028.5 1553.25,2026.2 1553.6,2026.9 1553.95,2027.9 1554.3,2024.8 1554.65,2026.3 1555,2025.4 1555.35,2028.2 1555.7,2027.5 1556.05,2027.2 1556.4,2027.5 1556.75,2027.9 1557.1,2027.8 1557.45,2027.6 1557.8,2028.2 1558.15,2028.1 1558.5,2029.7 1558.85,2027.3 1559.2,2027.6 1559.55,2028.8 1559.9,2029.1 1560.25,2028.1 1560.6,2029.7 1560.95,2029.6 1561.3,2030 1561.65,2028.2 1562,2029.4 1562.35,2028.2 1562.7,2028.9 1563.05,2029.1 1563.4,2028.2 1563.75,2028.3 1564.1,2030.4 1564.45,2027.8 1564.8,2029.2 1565.15,2029.6 1565.5,2029.5 1565.85,2027.9 1566.2,2027.2 1566.55,2028.8 1566.9,2027.2 1567.25,2027.3 1567.6,2026.9 1567.95,2026.3 1568.3,2026.9 1568.65,2027.1 1569,2025.3 1569.35,2028.6 1569.7,2026.8 1570.05,2027.9 1570.4,2027.1 1570.75,2025.2 1571.1,2025.2 1571.45,2024.2 1571.8,2023.8 1572.15,2023.6 1572.5,2023.2 1572.85,2023.4 1573,2023.1 1573.2,2022.4 1573.55,2021.5 1573.9,2023.7 1574.25,2023.7 1574.6,2025.2 1574.95,2024.4 1575.3,2025.7 1575.65,2024.9 1576,2027 1576.35,2026.3 1576.7,2026.6 1577.05,2028.2 1577.4,2025.4 1577.75,2023.8 1578.1,2023 1578.45,2021.5 1578.8,2020.5 1579,2020.6 1579.15,2020.7 1579.5,2021.2 1579.85,2023.3 1580.2,2024.1 1580.55,2026.3 1580.9,2026.1 1581.25,2027 1581.6,2029.4 1581.95,2026 1582.3,2027.3 1582.65,2027.8 1583,2028.2 1583.35,2026.7 1583.7,2027.2 1584.05,2026.5 1584.4,2027.4 1584.75,2026.2 1585.1,2028.7 1585.45,2027.9 1585.8,2026.9 1586.15,2029.2 1586.5,2028.4 1586.85,2027.4 1587.2,2028.8 1587.55,2027.6 1587.9,2026.4 1588.25,2028.3 1588.6,2029.9 1588.95,2026.9 1589.3,2027.9 1589.65,2029.5 1590,2029 1590.35,2029.2 1590.7,2028.2 1591.05,2030.1 1591.4,2028.6 1591.75,2028.2 1592.1,2028.7 1592.45,2028.5 1592.8,2028.3 1593.15,2028.1 1593.5,2027.5 1593.85,2027.9 1594.2,2027.3 1594.55,2028.6 1594.9,2028.4 1595.25,2026.3 1595.6,2027.8 1595.95,2028 1596.3,2027.1 1596.65,2028.5 1597,2027.3 1597.35,2027.5 1597.7,2026.9 1598.05,2028.1 1598.4,2028.2 1598.75,2030 1599.1,2029.8 1599.45,2029.2 1599.8,2029.1 1600.15,2029.1 1600.5,2029 1600.85,2027.1 1601.2,2029.2 1601.55,2029.6 1601.9,2028.8 1602.25,2027.5 1602.6,2027.3 1602.95,2026.7 1603.3,2030.2 1603.65,2029.6 1604,2029.8 1604.35,2028.4 1604.7,2027.9 1605.05,2027.2 1605.4,2028.4 1605.75,2026.5 1606.1,2027.3 1606.45,2028.9 1606.8,2029.4 1607.15,2027.3 1607.5,2028.2 1607.85,2027.7 1608.2,2028.4 1608.55,2026.8 1608.9,2028.1 1609.25,2027.9 1609.6,2027.8 1609.95,2027.7 1610.3,2027.6 1610.65,2028 1611,2027 1611.35,2027.7 1611.7,2026.7 1612.05,2027.6 1612.4,2026.7 1612.75,2026.3 1613.1,2026.3 1613.45,2026.4 1613.8,2027.5 1614.15,2026 1614.5,2027.2 1614.85,2027.6 1615.2,2029 1615.55,2028.3 1615.9,2026.6 1616.25,2026.3 1616.6,2027.6 1616.95,2027.8 1617.3,2026.3 1617.65,2027.8 1618,2024.7 1618.35,2024.5 1618.7,2025.8 1619.05,2027.2 1619.4,2027.2 1619.75,2026.7 1620.1,2028 1620.45,2027.3 1620.8,2026.1 1621.15,2027.1 1621.5,2026.2 1621.85,2025.3 1622.2,2026.4 1622.55,2025.2 1622.9,2026.3 1623.25,2025.2 1623.6,2024.5 1623.95,2027.4 1624.3,2026.8 1624.65,2025.9 1625,2026.2 1625.35,2027 1625.7,2026.8 1626.05,2026.7 1626.4,2027.2 1626.75,2026.1 1627.1,2026.9 1627.45,2028.7 1627.8,2026.6 1628.15,2025.9 1628.5,2027 1628.85,2027.9 1629.2,2026.7 1629.55,2027.1 1629.9,2027 1630.25,2029.2 1630.6,2029.2 1630.95,2028.4 1631.3,2029.4 1631.65,2027.2 1632,2027.6 1632.35,2028.7 1632.7,2029.7 1633.05,2026.8 1633.4,2028 1633.75,2026.8 1634.1,2027 1634.45,2027.5 1634.8,2025.3 1635.15,2027.6 1635.5,2025.7 1635.85,2026.8 1636,2024.7 1636.2,2024.8 1636.55,2023.7 1636.9,2027.5 1637.25,2028.4 1637.6,2026.3 1637.95,2026.9 1638.3,2028.8 1638.65,2026.4 1639,2027.3 1639.35,2026.7 1639.7,2028.5 1640.05,2027.8 1640.4,2028.2 1640.75,2028.4 1641.1,2026.3 1641.45,2026.6 1641.8,2026.7 1642.15,2026.9 1642.5,2025.9 1642.85,2025.8 1643.2,2024.3 1643.55,2021.3 1643.9,2019.1 1644.25,2016.3 1644.6,2013.2 1644.95,2015.9 1645,2017.2 1645.3,2014.4 1645.65,2018.6 1646,2020.4 1646.35,2020.2 1646.7,2022.2 1647.05,2023.6 1647.4,2025.9 1647.75,2027 1648.1,2025.3 1648.45,2024.4 1648.8,2025.4 1649.15,2025.7 1649.5,2023.3 1649.85,2020 1650.2,2013.7 1650.55,2012.3 1650.9,2005.8 1651.25,2003.4 1651.5,2002.9 1651.6,2002.7 1651.95,2004.1 1652.3,2009.5 1652.65,2015 1653,2020.8 1653.35,2021 1653.7,2020.9 1654.05,2023.6 1654.4,2019.9 1654.75,2013.1 1655.1,2008.6 1655.45,2004 1655.8,2003.8 1656,2001 1656.15,2004.3 1656.5,2005.4 1656.85,2008.5 1657.2,2015.5 1657.55,2017 1657.9,2022 1658.25,2025.9 1658.6,2025.8 1658.95,2026.7 1659.3,2026.2 1659.65,2027.7 1660,2026.3 1660.35,2027.5 1660.7,2028.7 1661.05,2027.8 1661.4,2029.5 1661.75,2029 1662.1,2028.9 1662.45,2027.7 1662.8,2028.3 1663.15,2027.6 1663.5,2027.6 1663.85,2028.1 1664.2,2029 1664.55,2029.9 1664.9,2027.3 1665.25,2030.3 1665.6,2026.6 1665.95,2026.7 1666.3,2030.2 1666.65,2029.5 1667,2028.6 1667.35,2028.6 1667.7,2028.2 1668.05,2026.3 1668.4,2028.3 1668.75,2026.9 1669.1,2025.6 1669.45,2027.7 1669.8,2028.1 1670.15,2028.2 1670.5,2027.9 1670.85,2026.8 1671.2,2027.5 1671.55,2026.3 1671.9,2027 1672.25,2028.4 1672.6,2026.4 1672.95,2024.6 1673.3,2026.2 1673.65,2025.2 1674,2025.7 1674.35,2027.4 1674.7,2026.8 1675.05,2025.6 1675.4,2025.5 1675.75,2026.4 1676.1,2025.5 1676.45,2027.4 1676.8,2024.5 1677,2025.6 1677.15,2025.9 1677.5,2025 1677.85,2026 1678.2,2026.8 1678.55,2027.6 1678.9,2025.1 1679.25,2027.5 1679.6,2028 1679.95,2028.4 1680.3,2028 1680.65,2027.3 1681,2027.1 1681.35,2029.4 1681.7,2028.2 1682.05,2029.8 1682.4,2028.6 1682.75,2029.3 1683.1,2028.6 1683.45,2028.2 1683.8,2030"/>
</g>
<g id="legend">
<line x1="420" y1="75" x2="605" y2="75" stroke="#F4D000" stroke-width="8" stroke-linecap="round" shape-rendering="crispEdges"/>
<text transform="translate(626.9,103.2) scale(0.997,1.04)" text-anchor="start">MMT</text>
<line x1="417.5" y1="771.5" x2="603.3" y2="771.5" stroke="#83AF9B" stroke-width="7" stroke-linecap="round" shape-rendering="crispEdges"/>
<text transform="translate(625.3,800) scale(0.99,1.04)" text-anchor="start">ILL</text>
<line x1="417.5" y1="1467.5" x2="603.3" y2="1467.5" stroke="#FE4365" stroke-width="7" stroke-linecap="round" shape-rendering="crispEdges"/>
<text transform="translate(625.4,1496.1) scale(0.987,1.04)" text-anchor="start">KAO</text>
</g>
<g id="ticks">
<rect class="tr" x="438" y="689" width="6" height="29" rx="1.6"/>
<rect class="tr" x="704.4" y="689" width="6" height="29" rx="1.6"/>
<rect class="tr" x="970.8" y="689" width="6" height="29" rx="1.6"/>
<rect class="tr" x="1237.2" y="689" width="6" height="29" rx="1.6"/>
<rect class="tr" x="1503.6" y="689" width="6" height="29" rx="1.6"/>
<rect class="tr" x="1770" y="689" width="6" height="29" rx="1.6"/>
<rect class="tr" x="438" y="1386" width="6" height="29" rx="1.6"/>
<rect class="tr" x="704.4" y="1386" width="6" height="29" rx="1.6"/>
<rect class="tr" x="970.8" y="1386" width="6" height="29" rx="1.6"/>
<rect class="tr" x="1237.2" y="1386" width="6" height="29" rx="1.6"/>
<rect class="tr" x="1503.6" y="1386" width="6" height="29" rx="1.6"/>
<rect class="tr" x="1770" y="1386" width="6" height="29" rx="1.6"/>
<rect class="tr" x="438" y="2082" width="6" height="29" rx="1.6"/>
<rect class="tr" x="704.4" y="2082" width="6" height="29" rx="1.6"/>
<rect class="tr" x="970.8" y="2082" width="6" height="29" rx="1.6"/>
<rect class="tr" x="1237.2" y="2082" width="6" height="29" rx="1.6"/>
<rect class="tr" x="1503.6" y="2082" width="6" height="29" rx="1.6"/>
<rect class="tr" x="1770" y="2082" width="6" height="29" rx="1.6"/>
<rect class="tr" x="397.0" y="124" width="29" height="6" rx="1.6"/>
<text transform="translate(367.3,151.6) scale(0.993,1.03)" text-anchor="end">2250</text>
<rect class="tr" x="397.0" y="298" width="29" height="6" rx="1.6"/>
<text transform="translate(367.3,325.6) scale(0.993,1.03)" text-anchor="end">1500</text>
<rect class="tr" x="397.0" y="472" width="29" height="6" rx="1.6"/>
<text transform="translate(367.3,499.6) scale(0.993,1.03)" text-anchor="end">750</text>
<rect class="tr" x="397.0" y="646" width="29" height="6" rx="1.6"/>
<text transform="translate(367.3,673.6) scale(0.993,1.03)" text-anchor="end">0</text>
<rect class="tr" x="397.0" y="802" width="29" height="6" rx="1.6"/>
<text transform="translate(367.3,829.6) scale(0.993,1.03)" text-anchor="end">9300</text>
<rect class="tr" x="397.0" y="978.7" width="29" height="6" rx="1.6"/>
<text transform="translate(367.3,1006.3) scale(0.993,1.03)" text-anchor="end">6200</text>
<rect class="tr" x="397.0" y="1155.3" width="29" height="6" rx="1.6"/>
<text transform="translate(367.3,1182.9) scale(0.993,1.03)" text-anchor="end">3100</text>
<rect class="tr" x="397.0" y="1332" width="29" height="6" rx="1.6"/>
<text transform="translate(367.3,1359.6) scale(0.993,1.03)" text-anchor="end">0</text>
<rect class="tr" x="397.0" y="1510" width="29" height="6" rx="1.6"/>
<text transform="translate(367.3,1537.6) scale(0.993,1.03)" text-anchor="end">4800</text>
<rect class="tr" x="397.0" y="1684" width="29" height="6" rx="1.6"/>
<text transform="translate(367.3,1711.6) scale(0.993,1.03)" text-anchor="end">3200</text>
<rect class="tr" x="397.0" y="1858" width="29" height="6" rx="1.6"/>
<text transform="translate(367.3,1885.6) scale(0.993,1.03)" text-anchor="end">1600</text>
<rect class="tr" x="397.0" y="2032" width="29" height="6" rx="1.6"/>
<text transform="translate(367.3,2059.6) scale(0.993,1.03)" text-anchor="end">0</text>
<text transform="translate(441,2202.8) scale(0.993,1.03)" text-anchor="middle">0</text>
<text transform="translate(707.4,2202.8) scale(0.993,1.03)" text-anchor="middle">15</text>
<text transform="translate(973.8,2202.8) scale(0.993,1.03)" text-anchor="middle">30</text>
<text transform="translate(1240.2,2202.8) scale(0.993,1.03)" text-anchor="middle">45</text>
<text transform="translate(1506.6,2202.8) scale(0.993,1.03)" text-anchor="middle">60</text>
<text transform="translate(1773,2202.8) scale(0.993,1.03)" text-anchor="middle">75</text>
</g>
<g id="frame">
<rect class="ax" x="397.0" y="23.0" width="1420.0" height="2088.0"/>
<line class="ax" x1="397.0" y1="718.0" x2="1817.0" y2="718.0"/>
<line class="ax" x1="397.0" y1="1415.0" x2="1817.0" y2="1415.0"/>
</g>
<g id="titles">
<text transform="translate(724.2,2350) scale(0.9885,1.01)" text-anchor="start">Diffraction angle (2<tspan class="th" x="708.95" textLength="48" lengthAdjust="spacingAndGlyphs">θ</tspan><tspan x="749.9" textLength="24.9" lengthAdjust="spacingAndGlyphs">)</tspan></text>
<text transform="translate(94.1,1122.4) rotate(-90) scale(0.9885,1.01)" text-anchor="middle">Diffraction intensity (Counts)</text>
</g>
</svg>
</body>
</html>
